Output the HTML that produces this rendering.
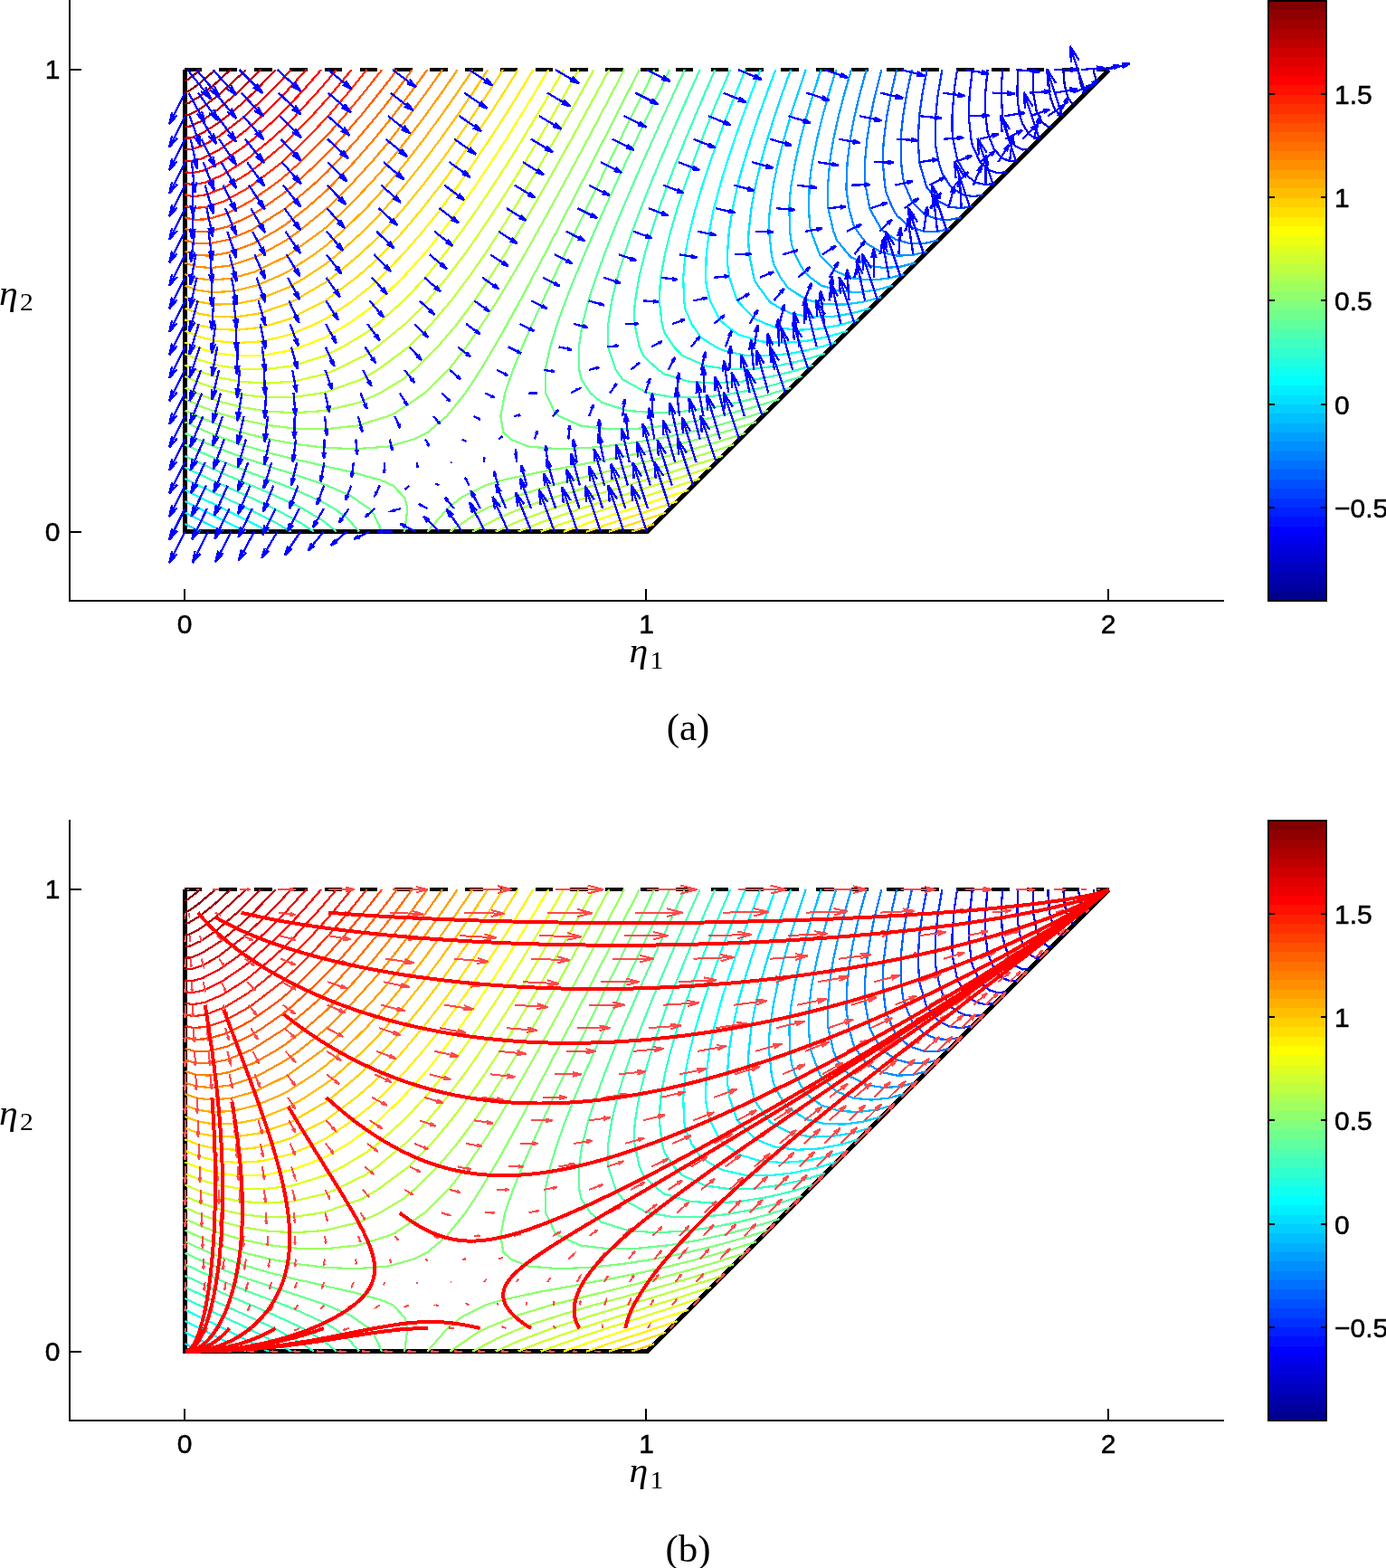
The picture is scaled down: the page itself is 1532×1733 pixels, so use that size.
<!DOCTYPE html>
<html><head><meta charset="utf-8"><title>Figure</title>
<style>html,body{margin:0;padding:0;background:#fff;overflow:hidden}svg{display:block}</style></head>
<body><svg width="1532" height="1733" viewBox="0 0 1532 1733">
<rect width="1532" height="1733" fill="#fff"/>
<g shape-rendering="crispEdges">
<!-- panel a -->
<g fill="none" stroke="#000" stroke-width="5" stroke-linecap="butt" stroke-linejoin="miter"><path d="M204.5,77.1L204.5,587.6L715,587.6L1225.5,77.1"/><path d="M203.5,77.1L1225.5,77.1" stroke-dasharray="19.6,19.2" stroke-width="3.8"/></g>
<g fill="none" stroke-width="2.25" stroke-linejoin="round"><path d="M1212.9,89.7L1211.5,87.9L1209.3,80.6L1208.8,77.1" stroke="#00008f"/><path d="M1200.4,102.2L1197.9,100.8L1194.8,94L1192.2,79.4L1192,77.1" stroke="#00009f"/><path d="M1187.8,114.8L1184.4,113.7L1180.4,107.5L1178.8,102.6L1176.7,93.6L1175.3,77.1" stroke="#0000af"/><path d="M1175.3,127.3L1170.9,126.6L1165.9,121L1161.1,107.9L1160.2,102.6L1158.5,83.5L1158.5,77.1" stroke="#0000bf"/><path d="M1162.7,139.9L1157.4,139.6L1151.4,134.4L1148.1,128.2L1145.6,122.2L1142.1,102.6L1141.8,98.9L1141.8,77.1" stroke="#0000cf"/><path d="M1150.2,152.4L1143.9,152.5L1136.9,147.9L1130,136.4L1127.6,128.1L1125.1,114.4L1124.4,102.6L1125.1,77.1" stroke="#0000df"/><path d="M1137.6,165L1130.4,165.4L1122.4,161.4L1116.4,153.7L1114.5,150.7L1108.3,129.9L1108.1,128.2L1106.7,102.6L1107,92.7L1108.3,77.1" stroke="#0000ef"/><path d="M1125.1,177.5L1116.9,178.4L1107.9,174.9L1098.9,165L1094.2,153.7L1091.6,145.3L1089.4,128.2L1088.9,110L1089.2,102.6L1091.6,77.1" stroke="#0000ff"/><path d="M1112.5,190.1L1103.4,191.3L1093.4,188.3L1083.4,179.2L1083.3,179.2L1074.9,160.8L1073.4,153.7L1070.7,128.2L1070.7,127.3L1071.8,102.6L1074.9,77.1" stroke="#0010ff"/><path d="M1100,202.6L1089.9,204.2L1078.9,201.8L1067.8,193.5L1059.5,179.2L1058.1,176.3L1053.4,153.7L1052.5,144.6L1052.5,128.2L1054.4,102.6L1056.3,88L1058.1,77.1" stroke="#0020ff"/><path d="M1087.4,215.2L1076.4,217.2L1064.4,215.3L1052.3,207.8L1049.9,204.7L1041.4,191.7L1037.6,179.2L1034.3,161.9L1033.9,153.7L1034.3,128.2L1036.2,108.3L1037,102.6L1041.4,77.1" stroke="#0030ff"/><path d="M1074.9,227.7L1062.9,230.1L1049.9,228.8L1036.7,222.1L1024.6,207.2L1023.6,204.7L1016.1,179.3L1016.1,179.2L1014.8,153.7L1016.1,128.6L1016.1,128.2L1019.7,102.6L1024.6,77.1" stroke="#0040ff"/><path d="M1062.3,240.3L1049.4,243L1035.4,242.2L1021.2,236.3L1014.8,230.2L1007.9,222.6L1000.3,204.7L998,196.6L996,179.2L995.7,153.7L995.9,149L998.2,128.1L1002.4,102.6L1007.9,77.1" stroke="#0060ff"/><path d="M1049.8,252.8L1036.6,255.8L1035.9,255.9L1025.2,255.8L1020.9,255.7L1005.6,250.6L991.2,238.1L986.7,230.2L979.8,213.9L978.1,204.7L975.8,179.2L975.8,169.3L977,153.7L980.3,128.2L985.2,102.6L989.3,84.5L991.2,77.1" stroke="#0070ff"/><path d="M1037.2,265.4L1022.4,268.9L1006.4,269.2L990.1,264.9L977.2,255.8L974.4,253.6L961.6,231.2L961.3,230.2L956.6,204.7L955.7,189.7L956,179.2L958.4,153.7L962.5,128.2L966.1,110.3L967.9,102.6L974.4,77.1" stroke="#0080ff"/><path d="M1024.6,278L1010.9,281.3L1008.9,281.8L992,282.7L985,281.3L974.5,279.1L957.7,269L947.7,255.8L943.4,248.5L938.4,230.2L935.5,210L935.5,204.7L936.6,179.2L939.8,153.7L943,136L944.6,128.1L950.7,102.6L957.7,77.1" stroke="#008fff"/><path d="M1012.1,290.5L995.4,294.7L977.5,296.1L959,293.4L941,284.5L937.8,281.3L925.2,265.8L921.3,255.8L915.4,230.3L915.4,230.2L915.1,204.7L917.2,179.2L919.8,161.7L921.3,153.7L926.9,128.2L933.6,102.6L941,77.1" stroke="#009fff"/><path d="M999.5,303.1L985.1,306.8L981.9,307.7L963,309.6L943.4,307.7L941.1,306.8L924.2,300L907.1,283.1L906.1,281.3L896.5,255.8L895.3,250.7L893.9,230.2L894.7,204.7L896.6,187.5L898,179.2L903.1,153.7L909.3,128.2L916.4,102.6L924.2,77.1" stroke="#00afff"/><path d="M987,315.6L968.4,320.6L948.5,323.1L927.9,321.9L907.5,315.4L896,306.8L888.9,300.5L878.8,281.3L875.2,271L873.1,255.8L872.4,230.2L873.5,213.2L874.6,204.7L879,179.2L884.8,153.7L891.6,128.2L899.2,102.6L904.6,85.7L907.5,77.1" stroke="#00bfff"/><path d="M974.4,328.2L959.1,332.4L954.9,333.5L934,336.5L912.3,336.2L896.2,332.4L890.7,330.9L870.7,317.8L862.9,306.8L855,291.3L852.8,281.3L850.1,255.8L850.3,238.9L851.1,230.2L854.8,204.7L860.1,179.2L866.5,153.7L873.9,128.2L875.5,122.7L882,102.6L890.7,77.1" stroke="#00cfff"/><path d="M204.5,579.2L221.2,587.6M961.9,340.7L941.3,346.5L919.5,350L896.8,350.5L874,346.4L852.5,335.1L849.9,332.4L834.9,311.7L833.3,306.8L828.1,281.3L827.1,264.7L827.6,255.8L830.4,230.3L835.1,204.7L841.1,179.2L846.4,159.8L848.3,153.7L856.3,128.1L864.9,102.6L874,77.1" stroke="#00dfff"/><path d="M204.5,566.7L229.7,579.2L246.3,587.6M949.3,353.3L933.1,357.9L927.8,359.4L905,363.5L881.2,364.8L857.3,361.8L846.8,357.9L834.3,352.4L815,332.4L814.8,332L806.4,306.8L803.9,290.4L803.9,281.3L805.8,255.8L809.8,230.2L815.4,204.7L817.3,196.9L822.3,179.2L830.2,153.7L838.7,128.1L847.8,102.6L857.3,77.1" stroke="#00efff"/><path d="M204.5,554.1L220.6,562.1L229.1,566.3L254.9,579.1L271.5,587.6M936.8,365.8L914.3,372.3L890.5,377L865.7,379L840.5,377.3L816.1,369.7L800.4,357.9L794.7,352.4L785,332.4L780.8,316.1L780.1,306.8L780.7,281.3L784,255.8L788.2,234L789.1,230.2L795.9,204.7L803.6,179.2L812.1,153.7L821.1,128.2L830.6,102.6L840.5,77.1" stroke="#00ffff"/><path d="M204.5,541.6L228.5,553.3L246.7,562.1L253.9,565.6L280.3,578.8L296.6,587.6M924.2,378.4L907.1,383.4L900.8,385.2L876,390.4L850.1,393.3L823.8,392.8L798,387L791,383.4L774.5,372.7L764.4,357.9L757.6,341.9L756.1,332.4L755.2,306.8L757.5,281.3L759.1,271.1L762.4,255.8L768.9,230.2L776.5,204.7L784.9,179.2L794,153.7L803.5,128.2L813.5,102.6L823.8,77.1" stroke="#10ffef"/><path d="M204.5,529L220,536.6L227.9,540.4L252.9,552.1L274,562.1L279,564.5L305.8,578.3L321.7,587.6M911.7,390.9L887.3,398.2L861.5,403.9L834.6,407.6L807.1,408.2L779.8,404.4L754.4,393L744.9,383.4L734.4,367.6L731.7,357.9L728.8,332.4L730,308.2L730.2,306.8L734.9,281.3L741.2,255.8L748.7,230.2L757.1,204.7L766.2,179.2L775.9,153.7L785.9,128.2L790.8,116.1L796.4,102.6L807.1,77.1" stroke="#30ffcf"/><path d="M204.5,516.5L227.4,527.5L247.3,536.6L251.8,538.6L277.7,550.3L303,562.1L304.6,562.9L331.6,577.5L346.8,587.6M899.1,403.5L881,408.9L873.8,411.1L847,417.4L819,421.8L790.3,423.7L761.6,421.7L734.3,413.4L727.7,408.9L711.3,393.3L706.8,383.4L701.4,357.9L700.9,345.3L702.1,332.4L706.3,306.8L712.5,281.3L720,255.8L728.5,230.2L737.7,204.7L743.9,188.5L747.5,179.2L757.8,153.7L768.4,128.2L779.2,102.6L790.3,77.1" stroke="#40ffbf"/><path d="M204.5,503.9L219.4,511L226.8,514.5L250.8,525.2L276.5,536L277.9,536.6L303.3,547.4L330.8,560.2L334.6,562.1L357.8,576.1L371.9,587.6M886.6,416L860.3,424L832.5,430.9L812.4,434.4L803.5,436.1L773.6,439.1L743.4,439L717.7,434.4L714.1,433.7L688.1,419.1L680.8,408.9L672,383.4L671.8,382.4L672.3,357.9L676.2,332.4L682.4,306.8L690.1,281.3L697,260.8L698.8,255.8L708.4,230.3L718.5,204.7L729,179.2L739.8,153.7L750.8,128.2L762.1,102.6L773.6,77.1" stroke="#50ffaf"/><path d="M204.5,491.4L226.2,501.6L248.3,511L249.8,511.7L275.2,521.7L302,531.9L314.6,536.6L329.9,542.9L358,555.7L369.4,562.1L384.6,573.4L397,587.6M874,428.6L854.9,434.4L846.8,437L818,444.3L788,450.4L756.8,454.6L725.2,456.3L694,454L664.9,444.8L652.7,434.4L642.7,419.5L640.3,408.9L639.9,383.4L643.8,357.9L650.1,333.2L650.4,332.4L658.7,306.8L668,281.3L677.9,255.8L688.4,230.2L699.3,204.7L710.4,179.2L721.8,153.7L733.3,128.2L745,102.6L756.8,77.1" stroke="#60ff9f"/><path d="M204.5,478.8L218.9,485.5L225.6,488.7L248.8,498.2L273.9,507.5L285.1,511L300.7,516.5L329,525.6L358.2,535.4L361.6,536.6L387.1,547.7L408,562.1L413,567.8L422.1,587.6M861.5,441.1L833.3,449.9L803.6,457.8L793.4,460L772.4,464.6L740.1,470.1L707.1,473.6L673.9,474.4L641.8,470.5L618.3,460L613.6,456.6L603.2,434.4L602.8,408.9L603.3,405.5L608.2,383.4L616,357.9L625.2,332.4L635.3,306.8L645.9,281.3L657,255.8L668.4,230.2L680,204.7L691.8,179.2L703.7,153.7L715.8,128.1L727.9,102.6L740.1,77.1" stroke="#70ff8f"/><path d="M204.5,466.3L225.1,475.8L247.8,484.8L250.1,485.5L272.6,493.2L299.5,501L328.2,508.2L341.8,511L358.4,515.1L389.7,522L420.9,530.7L434.4,536.6L447.4,550.2L450.4,562.1L447.2,587.6M848.9,453.7L828.8,460L819.8,462.8L789.1,471.3L756.9,478.9L723.5,485.5L723.4,485.5L688.9,490.9L653.8,494.7L618.6,496.3L584.5,493.6L564.2,485.5L556.4,477.9L553.3,460L558.2,434.4L567,408.9L577.3,383.4L588.4,357.9L600,332.4L611.8,306.8L623.9,281.3L636.1,255.8L648.4,230.2L660.8,204.7L673.2,179.2L685.7,153.7L698.2,128.2L710.8,102.6L723.4,77.1" stroke="#80ff80"/><path d="M836.3,466.3L806.3,475.8L774.6,484.8L771.5,485.5L741.3,493.2L706.6,501L670.7,508.2L654.3,511L633.6,515.1L595.4,522L555.4,530.7L536.1,536.6L509.5,550.2L494.6,562.1L472.3,587.6M204.5,453.7L218.3,460L224.5,462.8L246.8,471.3L271.3,478.9L298.1,485.5L298.2,485.5L327.3,490.9L358.6,494.7L392.3,496.3L428.9,493.6L457.4,485.5L472.8,477.9L493.8,460L514.4,434.4L531.2,408.9L546.4,383.4L560.8,357.9L574.8,332.4L588.4,306.8L601.9,281.3L615.2,255.8L628.4,230.2L641.6,204.7L654.7,179.2L667.7,153.7L680.7,128.1L693.7,102.6L706.6,77.1" stroke="#8fff70"/><path d="M823.8,478.8L802.7,485.5L792.8,488.7L760.1,498.2L725.8,507.5L711,511L689.9,516.5L652.5,525.6L613.5,535.4L608.9,536.6L572.2,547.7L537,562.1L526.3,567.8L497.4,587.6M204.5,441.1L223.9,449.9L245.7,457.8L253.7,460L270.1,464.6L296.9,470.1L326.4,473.6L358.8,474.4L394.8,470.5L428.8,460L436.9,456.6L469.5,434.4L495.4,408.9L498.3,405.5L515.5,383.4L533.2,357.9L549.6,332.4L565,306.8L579.9,281.3L594.3,255.8L608.4,230.2L622.3,204.7L636.1,179.2L649.7,153.7L663.2,128.2L676.6,102.6L689.9,77.1" stroke="#9fff60"/><path d="M811.2,491.4L779.3,501.6L747.8,511L745.6,511.7L710.2,521.7L673.2,531.9L655.9,536.6L634.3,542.9L593.4,555.7L575.6,562.1L549.1,573.4L522.5,587.6M204.5,428.6L217.7,434.4L223.3,437L244.7,444.3L268.8,450.4L295.6,454.6L325.6,456.3L359,454L397.4,444.8L420,434.4L444.9,419.5L457.8,408.9L483.8,383.4L505.4,357.9L523.8,333.2L524.4,332.4L541.6,306.8L557.8,281.3L573.4,255.8L588.4,230.2L603.1,204.7L617.5,179.2L631.7,153.7L645.6,128.2L659.5,102.6L673.2,77.1" stroke="#afff50"/><path d="M798.7,503.9L776.6,511L765.8,514.5L731.1,525.2L694.7,536L692.7,536.6L656.4,547.4L616.2,560.2L610.5,562.1L573.3,576.1L547.6,587.6M204.5,416L222.8,424L243.7,430.9L260.3,434.4L267.5,436.1L294.4,439.1L324.7,439L355,434.4L359.2,433.7L400,419.1L417.4,408.9L451.7,383.4L452.9,382.4L477,357.9L498.5,332.4L517.9,306.8L535.7,281.3L549.2,260.8L552.5,255.8L568.5,230.2L583.9,204.7L598.9,179.2L613.6,153.7L628.1,128.2L642.3,102.6L656.4,77.1" stroke="#bfff40"/><path d="M786.1,516.5L752.3,527.5L723.2,536.6L716.6,538.6L679.1,550.3L642,562.1L639.7,562.9L598,577.5L572.7,587.6M204.5,403.5L217.2,408.9L222.2,411.1L242.7,417.4L266.2,421.8L293.1,423.7L323.8,421.7L359.5,413.4L370.5,408.9L402.5,393.3L416.9,383.4L447.9,357.9L460.9,345.3L472.7,332.4L494,306.8L513.3,281.3L531.3,255.8L548.3,230.2L564.6,204.7L574.7,188.5L580.4,179.2L595.6,153.7L610.6,128.2L625.2,102.6L639.7,77.1" stroke="#cfff30"/><path d="M773.6,529L750.5,536.6L738.8,540.4L702.1,552.1L671,562.1L663.6,564.5L622.9,578.3L597.8,587.6M204.5,390.9L221.6,398.2L241.7,403.9L264.9,407.6L291.8,408.2L323,404.4L359.7,393L378.8,383.4L405.1,367.6L417.5,357.9L445.9,332.4L468.9,308.2L470.1,306.8L490.9,281.3L510.1,255.8L528.1,230.3L545.3,204.7L561.7,179.2L577.6,153.7L593,128.2L600.2,116.1L608.1,102.6L622.9,77.1" stroke="#dfff20"/><path d="M761,541.6L725.3,553.3L698.3,562.1L687.6,565.6L648,578.8L622.9,587.6M204.5,378.4L216.6,383.4L221,385.2L240.6,390.4L263.7,393.3L290.6,392.8L322.1,387L332.7,383.4L359.9,372.7L384.8,357.9L407.6,341.9L418.7,332.4L445.1,306.8L468.3,281.3L476.9,271.1L488.9,255.8L507.9,230.2L525.9,204.7L543,179.2L559.5,153.7L575.4,128.2L591,102.6L606.2,77.1" stroke="#ffff00"/><path d="M748.5,554.1L724.4,562.1L711.8,566.3L673.1,579.1L648,587.6M204.5,365.8L220.5,372.3L239.6,377L262.4,379L289.3,377.3L321.2,369.7L348.8,357.9L360.1,352.4L389.7,332.4L410.2,316.1L420.2,306.8L445.1,281.3L467.4,255.8L484.9,234L487.7,230.2L506.5,204.7L524.3,179.2L541.4,153.7L557.9,128.2L573.9,102.6L589.5,77.1" stroke="#ffef00"/><path d="M735.9,566.7L698.3,579.2L673.2,587.6M204.5,353.3L216.1,357.9L219.9,359.4L238.6,363.5L261.1,364.8L288,361.8L302.4,357.9L320.4,352.4L359.7,332.4L360.3,332L393.9,306.8L412.8,290.4L421.9,281.3L445.6,255.8L467.1,230.2L487,204.7L492.8,196.9L505.6,179.2L523.3,153.7L540.3,128.2L556.7,102.6L572.7,77.1" stroke="#ffdf00"/><path d="M723.4,579.2L698.3,587.6M204.5,340.7L219.3,346.5L237.6,350L259.8,350.5L286.7,346.4L319.5,335.1L324.9,332.4L360.5,311.7L367,306.8L397.7,281.3L415.3,264.7L423.7,255.8L446.4,230.2L467.3,204.7L486.8,179.2L500.8,159.8L505.2,153.7L522.7,128.2L539.6,102.6L556,77.1" stroke="#ffcf00"/><path d="M204.5,328.2L215.6,332.4L218.7,333.5L236.6,336.5L258.6,336.2L278.5,332.4L285.5,330.9L318.6,317.8L337.4,306.8L360.7,291.3L373,281.3L401.2,255.8L417.9,238.9L425.7,230.2L447.5,204.7L467.8,179.2L486.9,153.7L505.1,128.2L508.8,122.7L522.5,102.6L539.3,77.1" stroke="#ffbf00"/><path d="M204.5,315.6L218.1,320.6L235.5,323.1L257.3,321.9L284.2,315.4L304.3,306.8L317.8,300.5L347,281.3L360.9,271L378.3,255.8L404.5,230.3L420.4,213.2L427.8,204.7L448.9,179.2L468.6,153.7L487.4,128.1L505.3,102.6L516.8,85.7L522.5,77.1" stroke="#ffaf00"/><path d="M204.5,303.1L215.2,306.8L217.6,307.7L234.5,309.6L256,307.7L259.2,306.8L282.9,300L316.9,283.1L319.7,281.3L354.8,255.8L361.1,250.7L383,230.2L407.6,204.7L423,187.5L429.9,179.2L450.4,153.7L469.7,128.2L488.1,102.6L505.8,77.1" stroke="#ff9f00"/><path d="M204.5,290.5L217,294.7L233.5,296.1L254.7,293.4L281.6,284.5L288,281.3L316,265.8L330,255.8L361.3,230.3L361.4,230.2L387.3,204.7L410.7,179.2L425.6,161.7L432.1,153.7L452,128.2L470.9,102.6L489,77.1" stroke="#ff8f00"/><path d="M204.5,278L214.9,281.3L216.4,281.8L232.5,282.7L240.8,281.3L253.4,279.1L280.4,269L303.6,255.8L315.2,248.5L338.5,230.2L361.6,210L366.9,204.7L391.3,179.2L413.6,153.7L428.1,136L434.3,128.2L453.7,102.6L472.3,77.1" stroke="#ff8000"/><path d="M204.5,265.4L215.8,268.9L231.5,269.2L252.2,264.9L274.2,255.8L279.1,253.6L314.3,231.2L315.5,230.2L345.7,204.7L361.8,189.7L371.9,179.2L395,153.7L416.5,128.2L430.7,110.3L436.6,102.6L455.6,77.1" stroke="#ff7000"/><path d="M204.5,252.8L214.7,255.8L215.3,255.9L226.1,255.8L230.5,255.7L250.9,250.6L277.8,238.1L290.1,230.2L313.4,213.9L324.3,204.7L352.1,179.2L362,169.3L376.4,153.7L398.6,128.2L419.3,102.6L433.3,84.5L438.8,77.1" stroke="#ff6000"/><path d="M204.5,240.3L214.7,243L229.4,242.2L249.6,236.3L262.1,230.2L276.5,222.6L302,204.7L312.6,196.6L331.9,179.2L357.7,153.7L362.2,149L380.7,128.2L402,102.6L422.1,77.1" stroke="#ff5000"/><path d="M204.5,227.7L214.1,230.1L228.4,228.8L248.3,222.1L275.3,207.2L278.8,204.7L311.7,179.3L311.8,179.2L338.6,153.7L362.4,128.6L362.8,128.2L384.8,102.6L405.4,77.1" stroke="#ff3000"/><path d="M204.5,215.2L213.5,217.2L227.4,215.3L247,207.8L252.5,204.7L274,191.7L290.3,179.2L310.8,161.9L319.5,153.7L344.7,128.2L362.6,108.3L367.5,102.6L388.6,77.1" stroke="#ff2000"/><path d="M204.5,202.6L213,204.2L226.4,201.8L245.8,193.5L268.4,179.2L272.7,176.3L300,153.7L310,144.6L326.5,128.1L350.1,102.6L362.8,88L371.9,77.1" stroke="#ff1000"/><path d="M204.5,190.1L212.4,191.3L225.4,188.3L244.5,179.2L244.6,179.2L271.5,160.8L280,153.7L308.2,128.2L309.1,127.3L332.7,102.6L355.1,77.1" stroke="#ff0000"/><path d="M204.5,177.5L211.8,178.4L224.3,174.9L243.2,165L259.2,153.7L270.2,145.3L289.5,128.2L308.2,110L315.3,102.6L338.4,77.1" stroke="#ef0000"/><path d="M204.5,165L211.2,165.4L223.3,161.4L237,153.7L241.9,150.7L268.9,129.9L270.8,128.2L297.7,102.6L307.4,92.7L321.7,77.1" stroke="#df0000"/><path d="M204.5,152.4L210.7,152.5L222.3,147.9L240.7,136.4L251.3,128.2L267.6,114.4L280.1,102.6L304.9,77.1" stroke="#cf0000"/><path d="M204.5,139.9L210.1,139.6L221.3,134.4L230.9,128.2L239.4,122.2L262.3,102.6L266.4,98.9L288.2,77.1" stroke="#bf0000"/><path d="M204.5,127.3L209.5,126.6L220.3,121L238.1,107.9L244.3,102.6L265.1,83.5L271.5,77.1" stroke="#af0000"/><path d="M204.5,114.8L208.9,113.7L219.2,107.5L225.7,102.6L236.8,93.6L254.7,77.1" stroke="#9f0000"/><path d="M204.5,102.2L208.4,100.8L218.2,94L235.5,79.4L238,77.1" stroke="#8f0000"/><path d="M204.5,89.7L207.8,87.9L217.2,80.6L221.2,77.1" stroke="#800000"/></g>
<path d="M204.5,587.6L187.2,622.1M195.8,612.1L187.2,622.1L190.1,609.3M230,587.6L212.8,621.9M221.3,612L212.8,621.9L215.6,609.1M255.6,587.6L238.3,621.1M246.7,611.4L238.3,621.1L241.2,608.6M281.1,587.6L263.8,619.5M272.1,610.4L263.8,619.5L266.9,607.6M306.6,587.6L289.3,617M297.5,608.7L289.3,617L292.6,605.9M332.1,587.6L314.9,613.5M322.7,606.4L314.9,613.5L318.4,603.5M357.7,587.6L340.4,608.7M347.8,603.2L340.4,608.7L344.3,600.3M383.2,587.6L365.9,602.7M372.9,599.2L365.9,602.7L370.4,596.3M408.7,587.6L391.4,595.6M397.8,594.4L391.4,595.6L396.5,591.5M434.2,587.6L417,587.5M422.7,589L417,587.5L422.7,586.1M459.8,587.6L442.5,579M447.5,583.2L442.5,579L448.9,580.4M485.3,587.6L468,570.4M472.3,577.5L468,570.4L475.1,574.7M510.8,587.6L493.5,562.4M497.2,572.1L493.5,562.4L501.3,569.3M536.3,587.6L519.1,555.2M522.1,567.3L519.1,555.2L527.4,564.5M561.9,587.6L544.6,549.2M547.1,563.3L544.6,549.2L553.5,560.5M587.4,587.6L570.1,544.5M572.3,560.1L570.1,544.5L579.4,557.3M612.9,587.6L595.6,540.9M597.5,557.7L595.6,540.9L605.2,554.9M638.4,587.6L621.2,538.4M622.8,556.1L621.2,538.4L630.9,553.2M664,587.6L646.7,536.9M648.2,555L646.7,536.9L656.6,552.2M689.5,587.6L672.2,536.1M673.7,554.5L672.2,536.1L682.2,551.7M715,587.6L697.7,535.8M699.2,554.3L697.7,535.8L707.7,551.5M204.5,562.1L187.2,596.6M195.8,586.6L187.2,596.6L190.1,583.8M228.9,562.1L212.2,596.3M220.5,586.4L212.2,596.3L214.9,583.6M253.6,562.1L237.5,595.4M245.6,585.8L237.5,595.4L240.1,583.1M278.8,562.1L263.5,593.8M271.2,584.6L263.5,593.8L265.9,582.1M304.5,562.1L290.2,591.3M297.3,582.8L290.2,591.3L292.5,580.5M330.8,562.1L317.6,587.8M324.1,580.4L317.6,587.8L319.8,578.2M357.9,562.1L345.7,583.2M351.5,577.3L345.7,583.2L348,575.3M385.7,562.1L374.5,577.8M379.5,573.5L374.5,577.8L376.9,571.7M414.2,562.1L403.7,571.5M408,569.3L403.7,571.5L406.4,567.5M443.2,562.1L433.3,564.6M436.8,564.6L433.3,564.6L436.3,562.9M472.5,562.1L462.8,557.2M465.6,559.6L462.8,557.2L466.4,558M501.8,562.1L491.9,549.6M494.1,554.6L491.9,549.6L496.2,552.9M530.8,562.1L520.4,542.2M522.2,549.6L520.4,542.2L525.5,547.9M559.3,562.1L548,535.1M549.5,544.9L548,535.1L554,543.1M587.1,562.1L574.9,528.7M576.2,540.7L574.9,528.7L581.7,538.7M614.2,562.1L600.9,523.1M602.1,537.1L600.9,523.1L608.5,534.9M640.5,562.1L626.2,518.6M627.3,534.1L626.2,518.6L634.5,531.7M666.2,562.1L651,515.1M652.1,531.9L651,515.1L659.9,529.3M691.4,562.1L675.3,512.6M676.6,530.3L675.3,512.6L684.7,527.6M716.1,562.1L699.4,511.1M700.7,529.3L699.4,511.1L709.1,526.5M740.5,562.1L723.3,510.3M724.7,528.8L723.3,510.3L733.2,526M204.5,536.6L187.2,571.1M195.8,561.1L187.2,571.1L190.1,558.2M227.8,536.6L211.6,570.8M219.7,560.8L211.6,570.8L214.1,558.1M251.7,536.6L236.9,569.8M244.5,560.1L236.9,569.8L239,557.6M276.5,536.6L263.2,568.1M270.2,558.8L263.2,568.1L265,556.6M302.4,536.6L290.9,565.5M297.1,556.9L290.9,565.5L292.3,555M329.6,536.6L319.9,562.1M325.2,554.4L319.9,562.1L321,552.8M358.2,536.6L350.3,557.8M354.6,551.4L350.3,557.8L351.1,550.1M388.3,536.6L382,552.8M385.4,547.9L382,552.8L382.7,546.9M419.7,536.6L414.6,547.1M417.2,544.1L414.6,547.1L415.4,543.2M452.2,536.6L447.9,541M449.7,539.9L447.9,541L449,539.2M485.3,536.6L481.3,534.6M482.4,535.5L481.3,534.6L482.8,534.9M518.4,536.6L514.1,527.8M514.8,531L514.1,527.8L516.2,530.3M550.9,536.6L545.8,520.9M546.2,526.5L545.8,520.9L548.8,525.7M582.3,536.6L576,514M576.2,522L576,514L579.9,520.9M612.4,536.6L604.5,507.4M604.7,517.7L604.5,507.4L609.5,516.4M641,536.6L631.3,501.4M631.6,513.8L631.3,501.4L637.4,512.2M668.2,536.6L656.6,496.1M657.1,510.4L656.6,496.1L663.8,508.5M694,536.6L680.8,491.7M681.5,507.6L680.8,491.7L688.9,505.4M718.9,536.6L704,488.4M705,505.5L704,488.4L712.9,503.1M742.8,536.6L726.6,486.2M727.8,504.1L726.6,486.2L736.1,501.5M766.1,536.6L748.8,484.8M750.2,503.3L748.8,484.8L758.8,500.4M204.5,511L187.2,545.5M195.8,535.6L187.2,545.5L190.1,532.7M226.6,511L211.1,545.2M219,535.2L211.1,545.2L213.4,532.7M249.8,511L236.2,544.2M243.4,534.4L236.2,544.2L238,532.1M274.2,511L263,542.4M269.3,533L263,542.4L264.1,531.1M300.3,511L291.5,539.8M296.8,531L291.5,539.8L292,529.6M328.3,511L322,536.4M326.1,528.5L322,536.4L322,527.5M358.4,511L354.4,532.3M357.5,525.6L354.4,532.3L354,524.9M390.8,511L388.7,527.6M390.8,522.3L388.7,527.6L388,522M425.2,511L424.6,522.6M425.7,518.8L424.6,522.6L423.8,518.7M461.2,511L461.5,517.1M461.9,515.1L461.5,517.1L460.9,515.1M498,511L498.6,511.3M498.5,511.2L498.6,511.3L498.4,511.3M534.9,511L535.2,505.2M534.6,507.1L535.2,505.2L535.6,507.2M570.9,511L570.2,498.8M569.4,502.9L570.2,498.8L571.5,502.8M605.3,511L603.2,492.3M602.3,498.6L603.2,492.3L605.4,498.3M637.6,511L633.6,485.7M632.8,494.4L633.6,485.7L637,493.7M667.8,511L661.4,479.4M660.9,490.3L661.4,479.4L666.1,489.3M695.8,511L687,473.5M686.8,486.6L687,473.5L693,485.2M721.9,511L710.6,468.4M710.8,483.4L710.6,468.4L717.8,481.6M746.3,511L732.8,464.3M733.4,480.8L732.8,464.3L741.1,478.6M769.5,511L753.9,461.3M754.9,479L753.9,461.3L763.1,476.4M791.6,511L774.3,459.3M775.7,477.8L774.3,459.3L784.3,474.9M204.5,485.5L187.2,520M195.8,510L187.2,520L190.1,507.2M225.5,485.5L210.6,519.7M218.3,509.6L210.6,519.7L212.7,507.2M247.8,485.5L235.7,518.6M242.4,508.7L235.7,518.6L237,506.7M271.9,485.5L262.7,516.7M268.3,507.2L262.7,516.7L263.2,505.6M298.2,485.5L292,514M296.4,505.1L292,514L291.7,504.1M327,485.5L323.8,510.7M326.9,502.6L323.8,510.7L322.8,502.1M358.7,485.5L358,506.8M360,499.8L358,506.8L356.5,499.7M393.3,485.5L394.8,502.5M395.7,496.8L394.8,502.5L392.9,497M430.7,485.5L433.7,497.8M433.7,493.5L433.7,497.8L431.7,494M470.2,485.5L474.2,492.9M473.4,490.1L474.2,492.9L472.2,490.8M510.8,485.5L515.1,487.7M513.9,486.6L515.1,487.7L513.5,487.3M551.4,485.5L555.4,482.1M553.8,482.9L555.4,482.1L554.4,483.5M590.9,485.5L593.9,476.2M592.2,479L593.9,476.2L593.7,479.5M628.3,485.5L629.7,470M628,475L629.7,470L630.5,475.2M662.9,485.5L662.2,463.5M660.6,470.8L662.2,463.5L664.3,470.7M694.6,485.5L691.3,457.1M690,466.7L691.3,457.1L694.7,466.2M723.4,485.5L717.2,450.8M716.4,462.8L717.2,450.8L722.1,461.8M749.7,485.5L740.5,445.1M740.2,459.2L740.5,445.1L746.8,457.7M773.8,485.5L761.6,440.3M761.9,456.2L761.6,440.3L769.4,454.2M796.1,485.5L781.2,436.4M782.1,453.9L781.2,436.4L790.2,451.4M817.1,485.5L799.8,433.7M801.3,452.2L799.8,433.7L809.8,449.4M204.5,460L187.2,494.5M195.8,484.5L187.2,494.5L190.1,481.7M224.3,460L210.2,494.1M217.7,484L210.2,494.1L212,481.7M245.9,460L235.2,492.9M241.4,482.9L235.2,492.9L236,481.2M269.6,460L262.5,491M267.4,481.3L262.5,491L262.3,480.2M296.1,460L292.5,488.3M296,479.2L292.5,488.3L291.3,478.6M325.7,460L325.3,485M327.5,476.8L325.3,485L323.4,476.7M359,460L361.3,481.3M362.3,474.1L361.3,481.3L358.8,474.5M395.9,460L400.4,477.3M400.3,471.2L400.4,477.3L397.5,471.9M436.2,460L442.3,473M441.4,468.2L442.3,473L439.2,469.2M479.1,460L486.2,468.5M484.6,465.1L486.2,468.5L483.2,466.2M523.6,460L531,463.7M528.8,461.8L531,463.7L528.2,463.1M568,460L575.1,458.6M572.6,458.5L575.1,458.6L572.8,459.6M610.9,460L617.1,453.1M614.5,454.9L617.1,453.1L615.6,455.9M651.2,460L655.8,447.2M653.2,451.1L655.8,447.2L655.3,451.8M688.2,460L690.5,441M688.2,447.1L690.5,441L691.3,447.4M721.4,460L721,434.5M719,443L721,434.5L723.2,442.9M751,460L747.4,428M746,438.9L747.4,428L751.2,438.3M777.5,460L770.3,421.8M769.6,435L770.3,421.8L775.8,433.8M801.2,460L790.5,416.3M790.4,431.6L790.5,416.3L797.6,429.8M822.8,460L808.6,411.7M809.3,428.8L808.6,411.7L817.3,426.5M842.6,460L825.4,408.2M826.8,426.7L825.4,408.2L835.3,423.9M204.5,434.4L187.2,469M195.8,459L187.2,469L190.1,456.1M223.2,434.4L209.9,468.5M217.1,458.4L209.9,468.5L211.5,456.2M244,434.4L234.8,467.3M240.5,457.2L234.8,467.3L235.1,455.7M267.4,434.4L262.3,465.3M266.5,455.5L262.3,465.3L261.4,454.7M294,434.4L292.8,462.6M295.5,453.4L292.8,462.6L290.9,453.2M324.5,434.4L326.7,459.4M328,451L326.7,459.4L323.9,451.3M359.2,434.4L364.3,455.8M364.4,448.3L364.3,455.8L360.9,449.2M398.4,434.4L405.7,452M404.7,445.6L405.7,452L401.8,446.8M441.7,434.4L450.5,448M448.7,442.8L450.5,448L446.4,444.3M488.1,434.4L497.8,443.8M495.4,439.9L497.8,443.8L493.8,441.5M536.3,434.4L546.3,439.4M543.4,437L546.3,439.4L542.6,438.6M584.5,434.4L594.2,434.7M591,433.8L594.2,434.7L591,435.4M631,434.4L639.7,429.7M636.4,430.5L639.7,429.7L637.2,432M674.2,434.4L681.5,424.1M678.2,426.9L681.5,424.1L679.9,428.1M713.4,434.4L718.5,418.1M715.5,423.1L718.5,418.1L718.1,423.9M748.2,434.4L750.4,411.8M747.8,419.1L750.4,411.8L751.5,419.4M778.7,434.4L777.5,405.1M775.4,414.9L777.5,405.1L780.3,414.7M805.3,434.4L800.2,398.6M798.9,410.8L800.2,398.6L804.9,410M828.7,434.4L819.5,392.4M819,407L819.5,392.4L826,405.5M849.4,434.4L836.1,387M836.6,403.8L836.1,387L844.4,401.6M868.1,434.4L850.9,382.7M852.3,401.2L850.9,382.7L860.9,398.3M204.5,408.9L187.2,443.4M195.8,433.5L187.2,443.4L190.1,430.6M222.1,408.9L209.6,443M216.5,432.8L209.6,443L210.9,430.7M242,408.9L234.4,441.7M239.6,431.5L234.4,441.7L234.2,430.2M265.1,408.9L262.1,439.5M265.6,429.7L262.1,439.5L260.5,429.2M291.9,408.9L293.1,436.8M295,427.5L293.1,436.8L290.4,427.7M323.2,408.9L327.9,433.7M328.4,425.1L327.9,433.7L324.3,425.9M359.5,408.9L367,430.3M366.3,422.6L367,430.3L362.7,423.9M401,408.9L410.6,426.7M408.9,420.1L410.6,426.7L405.9,421.6M447.2,408.9L458.3,423M455.8,417.4L458.3,423L453.4,419.3M497.1,408.9L509,419.1M505.9,414.8L509,419.1L504.3,416.7M549.1,408.9L561.3,415M557.8,412L561.3,415L556.8,414M601.1,408.9L613,410.7M609.2,409.1L613,410.7L608.9,411.1M651,408.9L662.1,405.9M658.2,406L662.1,405.9L658.7,407.8M697.2,408.9L706.8,400.7M703,402.6L706.8,400.7L704.3,404.2M738.7,408.9L746.2,395M742.5,399L746.2,395L744.8,400.2M775,408.9L779.7,388.8M776.5,395.1L779.7,388.8L779.8,395.8M806.3,408.9L807.5,382.2M804.9,390.9L807.5,382.2L809.3,391.1M833.1,408.9L830.1,375.3M828.3,386.7L830.1,375.3L833.9,386.2M856.1,408.9L848.5,368.6M847.7,382.5L848.5,368.6L854.4,381.3M876.1,408.9L863.6,362.4M863.9,378.8L863.6,362.4L871.6,376.7M893.7,408.9L876.4,357.2M877.8,375.7L876.4,357.2L886.4,372.8M204.5,383.4L187.2,417.9M195.8,407.9L187.2,417.9L190.1,405.1M220.9,383.4L209.5,417.4M216.1,407.1L209.5,417.4L210.4,405.2M240.1,383.4L234.2,416M238.8,405.7L234.2,416L233.5,404.8M262.8,383.4L261.9,413.8M264.7,403.9L261.9,413.8L259.7,403.7M289.8,383.4L293.2,411.1M294.4,401.7L293.2,411.1L289.8,402.3M321.9,383.4L328.9,408.1M328.6,399.4L328.9,408.1L324.5,400.5M359.8,383.4L369.5,404.8M368,396.9L369.5,404.8L364.5,398.5M403.5,383.4L415.2,401.4M412.8,394.5L415.2,401.4L409.9,396.4M452.7,383.4L465.8,397.9M462.6,392L465.8,397.9L460.2,394.2M506.1,383.4L520,394.3M516.3,389.5L520,394.3L514.5,391.8M561.8,383.4L576,390.5M571.9,387L576,390.5L570.7,389.3M617.6,383.4L631.5,386.4M627.1,384.3L631.5,386.4L626.6,386.5M671,383.4L684.1,382M679.7,381.4L684.1,382L679.9,383.5M720.2,383.4L731.9,377.1M727.5,378.2L731.9,377.1L728.6,380.1M763.9,383.4L773.6,371.7M769.5,374.8L773.6,371.7L771.4,376.4M801.8,383.4L808.7,365.7M805,371L808.7,365.7L807.9,372.1M833.9,383.4L837.4,359.1M834.2,366.8L837.4,359.1L838.2,367.4M860.9,383.4L860.1,352.1M857.8,362.5L860.1,352.1L862.9,362.4M883.6,383.4L877.7,344.9M876.5,358.1L877.7,344.9L882.8,357.1M902.8,383.4L891.3,337.9M891.3,353.9L891.3,337.9L898.8,352M919.2,383.4L901.9,331.6M903.4,350.1L901.9,331.6L911.9,347.3M204.5,357.9L187.2,392.4M195.8,382.4L187.2,392.4L190.1,379.6M219.8,357.9L209.4,391.8M215.7,381.5L209.4,391.8L210.1,379.8M238.2,357.9L234.1,390.3M238.1,380L234.1,390.3L232.7,379.3M260.5,357.9L261.8,388.1M263.8,378L261.8,388.1L258.8,378.2M287.7,357.9L293.3,385.4M293.7,375.9L293.3,385.4L289.2,376.8M320.6,357.9L329.7,382.4M328.8,373.6L329.7,382.4L324.7,375.1M360,357.9L371.7,379.3M369.6,371.3L371.7,379.3L366.1,373.2M406,357.9L419.6,376.1M416.6,368.9L419.6,376.1L413.6,371.2M458.2,357.9L473,372.8M469.3,366.6L473,372.8L466.9,369.1M515.1,357.9L530.6,369.3M526.4,364.3L530.6,369.3L524.6,366.8M574.6,357.9L590.4,365.8M585.8,361.9L590.4,365.8L584.5,364.5M634.1,357.9L649.7,362M644.9,359.3L649.7,362L644.2,361.9M691,357.9L705.9,357.8M701,356.6L705.9,357.8L701,359.1M743.2,357.9L756.8,353.3M751.9,353.7L756.8,353.3L752.7,355.9M789.2,357.9L800.9,348.2M796.2,350.4L800.9,348.2L797.8,352.3M828.6,357.9L837.7,342.4M833.4,346.8L837.7,342.4L836,348.3M861.5,357.9L867.2,336M863.5,342.7L867.2,336L867.1,343.7M888.7,357.9L890,328.9M887.2,338.3L890,328.9L892,338.6M911,357.9L906.9,321.3M905.3,333.7L906.9,321.3L911.3,333M929.4,357.9L919,313.5M918.8,329L919,313.5L926.1,327.3M944.7,357.9L927.5,306.1M928.9,324.6L927.5,306.1L937.4,321.8M204.5,332.4L187.2,366.9M195.8,356.9L187.2,366.9L190.1,354M218.7,332.4L209.5,366.3M215.4,355.8L209.5,366.3L209.8,354.3M236.3,332.4L234,364.7M237.4,354.2L234,364.7L232.1,353.8M258.2,332.4L261.6,362.4M263,352.2L261.6,362.4L258,352.8M285.6,332.4L293.4,359.7M293.1,350L293.4,359.7L288.5,351.3M319.4,332.4L330.5,356.8M328.8,347.8L330.5,356.8L324.8,349.7M360.3,332.4L373.8,353.8M371.1,345.6L373.8,353.8L367.6,347.8M408.6,332.4L423.9,350.7M420.3,343.4L423.9,350.7L417.3,345.9M463.7,332.4L480.1,347.6M475.9,341.2L480.1,347.6L473.4,343.9M524.1,332.4L541.1,344.3M536.5,339L541.1,344.3L534.5,341.8M587.4,332.4L604.6,341M599.6,336.7L604.6,341L598.2,339.6M650.7,332.4L667.7,337.4M662.5,334.3L667.7,337.4L661.7,337.1M711.1,332.4L727.5,333.5M722.2,331.8L727.5,333.5L722,334.5M766.2,332.4L781.4,329.3M776.1,329L781.4,329.3L776.7,331.5M814.5,332.4L828,324.5M822.9,325.9L828,324.5L824.2,328.2M855.4,332.4L866.5,319M861.7,322.5L866.5,319L863.9,324.3M889.2,332.4L897,312.8M892.8,318.6L897,312.8L896,319.9M916.5,332.4L919.9,305.7M916.6,314.2L919.9,305.7L921,314.8M938.5,332.4L936.3,297.8M934.2,309.4L936.3,297.8L939.9,309M956.1,332.4L946.9,289.3M946.4,304.3L946.9,289.3L953.5,302.8M970.2,332.4L953,280.6M954.4,299.1L953,280.6L963,296.2M204.5,306.8L187.2,341.3M195.8,331.4L187.2,341.3L190.1,328.5M217.5,306.8L209.8,340.7M215.2,330.1L209.8,340.7L209.6,328.9M234.3,306.8L234.1,339M236.8,328.4L234.1,339L231.5,328.4M255.9,306.8L261.5,336.7M262.1,326.4L261.5,336.7L257.2,327.3M283.5,306.8L293.3,334M292.3,324.2L293.3,334L287.8,325.9M318.1,306.8L331.1,331.2M328.8,322.1L331.1,331.2L324.8,324.2M360.6,306.8L375.8,328.3M372.5,319.9L375.8,328.3L369,322.5M411.1,306.8L427.9,325.3M423.9,317.8L427.9,325.3L420.8,320.6M469.2,306.8L487,322.3M482.4,315.8L487,322.3L479.8,318.7M533.1,306.8L551.4,319.3M546.4,313.7L551.4,319.3L544.3,316.7M600.1,306.8L618.7,316.1M613.3,311.5L618.7,316.1L611.8,314.6M667.2,306.8L685.6,312.7M680,309.3L685.6,312.7L679,312.3M731.1,306.8L748.9,309.1M743.2,306.9L748.9,309.1L742.8,309.8M789.2,306.8L805.9,305.1M800.3,304.3L805.9,305.1L800.5,307.1M839.7,306.8L855,300.6M849.4,301.4L855,300.6L850.4,303.9M882.2,306.8L895.2,295.4M890,298.1L895.2,295.4L891.8,300.3M916.8,306.8L926.7,289.5M922,294.4L926.7,289.5L924.8,296M944.4,306.8L949.9,282.5M946.1,290.1L949.9,282.5L950.1,291M966,306.8L965.8,274.5M963.2,285.2L965.8,274.5L968.5,285.1M982.7,306.8L975,265.3M974.1,279.6L975,265.3L981,278.3M995.8,306.8L978.5,255.1M979.9,273.6L978.5,255.1L988.5,270.7M204.5,281.3L187.2,315.8M195.8,305.8L187.2,315.8L190.1,303M216.4,281.3L210.3,315.1M215.1,304.4L210.3,315.1L209.5,303.4M232.4,281.3L234.3,313.3M236.3,302.6L234.3,313.3L231.1,302.9M253.6,281.3L261.4,311M261.3,300.5L261.4,311L256.4,301.8M281.4,281.3L293.2,308.3M291.6,298.4L293.2,308.3L287.1,300.4M316.8,281.3L331.6,305.6M328.7,296.4L331.6,305.6L324.7,298.8M360.8,281.3L377.6,302.8M373.8,294.3L377.6,302.8L370.3,297.1M413.7,281.3L431.8,299.9M427.4,292.3L431.8,299.9L424.3,295.3M474.7,281.3L493.7,297.1M488.7,290.3L493.7,297.1L486.1,293.4M542,281.3L561.6,294.2M556.2,288.3L561.6,294.2L554.1,291.5M612.9,281.3L632.6,291.2M626.9,286.3L632.6,291.2L625.3,289.5M683.8,281.3L703.3,288M697.4,284.2L703.3,288L696.3,287.4M751.1,281.3L770.2,284.6M764.2,281.9L770.2,284.6L763.6,285.1M812.1,281.3L830.3,280.8M824.3,279.5L830.3,280.8L824.4,282.5M865,281.3L881.8,276.6M875.8,276.8L881.8,276.6L876.6,279.5M909,281.3L923.8,271.8M918.1,273.7L923.8,271.8L919.7,276.1M944.4,281.3L956.3,266.1M951.1,270.2L956.3,266.1L953.6,272.1M972.2,281.3L979.9,259.4M975.5,266L979.9,259.4L979.2,267.3M993.4,281.3L995.4,251.3M992.2,261L995.4,251.3L997.2,261.3M1009.4,281.3L1003.3,241.4M1002,255.1L1003.3,241.4L1008.6,254.1M1021.3,281.3L1004,229.5M1005.5,248L1004,229.5L1014,245.2M204.5,255.8L187.2,290.3M195.8,280.3L187.2,290.3L190.1,277.5M215.3,255.8L211,289.5M215.2,278.7L211,289.5L209.6,278M230.5,255.8L234.7,287.6M235.9,276.8L234.7,287.6L230.7,277.5M251.3,255.8L261.3,285.2M260.4,274.7L261.3,285.2L255.6,276.3M279.3,255.8L293.1,282.7M290.7,272.6L293.1,282.7L286.3,274.9M315.5,255.8L332,280M328.5,270.6L332,280L324.5,273.3M361.1,255.8L379.3,277.3M375.1,268.7L379.3,277.3L371.5,271.7M416.2,255.8L435.6,274.5M430.8,266.7L435.6,274.5L427.7,270M480.2,255.8L500.4,271.8M495,264.8L500.4,271.8L492.4,268.2M551,255.8L571.6,269M565.9,262.9L571.6,269L563.7,266.4M625.7,255.8L646.4,266.2M640.4,261L646.4,266.2L638.7,264.4M700.3,255.8L720.9,263.2M714.7,259L720.9,263.2L713.5,262.4M771.2,255.8L791.4,259.9M785,256.9L791.4,259.9L784.3,260.2M835.1,255.8L854.6,256.4M848.2,254.6L854.6,256.4L848.1,257.8M890.2,255.8L908.5,252.5M902.2,252.1L908.5,252.5L902.7,255.1M935.8,255.8L952.2,248M946.2,249.2L952.2,248L947.4,251.9M972.1,255.8L985.9,242.7M980.2,245.9L985.9,242.7L982.4,248.2M1000,255.8L1009.9,236.3M1005,241.9L1009.9,236.3L1008.3,243.5M1020.9,255.8L1025.1,228.2M1021.4,236.9L1025.1,228.2L1026,237.6M1036.1,255.8L1031.8,217.8M1030.1,230.7L1031.8,217.8L1036.3,230M1046.8,255.8L1029.6,204M1031,222.5L1029.6,204L1039.5,219.7M204.5,230.2L187.2,264.8M195.8,254.8L187.2,264.8L190.1,251.9M214.1,230.2L212,263.8M215.5,252.9L212,263.8L209.9,252.6M228.5,230.2L235.2,261.9M235.6,250.9L235.2,261.9L230.4,252M249.1,230.2L261.2,259.5M259.6,248.9L261.2,259.5L254.8,250.9M277.2,230.2L292.9,257M289.9,246.9L292.9,257L285.5,249.4M314.3,230.2L332.3,254.4M328.3,244.9L332.3,254.4L324.3,247.9M361.3,230.2L380.9,251.8M376.2,243L380.9,251.8L372.7,246.3M418.7,230.2L439.3,249.1M434.1,241.2L439.3,249.1L431,244.6M485.7,230.2L506.9,246.5M501.2,239.4L506.9,246.5L498.6,242.9M560,230.2L581.6,243.8M575.6,237.6L581.6,243.8L573.4,241.1M638.4,230.2L660.1,241.1M653.9,235.7L660.1,241.1L652.1,239.3M716.8,230.2L738.4,238.3M732,233.8L738.4,238.3L730.7,237.4M791.2,230.2L812.4,235.2M805.8,231.8L812.4,235.2L805,235.3M858.1,230.2L878.7,232M872,229.7L878.7,232L871.8,233.1M915.5,230.2L935.1,228.3M928.5,227.3L935.1,228.3L928.8,230.6M962.6,230.2L980.6,224.1M974.2,224.7L980.6,224.1L975.2,227.6M999.7,230.2L1015.4,219.2M1009.3,221.6L1015.4,219.2L1011.1,224.1M1027.8,230.2L1040,213.1M1034.5,217.8L1040,213.1L1037.4,219.8M1048.3,230.2L1055,205.3M1050.8,213L1055,205.3L1054.9,214.1M1062.7,230.2L1060.6,194.5M1058.4,206.5L1060.6,194.5L1064.3,206.2M1072.4,230.2L1055.1,178.5M1056.5,197L1055.1,178.5L1065.1,194.1M204.5,204.7L187.2,239.2M195.8,229.3L187.2,239.2L190.1,226.4M213,204.7L213.4,238.2M216.1,227.1L213.4,238.2L210.5,227.2M226.6,204.7L235.9,236.2M235.4,225L235.9,236.2L230.3,226.6M246.8,204.7L261.2,233.8M258.8,223L261.2,233.8L254,225.4M275.1,204.7L292.6,231.3M289,221.1L292.6,231.3L284.6,224M313,204.7L332.5,228.8M328,219.2L332.5,228.8L324.1,222.4M361.6,204.7L382.4,226.2M377.3,217.4L382.4,226.2L373.8,220.9M421.3,204.7L442.9,223.7M437.4,215.7L442.9,223.7L434.2,219.2M491.2,204.7L513.3,221.2M507.4,213.9L513.3,221.2L504.7,217.6M569,204.7L591.5,218.6M585.2,212.2L591.5,218.6L582.9,215.9M651.2,204.7L673.8,216M667.2,210.4L673.8,216L665.4,214.1M733.4,204.7L755.9,213.3M749.1,208.6L755.9,213.3L747.7,212.3M811.2,204.7L833.4,210.4M826.5,206.7L833.4,210.4L825.6,210.4M881.1,204.7L902.7,207.4M895.8,204.7L902.7,207.4L895.4,208.3M940.8,204.7L961.6,204M954.6,202.5L961.6,204L954.8,206M989.4,204.7L1008.9,200.2M1002.1,200.1L1008.9,200.2L1002.8,203.3M1027.3,204.7L1044.8,195.7M1038.3,197.2L1044.8,195.7L1039.8,200.1M1055.6,204.7L1070,190.1M1064,193.7L1070,190.1L1066.5,196.1M1075.8,204.7L1085.1,182.6M1080.2,189.1L1085.1,182.6L1083.9,190.7M1089.4,204.7L1089.8,171.7M1087,182.6L1089.8,171.7L1092.4,182.6M1097.9,204.7L1080.6,153M1082,171.5L1080.6,153L1090.6,168.6M204.5,179.2L187.2,213.7M195.8,203.7L187.2,213.7L190.1,200.9M211.9,179.2L215.4,212.5M217,201.3L215.4,212.5L211.5,201.8M224.7,179.2L236.8,210.4M235.4,199.1L236.8,210.4L230.2,201.1M244.5,179.2L261.1,208.1M258,197.2L261.1,208.1L253.3,199.9M273,179.2L292.2,205.6M288.1,195.3L292.2,205.6L283.7,198.5M311.7,179.2L332.6,203.2M327.7,193.5L332.6,203.2L323.7,197M361.9,179.2L383.8,200.7M378.4,191.8L383.8,200.7L374.8,195.4M423.8,179.2L446.5,198.3M440.6,190.1L446.5,198.3L437.4,193.9M496.7,179.2L519.7,195.8M513.5,188.5L519.7,195.8L510.7,192.3M578,179.2L601.2,193.4M594.7,186.8L601.2,193.4L592.4,190.6M664,179.2L687.3,190.9M680.6,185.1L687.3,190.9L678.6,188.9M749.9,179.2L773.2,188.3M766.3,183.4L773.2,188.3L764.8,187.2M831.2,179.2L854.3,185.6M847.2,181.6L854.3,185.6L846.1,185.4M904.1,179.2L926.7,182.7M919.5,179.7L926.7,182.7L918.9,183.4M966,179.2L988,179.6M980.8,177.7L988,179.6L980.7,181.3M1016.2,179.2L1037.1,176.1M1030,175.4L1037.1,176.1L1030.5,178.9M1054.9,179.2L1074.2,172.1M1067.3,172.8L1074.2,172.1L1068.4,176M1083.4,179.2L1100.1,167M1093.6,169.6L1100.1,167L1095.6,172.4M1103.2,179.2L1115.4,160.1M1109.8,165.4L1115.4,160.1L1112.9,167.4M1116,179.2L1119.5,149.4M1115.9,158.9L1119.5,149.4L1120.9,159.5M1123.4,179.2L1106.1,127.4M1107.6,145.9L1106.1,127.4L1116.1,143.1M204.5,153.7L187.2,188.2M195.8,178.2L187.2,188.2L190.1,175.4M210.7,153.7L218,186.9M218.3,175.3L218,186.9L212.8,176.5M222.7,153.7L237.9,184.7M235.5,173.2L237.9,184.7L230.4,175.7M242.2,153.7L261.1,182.3M257.2,171.3L261.1,182.3L252.5,174.4M270.9,153.7L291.9,180M287.1,169.6L291.9,180L282.8,173M310.4,153.7L332.7,177.6M327.3,167.9L332.7,177.6L323.4,171.5M362.1,153.7L385.2,175.2M379.3,166.2L385.2,175.2L375.8,170M426.4,153.7L449.9,172.9M443.7,164.6L449.9,172.9L440.6,168.5M502.2,153.7L526,170.5M519.5,163L526,170.5L516.7,166.9M587,153.7L611,168.1M604.2,161.4L611,168.1L601.9,165.3M676.7,153.7L700.8,165.7M693.8,159.8L700.8,165.7L691.8,163.7M766.5,153.7L790.5,163.2M783.3,158.1L790.5,163.2L781.8,162.1M851.3,153.7L875.1,160.7M867.8,156.4L875.1,160.7L866.7,160.3M927.1,153.7L950.6,158M943.2,154.7L950.6,158L942.5,158.5M991.3,153.7L1014.3,155.2M1006.8,152.8L1014.3,155.2L1006.6,156.6M1043,153.7L1065.2,152M1057.8,150.7L1065.2,152L1058,154.4M1082.6,153.7L1103.6,148.4M1096.2,148.4L1103.6,148.4L1097.1,151.9M1111.2,153.7L1130.2,143.9M1123.1,145.6L1130.2,143.9L1124.7,148.7M1130.7,153.7L1145.9,137.9M1139.6,141.8L1145.9,137.9L1142.2,144.3M1142.7,153.7L1149.9,127.7M1145.4,135.7L1149.9,127.7L1149.7,136.9M1148.9,153.7L1131.7,101.9M1133.1,120.4L1131.7,101.9L1141.6,117.6M204.5,128.2L187.2,162.7M195.8,152.7L187.2,162.7L190.1,149.8M209.6,128.2L221.5,161.1M220.3,149.3L221.5,161.1L214.9,151.2M220.8,128.2L239.3,158.9M235.7,147.2L239.3,158.9L230.6,150.3M239.9,128.2L261.1,156.6M256.5,145.5L261.1,156.6L251.8,149M268.8,128.2L291.4,154.3M286.1,143.8L291.4,154.3L281.8,147.5M309.2,128.2L332.7,152M326.9,142.2L332.7,152L322.9,146.1M362.4,128.2L386.4,149.7M380.3,140.6L386.4,149.7L376.7,144.6M428.9,128.2L453.3,147.4M446.8,139L453.3,147.4L443.6,143.1M507.7,128.2L532.2,145.1M525.5,137.5L532.2,145.1L522.7,141.5M595.9,128.2L620.6,142.8M613.7,135.9L620.6,142.8L611.3,140M689.5,128.2L714.2,140.5M707.1,134.4L714.2,140.5L705,138.5M783,128.2L807.7,138.2M800.4,132.8L807.7,138.2L798.7,136.9M871.3,128.2L895.9,135.8M888.4,131.2L895.9,135.8L887.1,135.3M950,128.2L974.4,133.3M966.8,129.6L974.4,133.3L965.9,133.6M1016.5,128.2L1040.6,130.6M1032.9,127.8L1040.6,130.6L1032.5,131.8M1069.8,128.2L1093.3,127.8M1085.5,126L1093.3,127.8L1085.6,129.9M1110.2,128.2L1132.9,124.7M1125.1,124L1132.9,124.7L1125.7,127.7M1139,128.2L1160.3,120.9M1152.7,121.6L1160.3,120.9L1153.9,125.1M1158.1,128.2L1176.6,115.9M1169.5,118.4L1176.6,115.9L1171.5,121.4M1169.4,128.2L1181.3,107.1M1175.6,113.1L1181.3,107.1L1179.1,115M1174.4,128.2L1157.2,76.4M1158.6,94.9L1157.2,76.4L1167.2,92M204.5,102.6L187.2,137.1M195.8,127.2L187.2,137.1L190.1,124.3M208.5,102.6L226.4,135.3M223.2,123.1L226.4,135.3L217.8,126M218.9,102.6L240.9,133.1M236.2,121.2L240.9,133.1L231.1,124.9M237.6,102.6L261.2,130.9M255.7,119.6L261.2,130.9L251.1,123.5M266.7,102.6L291,128.6M285.1,118L291,128.6L280.8,122.1M307.9,102.6L332.6,126.4M326.4,116.5L332.6,126.4L322.5,120.6M362.7,102.6L387.7,124.2M381.2,115L387.7,124.2L377.6,119.1M431.5,102.6L456.6,122M449.9,113.5L456.6,122L446.7,117.7M513.2,102.6L538.4,119.7M531.5,112L538.4,119.7L528.7,116.2M604.9,102.6L630.2,117.5M623.1,110.5L630.2,117.5L620.7,114.7M702.2,102.6L727.6,115.3M720.2,109L727.6,115.3L718.2,113.2M799.5,102.6L824.9,113M817.4,107.5L824.9,113L815.6,111.7M891.3,102.6L916.6,110.8M908.9,106L916.6,110.8L907.6,110.2M973,102.6L998.2,108.4M990.4,104.4L998.2,108.4L989.4,108.6M1041.8,102.6L1066.8,106.1M1058.8,102.9L1066.8,106.1L1058.3,107M1096.6,102.6L1121.3,103.6M1113.2,101.2L1121.3,103.6L1113.1,105.3M1137.8,102.6L1162.1,100.9M1154,99.5L1162.1,100.9L1154.2,103.5M1166.9,102.6L1190.4,97.9M1182.2,97.5L1190.4,97.9L1183,101.4M1185.6,102.6L1207.6,94.2M1199.6,95.1L1207.6,94.2L1201,98.8M1196,102.6L1213.9,87.8M1206.8,91.2L1213.9,87.8L1209.2,94.2M1200,102.6L1182.7,50.9M1184.1,69.4L1182.7,50.9L1192.7,66.5M207.3,77.1L233.2,109.5M227.3,96.6L233.2,109.5L222,100.9M217,77.1L242.8,107.3M236.8,95.2L242.8,107.3L231.8,99.5M235.3,77.1L261.2,105.1M255,93.8L261.2,105.1L250.4,98M264.6,77.1L290.4,103M284,92.3L290.4,103L279.8,96.6M306.6,77.1L332.5,100.8M325.9,90.9L332.5,100.8L322,95.1M362.9,77.1L388.8,98.7M382.1,89.4L388.8,98.7L378.5,93.7M434,77.1L459.9,96.5M452.9,88L459.9,96.5L449.7,92.2M518.7,77.1L544.5,94.4M537.4,86.5L544.5,94.4L534.6,90.8M613.9,77.1L639.8,92.2M632.5,85.1L639.8,92.2L630,89.4M715,77.1L740.9,90M733.4,83.6L740.9,90L731.3,87.9M816.1,77.1L842,87.9M834.3,82.2L842,87.9L832.5,86.5M911.3,77.1L937.2,85.7M929.4,80.7L937.2,85.7L928,85M996,77.1L1021.9,83.6M1013.9,79.3L1021.9,83.6L1012.8,83.6M1067.1,77.1L1093,81.4M1084.8,77.9L1093,81.4L1084.1,82.1M1123.4,77.1L1149.3,79.3M1140.9,76.4L1149.3,79.3L1140.6,80.7M1165.4,77.1L1191.3,77.1M1182.8,75L1191.3,77.1L1182.8,79.2M1194.7,77.1L1220.5,74.9M1211.8,73.5L1220.5,74.9L1212.2,77.8M1213,77.1L1238.9,72.8M1230,72.1L1238.9,72.8L1230.7,76.3M1222.7,77.1L1248.6,70.6M1239.5,70.6L1248.6,70.6L1240.6,74.9" fill="none" stroke="#0000ff" stroke-width="2.3" stroke-linejoin="miter"/>
<g stroke="#000" stroke-width="2" fill="none"><path d="M77,-0.5L77,664L1353,664"/><path d="M204,664L204,651"/><path d="M714,664L714,651"/><path d="M1225,664L1225,651"/><path d="M77,588L90,588"/><path d="M77,77L90,77"/></g>
<rect x="1402" y="653.63" width="64" height="10.97" fill="#00008f"/><rect x="1402" y="643.27" width="64" height="10.97" fill="#00009f"/><rect x="1402" y="632.90" width="64" height="10.97" fill="#0000af"/><rect x="1402" y="622.53" width="64" height="10.97" fill="#0000bf"/><rect x="1402" y="612.16" width="64" height="10.97" fill="#0000cf"/><rect x="1402" y="601.80" width="64" height="10.97" fill="#0000df"/><rect x="1402" y="591.43" width="64" height="10.97" fill="#0000ef"/><rect x="1402" y="581.06" width="64" height="10.97" fill="#0000ff"/><rect x="1402" y="570.70" width="64" height="10.97" fill="#0010ff"/><rect x="1402" y="560.33" width="64" height="10.97" fill="#0020ff"/><rect x="1402" y="549.96" width="64" height="10.97" fill="#0030ff"/><rect x="1402" y="539.59" width="64" height="10.97" fill="#0040ff"/><rect x="1402" y="529.23" width="64" height="10.97" fill="#0050ff"/><rect x="1402" y="518.86" width="64" height="10.97" fill="#0060ff"/><rect x="1402" y="508.49" width="64" height="10.97" fill="#0070ff"/><rect x="1402" y="498.12" width="64" height="10.97" fill="#0080ff"/><rect x="1402" y="487.76" width="64" height="10.97" fill="#008fff"/><rect x="1402" y="477.39" width="64" height="10.97" fill="#009fff"/><rect x="1402" y="467.02" width="64" height="10.97" fill="#00afff"/><rect x="1402" y="456.66" width="64" height="10.97" fill="#00bfff"/><rect x="1402" y="446.29" width="64" height="10.97" fill="#00cfff"/><rect x="1402" y="435.92" width="64" height="10.97" fill="#00dfff"/><rect x="1402" y="425.55" width="64" height="10.97" fill="#00efff"/><rect x="1402" y="415.19" width="64" height="10.97" fill="#00ffff"/><rect x="1402" y="404.82" width="64" height="10.97" fill="#10ffef"/><rect x="1402" y="394.45" width="64" height="10.97" fill="#20ffdf"/><rect x="1402" y="384.09" width="64" height="10.97" fill="#30ffcf"/><rect x="1402" y="373.72" width="64" height="10.97" fill="#40ffbf"/><rect x="1402" y="363.35" width="64" height="10.97" fill="#50ffaf"/><rect x="1402" y="352.98" width="64" height="10.97" fill="#60ff9f"/><rect x="1402" y="342.62" width="64" height="10.97" fill="#70ff8f"/><rect x="1402" y="332.25" width="64" height="10.97" fill="#80ff80"/><rect x="1402" y="321.88" width="64" height="10.97" fill="#8fff70"/><rect x="1402" y="311.52" width="64" height="10.97" fill="#9fff60"/><rect x="1402" y="301.15" width="64" height="10.97" fill="#afff50"/><rect x="1402" y="290.78" width="64" height="10.97" fill="#bfff40"/><rect x="1402" y="280.41" width="64" height="10.97" fill="#cfff30"/><rect x="1402" y="270.05" width="64" height="10.97" fill="#dfff20"/><rect x="1402" y="259.68" width="64" height="10.97" fill="#efff10"/><rect x="1402" y="249.31" width="64" height="10.97" fill="#ffff00"/><rect x="1402" y="238.95" width="64" height="10.97" fill="#ffef00"/><rect x="1402" y="228.58" width="64" height="10.97" fill="#ffdf00"/><rect x="1402" y="218.21" width="64" height="10.97" fill="#ffcf00"/><rect x="1402" y="207.84" width="64" height="10.97" fill="#ffbf00"/><rect x="1402" y="197.48" width="64" height="10.97" fill="#ffaf00"/><rect x="1402" y="187.11" width="64" height="10.97" fill="#ff9f00"/><rect x="1402" y="176.74" width="64" height="10.97" fill="#ff8f00"/><rect x="1402" y="166.38" width="64" height="10.97" fill="#ff8000"/><rect x="1402" y="156.01" width="64" height="10.97" fill="#ff7000"/><rect x="1402" y="145.64" width="64" height="10.97" fill="#ff6000"/><rect x="1402" y="135.27" width="64" height="10.97" fill="#ff5000"/><rect x="1402" y="124.91" width="64" height="10.97" fill="#ff4000"/><rect x="1402" y="114.54" width="64" height="10.97" fill="#ff3000"/><rect x="1402" y="104.17" width="64" height="10.97" fill="#ff2000"/><rect x="1402" y="93.80" width="64" height="10.97" fill="#ff1000"/><rect x="1402" y="83.44" width="64" height="10.97" fill="#ff0000"/><rect x="1402" y="73.07" width="64" height="10.97" fill="#ef0000"/><rect x="1402" y="62.70" width="64" height="10.97" fill="#df0000"/><rect x="1402" y="52.34" width="64" height="10.97" fill="#cf0000"/><rect x="1402" y="41.97" width="64" height="10.97" fill="#bf0000"/><rect x="1402" y="31.60" width="64" height="10.97" fill="#af0000"/><rect x="1402" y="21.23" width="64" height="10.97" fill="#9f0000"/><rect x="1402" y="10.87" width="64" height="10.97" fill="#8f0000"/><rect x="1402" y="0.50" width="64" height="10.97" fill="#800000"/><rect x="1402" y="0.5" width="64" height="663.5" fill="none" stroke="#000" stroke-width="2"/><g stroke="#000" stroke-width="2"><path d="M1402,560.9L1408.5,560.9M1466,560.9L1459.5,560.9"/><path d="M1402,446.6L1408.5,446.6M1466,446.6L1459.5,446.6"/><path d="M1402,332.3L1408.5,332.3M1466,332.3L1459.5,332.3"/><path d="M1402,217.9L1408.5,217.9M1466,217.9L1459.5,217.9"/><path d="M1402,103.6L1408.5,103.6M1466,103.6L1459.5,103.6"/></g>
<!-- panel b -->
<g fill="none" stroke="#000" stroke-width="5" stroke-linecap="butt" stroke-linejoin="miter"><path d="M204.5,983.1L204.5,1493.6L715,1493.6L1225.5,983.1"/><path d="M203.5,983.1L1225.5,983.1" stroke-dasharray="19.6,19.2" stroke-width="3.8"/></g>
<g fill="none" stroke-width="2.25" stroke-linejoin="round"><path d="M1212.9,995.7L1211.5,993.9L1209.3,986.6L1208.8,983.1" stroke="#00008f"/><path d="M1200.4,1008.2L1197.9,1006.8L1194.8,1000L1192.2,985.4L1192,983.1" stroke="#00009f"/><path d="M1187.8,1020.8L1184.4,1019.7L1180.4,1013.5L1178.8,1008.6L1176.7,999.6L1175.3,983.1" stroke="#0000af"/><path d="M1175.3,1033.3L1170.9,1032.6L1165.9,1027L1161.1,1013.9L1160.2,1008.6L1158.5,989.5L1158.5,983.1" stroke="#0000bf"/><path d="M1162.7,1045.9L1157.4,1045.6L1151.4,1040.4L1148.1,1034.1L1145.6,1028.2L1142.1,1008.6L1141.8,1004.9L1141.8,983.1" stroke="#0000cf"/><path d="M1150.2,1058.4L1143.9,1058.5L1136.9,1053.9L1130,1042.4L1127.6,1034.1L1125.1,1020.4L1124.4,1008.6L1125.1,983.1" stroke="#0000df"/><path d="M1137.6,1071L1130.4,1071.4L1122.4,1067.4L1116.4,1059.7L1114.5,1056.7L1108.3,1035.9L1108.1,1034.1L1106.7,1008.6L1107,998.7L1108.3,983.1" stroke="#0000ef"/><path d="M1125.1,1083.5L1116.9,1084.4L1107.9,1080.9L1098.9,1071L1094.2,1059.7L1091.6,1051.3L1089.4,1034.1L1088.9,1016L1089.2,1008.6L1091.6,983.1" stroke="#0000ff"/><path d="M1112.5,1096.1L1103.4,1097.3L1093.4,1094.3L1083.4,1085.2L1083.3,1085.2L1074.9,1066.8L1073.4,1059.7L1070.7,1034.1L1070.7,1033.3L1071.8,1008.6L1074.9,983.1" stroke="#0010ff"/><path d="M1100,1108.6L1089.9,1110.2L1078.9,1107.8L1067.8,1099.5L1059.5,1085.2L1058.1,1082.3L1053.4,1059.7L1052.5,1050.6L1052.5,1034.1L1054.4,1008.6L1056.3,994L1058.1,983.1" stroke="#0020ff"/><path d="M1087.4,1121.2L1076.4,1123.2L1064.4,1121.3L1052.3,1113.8L1049.9,1110.7L1041.4,1097.7L1037.6,1085.2L1034.3,1067.9L1033.9,1059.7L1034.3,1034.1L1036.2,1014.3L1037,1008.6L1041.4,983.1" stroke="#0030ff"/><path d="M1074.9,1133.7L1062.9,1136.1L1049.9,1134.8L1036.7,1128.1L1024.6,1113.2L1023.6,1110.7L1016.1,1085.3L1016.1,1085.2L1014.8,1059.7L1016.1,1034.6L1016.1,1034.1L1019.7,1008.6L1024.6,983.1" stroke="#0040ff"/><path d="M1062.3,1146.3L1049.4,1149L1035.4,1148.2L1021.2,1142.3L1014.8,1136.2L1007.9,1128.6L1000.3,1110.7L998,1102.6L996,1085.2L995.7,1059.7L995.9,1055L998.2,1034.1L1002.4,1008.6L1007.9,983.1" stroke="#0060ff"/><path d="M1049.8,1158.8L1036.6,1161.8L1035.9,1161.9L1025.2,1161.8L1020.9,1161.7L1005.6,1156.6L991.2,1144.1L986.7,1136.2L979.8,1119.9L978.1,1110.7L975.8,1085.2L975.8,1075.3L977,1059.7L980.3,1034.1L985.2,1008.6L989.3,990.5L991.2,983.1" stroke="#0070ff"/><path d="M1037.2,1171.4L1022.4,1174.9L1006.4,1175.2L990.1,1170.9L977.2,1161.8L974.4,1159.6L961.6,1137.2L961.3,1136.2L956.6,1110.7L955.7,1095.7L956,1085.2L958.4,1059.7L962.5,1034.1L966.1,1016.3L967.9,1008.6L974.4,983.1" stroke="#0080ff"/><path d="M1024.6,1184L1010.9,1187.3L1008.9,1187.8L992,1188.7L985,1187.3L974.5,1185.1L957.7,1175L947.7,1161.8L943.4,1154.5L938.4,1136.2L935.5,1116L935.5,1110.7L936.6,1085.2L939.8,1059.7L943,1042L944.6,1034.1L950.7,1008.6L957.7,983.1" stroke="#008fff"/><path d="M1012.1,1196.5L995.4,1200.7L977.5,1202.1L959,1199.4L941,1190.5L937.8,1187.3L925.2,1171.8L921.3,1161.8L915.4,1136.3L915.4,1136.2L915.1,1110.7L917.2,1085.2L919.8,1067.7L921.3,1059.7L926.9,1034.2L933.6,1008.6L941,983.1" stroke="#009fff"/><path d="M999.5,1209.1L985.1,1212.8L981.9,1213.7L963,1215.6L943.4,1213.7L941.1,1212.8L924.2,1206L907.1,1189.1L906.1,1187.3L896.5,1161.8L895.3,1156.7L893.9,1136.2L894.7,1110.7L896.6,1093.5L898,1085.2L903.1,1059.7L909.3,1034.1L916.4,1008.6L924.2,983.1" stroke="#00afff"/><path d="M987,1221.6L968.4,1226.6L948.5,1229.1L927.9,1227.9L907.5,1221.4L896,1212.8L888.9,1206.5L878.8,1187.3L875.2,1177L873.1,1161.8L872.4,1136.2L873.5,1119.2L874.6,1110.7L879,1085.2L884.8,1059.7L891.6,1034.2L899.2,1008.6L904.6,991.7L907.5,983.1" stroke="#00bfff"/><path d="M974.4,1234.2L959.1,1238.3L954.9,1239.5L934,1242.5L912.3,1242.2L896.2,1238.3L890.7,1236.9L870.7,1223.8L862.9,1212.8L855,1197.3L852.8,1187.3L850.1,1161.8L850.3,1144.9L851.1,1136.2L854.8,1110.7L860.1,1085.2L866.5,1059.7L873.9,1034.1L875.5,1028.7L882,1008.6L890.7,983.1" stroke="#00cfff"/><path d="M204.5,1485.2L221.2,1493.6M961.9,1246.7L941.3,1252.5L919.5,1256L896.8,1256.5L874,1252.4L852.5,1241.1L849.9,1238.3L834.9,1217.7L833.3,1212.8L828.1,1187.3L827.1,1170.7L827.6,1161.8L830.4,1136.2L835.1,1110.7L841.1,1085.2L846.4,1065.8L848.3,1059.7L856.3,1034.1L864.9,1008.6L874,983.1" stroke="#00dfff"/><path d="M204.5,1472.7L229.7,1485.2L246.3,1493.6M949.3,1259.3L933.1,1263.9L927.8,1265.4L905,1269.5L881.2,1270.8L857.3,1267.8L846.8,1263.9L834.3,1258.4L815,1238.3L814.8,1238L806.4,1212.8L803.9,1196.4L803.9,1187.3L805.8,1161.8L809.8,1136.2L815.4,1110.7L817.3,1102.9L822.3,1085.2L830.2,1059.7L838.7,1034.1L847.8,1008.6L857.3,983.1" stroke="#00efff"/><path d="M204.5,1460.1L220.6,1468.1L229.1,1472.3L254.9,1485.1L271.5,1493.6M936.8,1271.8L914.3,1278.3L890.5,1283L865.7,1285L840.5,1283.3L816.1,1275.7L800.4,1263.9L794.7,1258.4L785,1238.3L780.8,1222.1L780.1,1212.8L780.7,1187.3L784,1161.8L788.2,1140L789.1,1136.2L795.9,1110.7L803.6,1085.2L812.1,1059.7L821.1,1034.1L830.6,1008.6L840.5,983.1" stroke="#00ffff"/><path d="M204.5,1447.6L228.5,1459.3L246.7,1468.1L253.9,1471.6L280.3,1484.8L296.6,1493.6M924.2,1284.4L907.1,1289.4L900.8,1291.2L876,1296.4L850.1,1299.3L823.8,1298.8L798,1293L791,1289.4L774.5,1278.7L764.4,1263.9L757.6,1247.9L756.1,1238.3L755.2,1212.8L757.5,1187.3L759.1,1177.1L762.4,1161.8L768.9,1136.2L776.5,1110.7L784.9,1085.2L794,1059.7L803.5,1034.1L813.5,1008.6L823.8,983.1" stroke="#10ffef"/><path d="M204.5,1435L220,1442.5L227.9,1446.4L252.9,1458.1L274,1468.1L279,1470.5L305.8,1484.3L321.7,1493.6M911.7,1296.9L887.3,1304.2L861.5,1309.9L834.6,1313.6L807.1,1314.2L779.8,1310.4L754.4,1299L744.9,1289.4L734.4,1273.6L731.7,1263.9L728.8,1238.3L730,1214.2L730.2,1212.8L734.9,1187.3L741.2,1161.8L748.7,1136.2L757.1,1110.7L766.2,1085.2L775.9,1059.7L785.9,1034.1L790.8,1022.1L796.4,1008.6L807.1,983.1" stroke="#30ffcf"/><path d="M204.5,1422.5L227.4,1433.5L247.3,1442.5L251.8,1444.6L277.7,1456.3L303,1468.1L304.6,1468.9L331.6,1483.5L346.8,1493.6M899.1,1309.5L881,1314.9L873.8,1317.1L847,1323.4L819,1327.8L790.3,1329.7L761.6,1327.7L734.3,1319.4L727.7,1314.9L711.3,1299.3L706.8,1289.4L701.4,1263.9L700.9,1251.3L702.1,1238.3L706.3,1212.8L712.5,1187.3L720,1161.8L728.5,1136.2L737.7,1110.7L743.9,1094.5L747.5,1085.2L757.8,1059.7L768.4,1034.2L779.2,1008.6L790.3,983.1" stroke="#40ffbf"/><path d="M204.5,1409.9L219.4,1417L226.8,1420.5L250.8,1431.2L276.5,1442L277.9,1442.5L303.3,1453.4L330.8,1466.2L334.6,1468.1L357.8,1482.1L371.9,1493.6M886.6,1322L860.3,1330L832.5,1336.9L812.4,1340.4L803.5,1342.1L773.6,1345.1L743.4,1345L717.7,1340.4L714.1,1339.7L688.1,1325.1L680.8,1314.9L672,1289.4L671.8,1288.4L672.3,1263.9L676.2,1238.3L682.4,1212.8L690.1,1187.3L697,1166.8L698.8,1161.8L708.4,1136.2L718.5,1110.7L729,1085.2L739.8,1059.7L750.8,1034.1L762.1,1008.6L773.6,983.1" stroke="#50ffaf"/><path d="M204.5,1397.4L226.2,1407.6L248.3,1417L249.8,1417.7L275.2,1427.7L302,1437.9L314.6,1442.5L329.9,1448.9L358,1461.7L369.4,1468.1L384.6,1479.4L397,1493.6M874,1334.6L854.9,1340.4L846.8,1343L818,1350.3L788,1356.4L756.8,1360.6L725.2,1362.3L694,1360L664.9,1350.8L652.7,1340.4L642.7,1325.5L640.3,1314.9L639.9,1289.4L643.8,1263.9L650.1,1239.2L650.4,1238.3L658.7,1212.8L668,1187.3L677.9,1161.8L688.4,1136.2L699.3,1110.7L710.4,1085.2L721.8,1059.7L733.3,1034.1L745,1008.6L756.8,983.1" stroke="#60ff9f"/><path d="M204.5,1384.8L218.9,1391.5L225.6,1394.7L248.8,1404.2L273.9,1413.5L285.1,1417L300.7,1422.5L329,1431.6L358.2,1441.4L361.6,1442.5L387.1,1453.7L408,1468.1L413,1473.8L422.1,1493.6M861.5,1347.1L833.3,1355.9L803.6,1363.8L793.4,1366L772.4,1370.6L740.1,1376.1L707.1,1379.6L673.9,1380.4L641.8,1376.5L618.3,1366L613.6,1362.6L603.2,1340.4L602.8,1314.9L603.3,1311.5L608.2,1289.4L616,1263.9L625.2,1238.3L635.3,1212.8L645.9,1187.3L657,1161.8L668.4,1136.2L680,1110.7L691.8,1085.2L703.7,1059.7L715.8,1034.1L727.9,1008.6L740.1,983.1" stroke="#70ff8f"/><path d="M204.5,1372.3L225.1,1381.8L247.8,1390.8L250.1,1391.5L272.6,1399.2L299.5,1407L328.2,1414.2L341.8,1417L358.4,1421.1L389.7,1428L420.9,1436.7L434.4,1442.5L447.4,1456.2L450.4,1468.1L447.2,1493.6M848.9,1359.7L828.8,1366L819.8,1368.8L789.1,1377.3L756.9,1384.9L723.5,1391.5L723.4,1391.5L688.9,1396.9L653.8,1400.7L618.6,1402.3L584.5,1399.6L564.2,1391.5L556.4,1383.9L553.3,1366L558.2,1340.4L567,1314.9L577.3,1289.4L588.4,1263.9L600,1238.3L611.8,1212.8L623.9,1187.3L636.1,1161.8L648.4,1136.2L660.8,1110.7L673.2,1085.2L685.7,1059.7L698.2,1034.1L710.8,1008.6L723.4,983.1" stroke="#80ff80"/><path d="M836.3,1372.3L806.3,1381.8L774.6,1390.8L771.5,1391.5L741.3,1399.2L706.6,1407L670.7,1414.2L654.3,1417L633.6,1421.1L595.4,1428L555.4,1436.7L536.1,1442.5L509.5,1456.2L494.6,1468.1L472.3,1493.6M204.5,1359.7L218.3,1366L224.5,1368.8L246.8,1377.3L271.3,1384.9L298.1,1391.5L298.2,1391.5L327.3,1396.9L358.6,1400.7L392.3,1402.3L428.9,1399.6L457.4,1391.5L472.8,1383.9L493.8,1366L514.4,1340.4L531.2,1314.9L546.4,1289.4L560.8,1263.9L574.8,1238.3L588.4,1212.8L601.9,1187.3L615.2,1161.8L628.4,1136.2L641.6,1110.7L654.7,1085.2L667.7,1059.7L680.7,1034.1L693.7,1008.6L706.6,983.1" stroke="#8fff70"/><path d="M823.8,1384.8L802.7,1391.5L792.8,1394.7L760.1,1404.2L725.8,1413.5L711,1417L689.9,1422.5L652.5,1431.6L613.5,1441.4L608.9,1442.5L572.2,1453.7L537,1468.1L526.3,1473.8L497.4,1493.6M204.5,1347.1L223.9,1355.9L245.7,1363.8L253.7,1366L270.1,1370.6L296.9,1376.1L326.4,1379.6L358.8,1380.4L394.8,1376.5L428.8,1366L436.9,1362.6L469.5,1340.4L495.4,1314.9L498.3,1311.5L515.5,1289.4L533.2,1263.9L549.6,1238.3L565,1212.8L579.9,1187.3L594.3,1161.8L608.4,1136.2L622.3,1110.7L636.1,1085.2L649.7,1059.7L663.2,1034.1L676.6,1008.6L689.9,983.1" stroke="#9fff60"/><path d="M811.2,1397.4L779.3,1407.6L747.8,1417L745.6,1417.7L710.2,1427.7L673.2,1437.9L655.9,1442.5L634.3,1448.9L593.4,1461.7L575.6,1468.1L549.1,1479.4L522.5,1493.6M204.5,1334.6L217.7,1340.4L223.3,1343L244.7,1350.3L268.8,1356.4L295.6,1360.6L325.6,1362.3L359,1360L397.4,1350.8L420,1340.4L444.9,1325.5L457.8,1314.9L483.8,1289.4L505.4,1263.9L523.8,1239.2L524.4,1238.3L541.6,1212.8L557.8,1187.3L573.4,1161.8L588.4,1136.2L603.1,1110.7L617.5,1085.2L631.7,1059.7L645.6,1034.1L659.5,1008.6L673.2,983.1" stroke="#afff50"/><path d="M798.7,1409.9L776.6,1417L765.8,1420.5L731.1,1431.2L694.7,1442L692.7,1442.5L656.4,1453.4L616.2,1466.2L610.5,1468.1L573.3,1482.1L547.6,1493.6M204.5,1322L222.8,1330L243.7,1336.9L260.3,1340.4L267.5,1342.1L294.4,1345.1L324.7,1345L355,1340.4L359.2,1339.7L400,1325.1L417.4,1314.9L451.7,1289.4L452.9,1288.4L477,1263.9L498.5,1238.3L517.9,1212.8L535.7,1187.3L549.2,1166.8L552.5,1161.8L568.5,1136.2L583.9,1110.7L598.9,1085.2L613.6,1059.7L628.1,1034.2L642.3,1008.6L656.4,983.1" stroke="#bfff40"/><path d="M786.1,1422.5L752.3,1433.5L723.2,1442.5L716.6,1444.6L679.1,1456.3L642,1468.1L639.7,1468.9L598,1483.5L572.7,1493.6M204.5,1309.5L217.2,1314.9L222.2,1317.1L242.7,1323.4L266.2,1327.8L293.1,1329.7L323.8,1327.7L359.5,1319.4L370.5,1314.9L402.5,1299.3L416.9,1289.4L447.9,1263.9L460.9,1251.3L472.7,1238.3L494,1212.8L513.3,1187.3L531.3,1161.8L548.3,1136.2L564.6,1110.7L574.7,1094.5L580.4,1085.2L595.6,1059.7L610.6,1034.2L625.2,1008.6L639.7,983.1" stroke="#cfff30"/><path d="M773.6,1435L750.5,1442.5L738.8,1446.4L702.1,1458.1L671,1468.1L663.6,1470.5L622.9,1484.3L597.8,1493.6M204.5,1296.9L221.6,1304.2L241.7,1309.9L264.9,1313.6L291.8,1314.2L323,1310.4L359.7,1299L378.8,1289.4L405.1,1273.6L417.5,1263.9L445.9,1238.3L468.9,1214.2L470.1,1212.8L490.9,1187.3L510.1,1161.8L528.1,1136.2L545.3,1110.7L561.7,1085.2L577.6,1059.7L593,1034.1L600.2,1022.1L608.1,1008.6L622.9,983.1" stroke="#dfff20"/><path d="M761,1447.6L725.3,1459.3L698.3,1468.1L687.6,1471.6L648,1484.8L622.9,1493.6M204.5,1284.4L216.6,1289.4L221,1291.2L240.6,1296.4L263.7,1299.3L290.6,1298.8L322.1,1293L332.7,1289.4L359.9,1278.7L384.8,1263.9L407.6,1247.9L418.7,1238.3L445.1,1212.8L468.3,1187.3L476.9,1177.1L488.9,1161.8L507.9,1136.2L525.9,1110.7L543,1085.2L559.5,1059.7L575.4,1034.1L591,1008.6L606.2,983.1" stroke="#ffff00"/><path d="M748.5,1460.1L724.4,1468.1L711.8,1472.3L673.1,1485.1L648,1493.6M204.5,1271.8L220.5,1278.3L239.6,1283L262.4,1285L289.3,1283.3L321.2,1275.7L348.8,1263.9L360.1,1258.4L389.7,1238.3L410.2,1222.1L420.2,1212.8L445.1,1187.3L467.4,1161.8L484.9,1140L487.7,1136.2L506.5,1110.7L524.3,1085.2L541.4,1059.7L557.9,1034.2L573.9,1008.6L589.5,983.1" stroke="#ffef00"/><path d="M735.9,1472.7L698.3,1485.2L673.2,1493.6M204.5,1259.3L216.1,1263.9L219.9,1265.4L238.6,1269.5L261.1,1270.8L288,1267.8L302.4,1263.9L320.4,1258.4L359.7,1238.3L360.3,1238L393.9,1212.8L412.8,1196.4L421.9,1187.3L445.6,1161.8L467.1,1136.2L487,1110.7L492.8,1102.9L505.6,1085.2L523.3,1059.7L540.3,1034.1L556.7,1008.6L572.7,983.1" stroke="#ffdf00"/><path d="M723.4,1485.2L698.3,1493.6M204.5,1246.7L219.3,1252.5L237.6,1256L259.8,1256.5L286.7,1252.4L319.5,1241.1L324.9,1238.3L360.5,1217.7L367,1212.8L397.7,1187.3L415.3,1170.7L423.7,1161.8L446.4,1136.2L467.3,1110.7L486.8,1085.2L500.8,1065.8L505.2,1059.7L522.7,1034.1L539.6,1008.6L556,983.1" stroke="#ffcf00"/><path d="M204.5,1234.2L215.6,1238.3L218.7,1239.5L236.6,1242.5L258.6,1242.2L278.5,1238.3L285.5,1236.9L318.6,1223.8L337.4,1212.8L360.7,1197.3L373,1187.3L401.2,1161.8L417.9,1144.9L425.7,1136.2L447.5,1110.7L467.8,1085.2L486.9,1059.7L505.1,1034.1L508.8,1028.7L522.5,1008.6L539.3,983.1" stroke="#ffbf00"/><path d="M204.5,1221.6L218.1,1226.6L235.5,1229.1L257.3,1227.9L284.2,1221.4L304.3,1212.8L317.8,1206.5L347,1187.3L360.9,1177L378.3,1161.8L404.5,1136.2L420.4,1119.2L427.8,1110.7L448.9,1085.2L468.6,1059.7L487.4,1034.1L505.3,1008.6L516.8,991.7L522.5,983.1" stroke="#ffaf00"/><path d="M204.5,1209.1L215.2,1212.8L217.6,1213.7L234.5,1215.6L256,1213.7L259.2,1212.8L282.9,1206L316.9,1189.1L319.7,1187.3L354.8,1161.8L361.1,1156.7L383,1136.2L407.6,1110.7L423,1093.5L429.9,1085.2L450.4,1059.7L469.7,1034.1L488.1,1008.6L505.8,983.1" stroke="#ff9f00"/><path d="M204.5,1196.5L217,1200.7L233.5,1202.1L254.7,1199.4L281.6,1190.5L288,1187.3L316,1171.8L330,1161.8L361.3,1136.3L361.4,1136.2L387.3,1110.7L410.7,1085.2L425.6,1067.7L432.1,1059.7L452,1034.1L470.9,1008.6L489,983.1" stroke="#ff8f00"/><path d="M204.5,1184L214.9,1187.3L216.4,1187.8L232.5,1188.7L240.8,1187.3L253.4,1185.1L280.4,1175L303.6,1161.8L315.2,1154.5L338.5,1136.2L361.6,1116L366.9,1110.7L391.3,1085.2L413.6,1059.7L428.1,1042L434.3,1034.1L453.7,1008.6L472.3,983.1" stroke="#ff8000"/><path d="M204.5,1171.4L215.8,1174.9L231.5,1175.2L252.2,1170.9L274.2,1161.8L279.1,1159.6L314.3,1137.2L315.5,1136.2L345.7,1110.7L361.8,1095.7L371.9,1085.2L395,1059.7L416.5,1034.1L430.7,1016.3L436.6,1008.6L455.6,983.1" stroke="#ff7000"/><path d="M204.5,1158.8L214.7,1161.8L215.3,1161.9L226.1,1161.8L230.5,1161.7L250.9,1156.6L277.8,1144.1L290.1,1136.2L313.4,1119.9L324.3,1110.7L352.1,1085.2L362,1075.3L376.4,1059.7L398.6,1034.2L419.3,1008.6L433.3,990.5L438.8,983.1" stroke="#ff6000"/><path d="M204.5,1146.3L214.7,1149L229.4,1148.2L249.6,1142.3L262.1,1136.2L276.5,1128.6L302,1110.7L312.6,1102.6L331.9,1085.2L357.7,1059.7L362.2,1055L380.7,1034.1L402,1008.6L422.1,983.1" stroke="#ff5000"/><path d="M204.5,1133.7L214.1,1136.1L228.4,1134.8L248.3,1128.1L275.3,1113.2L278.8,1110.7L311.7,1085.3L311.8,1085.2L338.6,1059.7L362.4,1034.6L362.8,1034.1L384.8,1008.6L405.4,983.1" stroke="#ff3000"/><path d="M204.5,1121.2L213.5,1123.2L227.4,1121.3L247,1113.8L252.5,1110.7L274,1097.7L290.3,1085.2L310.8,1067.9L319.5,1059.7L344.7,1034.1L362.6,1014.3L367.5,1008.6L388.6,983.1" stroke="#ff2000"/><path d="M204.5,1108.6L213,1110.2L226.4,1107.8L245.8,1099.5L268.4,1085.2L272.7,1082.3L300,1059.7L310,1050.6L326.5,1034.1L350.1,1008.6L362.8,994L371.9,983.1" stroke="#ff1000"/><path d="M204.5,1096.1L212.4,1097.3L225.4,1094.3L244.5,1085.2L244.6,1085.2L271.5,1066.8L280,1059.7L308.2,1034.1L309.1,1033.3L332.7,1008.6L355.1,983.1" stroke="#ff0000"/><path d="M204.5,1083.5L211.8,1084.4L224.3,1080.9L243.2,1071L259.2,1059.7L270.2,1051.3L289.5,1034.1L308.2,1016L315.3,1008.6L338.4,983.1" stroke="#ef0000"/><path d="M204.5,1071L211.2,1071.4L223.3,1067.4L237,1059.7L241.9,1056.7L268.9,1035.9L270.8,1034.1L297.7,1008.6L307.4,998.7L321.7,983.1" stroke="#df0000"/><path d="M204.5,1058.4L210.7,1058.5L222.3,1053.9L240.7,1042.4L251.3,1034.1L267.6,1020.4L280.1,1008.6L304.9,983.1" stroke="#cf0000"/><path d="M204.5,1045.9L210.1,1045.6L221.3,1040.4L230.9,1034.1L239.4,1028.2L262.3,1008.6L266.4,1004.9L288.2,983.1" stroke="#bf0000"/><path d="M204.5,1033.3L209.5,1032.6L220.3,1027L238.1,1013.9L244.3,1008.6L265.1,989.5L271.5,983.1" stroke="#af0000"/><path d="M204.5,1020.8L208.9,1019.7L219.2,1013.5L225.7,1008.6L236.8,999.6L254.7,983.1" stroke="#9f0000"/><path d="M204.5,1008.2L208.4,1006.8L218.2,1000L235.5,985.4L238,983.1" stroke="#8f0000"/><path d="M204.5,995.7L207.8,993.9L217.2,986.6L221.2,983.1" stroke="#800000"/></g>
<path d="M204.5,1493.6L204.5,1493.6M204.5,1493.6L204.5,1493.6L204.5,1493.6M230,1493.6L228.3,1493.6M228.9,1493.7L228.3,1493.6L228.9,1493.5M255.6,1493.6L252.2,1493.6M253.3,1493.9L252.2,1493.6L253.3,1493.3M281.1,1493.6L276.4,1493.6M277.9,1494L276.4,1493.6L277.9,1493.2M306.6,1493.6L300.7,1493.6M302.6,1494.1L300.7,1493.6L302.6,1493.1M332.1,1493.6L325.2,1493.6M327.5,1494.2L325.2,1493.6L327.5,1493M357.7,1493.6L349.9,1493.6M352.5,1494.2L349.9,1493.6L352.5,1493M383.2,1493.6L374.8,1493.6M377.5,1494.3L374.8,1493.6L377.5,1492.9M408.7,1493.6L399.8,1493.6M402.8,1494.3L399.8,1493.6L402.8,1492.9M434.2,1493.6L425.1,1493.6M428.1,1494.4L425.1,1493.6L428.1,1492.8M459.8,1493.6L450.5,1493.6M453.6,1494.4L450.5,1493.6L453.6,1492.8M485.3,1493.6L476.1,1493.6M479.2,1494.4L476.1,1493.6L479.2,1492.8M510.8,1493.6L501.9,1493.6M504.9,1494.3L501.9,1493.6L504.9,1492.9M536.3,1493.6L527.9,1493.6M530.7,1494.3L527.9,1493.6L530.7,1492.9M561.9,1493.6L554.1,1493.6M556.7,1494.2L554.1,1493.6L556.7,1493M587.4,1493.6L580.5,1493.6M582.7,1494.2L580.5,1493.6L582.7,1493M612.9,1493.6L607,1493.6M608.9,1494.1L607,1493.6L608.9,1493.1M638.4,1493.6L633.7,1493.6M635.3,1494L633.7,1493.6L635.3,1493.2M664,1493.6L660.6,1493.6M661.7,1493.9L660.6,1493.6L661.7,1493.3M689.5,1493.6L687.7,1493.6M688.3,1493.7L687.7,1493.6L688.3,1493.5M715,1493.6L715,1493.6M715,1493.6L715,1493.6L715,1493.6M204.5,1468.1L204.5,1471.6M204.8,1470.4L204.5,1471.6L204.2,1470.4M228.9,1468.1L227.4,1471.5M228.2,1470.5L227.4,1471.5L227.6,1470.2M253.6,1468.1L250.8,1471.3M252,1470.5L250.8,1471.3L251.5,1470M278.8,1468.1L274.9,1471.2M276.4,1470.5L274.9,1471.2L275.9,1469.8M304.5,1468.1L299.7,1470.9M301.5,1470.4L299.7,1470.9L301.1,1469.6M330.8,1468.1L325.4,1470.6M327.4,1470.2L325.4,1470.6L327,1469.3M357.9,1468.1L352,1470.2M354.1,1470L352,1470.2L353.8,1469M385.7,1468.1L379.5,1469.8M381.7,1469.7L379.5,1469.8L381.4,1468.7M414.2,1468.1L407.9,1469.3M410.1,1469.4L407.9,1469.3L409.9,1468.3M443.2,1468.1L437,1468.7M439.1,1469L437,1468.7L439,1468M472.5,1468.1L466.5,1468.1M468.5,1468.6L466.5,1468.1L468.5,1467.6M501.8,1468.1L496.2,1467.5M498,1468.1L496.2,1467.5L498.1,1467.2M530.8,1468.1L525.7,1466.9M527.3,1467.7L525.7,1466.9L527.5,1466.9M559.3,1468.1L554.8,1466.4M556.1,1467.3L554.8,1466.4L556.4,1466.6M587.1,1468.1L583.3,1465.9M584.4,1466.9L583.3,1465.9L584.8,1466.3M614.2,1468.1L611.3,1465.5M612,1466.6L611.3,1465.5L612.4,1466.1M640.5,1468.1L638.6,1465.2M639,1466.3L638.6,1465.2L639.5,1466M666.2,1468.1L665.5,1465M665.5,1466.1L665.5,1465L666,1465.9M691.4,1468.1L691.9,1464.8M691.5,1465.8L691.9,1464.8L692,1465.9M716.1,1468.1L718.1,1464.7M717.1,1465.6L718.1,1464.7L717.7,1466M740.5,1468.1L744,1464.6M742.6,1465.4L744,1464.6L743.2,1466M204.5,1442.5L204.5,1449.2M205,1447L204.5,1449.2L204,1447M227.8,1442.5L226.5,1449M227.5,1447L226.5,1449L226.4,1446.8M251.7,1442.5L249.4,1448.7M250.7,1446.9L249.4,1448.7L249.7,1446.5M276.5,1442.5L273.4,1448.4M274.9,1446.7L273.4,1448.4L274,1446.2M302.4,1442.5L298.8,1447.9M300.4,1446.5L298.8,1447.9L299.5,1445.9M329.6,1442.5L325.6,1447.4M327.3,1446.1L325.6,1447.4L326.5,1445.4M358.2,1442.5L354.1,1446.7M355.8,1445.6L354.1,1446.7L355.1,1445M388.3,1442.5L384.2,1445.8M385.8,1445.1L384.2,1445.8L385.3,1444.4M419.7,1442.5L416,1444.8M417.4,1444.4L416,1444.8L417,1443.7M452.2,1442.5L448.9,1443.7M450.1,1443.6L448.9,1443.7L449.9,1443M485.3,1442.5L482.5,1442.5M483.4,1442.8L482.5,1442.5L483.4,1442.3M518.4,1442.5L516.2,1441.4M516.8,1442L516.2,1441.4L517,1441.6M550.9,1442.5L549.4,1440.3M549.7,1441.2L549.4,1440.3L550,1440.9M582.3,1442.5L581.5,1439.3M581.5,1440.4L581.5,1439.3L582,1440.3M612.4,1442.5L612.4,1438.4M612,1439.8L612.4,1438.4L612.7,1439.8M641,1442.5L641.8,1437.7M641.1,1439.3L641.8,1437.7L641.9,1439.4M668.2,1442.5L669.9,1437.2M668.9,1438.8L669.9,1437.2L669.8,1439.1M694,1442.5L696.8,1436.7M695.4,1438.4L696.8,1436.7L696.4,1438.9M718.9,1442.5L722.8,1436.4M721,1438.1L722.8,1436.4L722,1438.7M742.8,1442.5L748,1436.1M745.8,1437.8L748,1436.1L746.8,1438.7M766.1,1442.5L772.7,1435.9M770,1437.6L772.7,1435.9L771,1438.6M204.5,1417L204.5,1426.4M205.3,1423.3L204.5,1426.4L203.7,1423.3M226.6,1417L225.6,1426.2M226.7,1423.2L225.6,1426.2L225.2,1423.1M249.8,1417L248,1425.8M249.3,1423L248,1425.8L247.9,1422.8M274.2,1417L271.9,1425.3M273.4,1422.8L271.9,1425.3L272,1422.4M300.3,1417L297.7,1424.7M299.2,1422.4L297.7,1424.7L298,1421.9M328.3,1417L325.7,1423.8M327.1,1421.8L325.7,1423.8L326,1421.4M358.4,1417L356.1,1422.8M357.4,1421.1L356.1,1422.8L356.4,1420.7M390.8,1417L389,1421.6M390,1420.3L389,1421.6L389.2,1420M425.2,1417L424.1,1420.2M424.7,1419.3L424.1,1420.2L424.2,1419.1M461.2,1417L460.8,1418.7M461.1,1418.1L460.8,1418.7L460.8,1418.1M498,1417L498.5,1417M498.3,1417L498.5,1417L498.3,1417.1M534.9,1417L536.2,1415.4M535.6,1415.8L536.2,1415.4L535.9,1416M570.9,1417L572.9,1413.8M572,1414.7L572.9,1413.8L572.5,1415.1M605.3,1417L608.1,1412.4M606.8,1413.7L608.1,1412.4L607.5,1414.2M637.6,1417L641.1,1411.2M639.5,1412.8L641.1,1411.2L640.5,1413.4M667.8,1417L672.1,1410.2M670.1,1412.1L672.1,1410.2L671.2,1412.8M695.8,1417L700.9,1409.4M698.6,1411.5L700.9,1409.4L699.8,1412.3M721.9,1417L727.9,1408.7M725.2,1411L727.9,1408.7L726.6,1412M746.3,1417L753.3,1408.3M750.3,1410.6L753.3,1408.3L751.7,1411.7M769.5,1417L777.6,1407.9M774.2,1410.2L777.6,1407.9L775.7,1411.6M791.6,1417L801,1407.6M797.1,1409.9L801,1407.6L798.7,1411.5M204.5,1391.5L204.5,1403.3M205.5,1399.4L204.5,1403.3L203.5,1399.4M225.5,1391.5L224.7,1403M225.9,1399.2L224.7,1403L224,1399.1M247.8,1391.5L246.5,1402.5M247.9,1399L246.5,1402.5L246.1,1398.8M271.9,1391.5L270.4,1401.9M271.8,1398.6L270.4,1401.9L270,1398.3M298.2,1391.5L296.7,1401.1M298,1398L296.7,1401.1L296.4,1397.8M327,1391.5L325.9,1400.1M327,1397.3L325.9,1400.1L325.6,1397.1M358.7,1391.5L358.2,1398.8M359,1396.4L358.2,1398.8L357.8,1396.3M393.3,1391.5L393.8,1397.3M394.1,1395.3L393.8,1397.3L393.1,1395.4M430.7,1391.5L432.2,1395.5M432,1394.1L432.2,1395.5L431.4,1394.3M470.2,1391.5L472.8,1393.5M472.1,1392.7L472.8,1393.5L471.7,1393.1M510.8,1391.5L514.5,1391.5M513.3,1391.2L514.5,1391.5L513.3,1391.8M551.4,1391.5L556.1,1389.5M554.4,1389.7L556.1,1389.5L554.7,1390.5M590.9,1391.5L596.4,1387.5M594.3,1388.4L596.4,1387.5L594.9,1389.3M628.3,1391.5L634.5,1385.7M631.9,1387.1L634.5,1385.7L632.9,1388.2M662.9,1391.5L669.7,1384.2M666.9,1386.1L669.7,1384.2L668.1,1387.2M694.6,1391.5L702,1382.9M698.9,1385.1L702,1382.9L700.3,1386.4M723.4,1391.5L731.5,1381.9M728,1384.4L731.5,1381.9L729.6,1385.7M749.7,1391.5L758.5,1381.1M754.7,1383.8L758.5,1381.1L756.5,1385.3M773.8,1391.5L783.5,1380.5M779.4,1383.3L783.5,1380.5L781.2,1384.9M796.1,1391.5L806.8,1380M802.3,1382.9L806.8,1380L804.2,1384.7M817.1,1391.5L828.9,1379.7M824,1382.6L828.9,1379.7L826,1384.6M204.5,1366L204.5,1379.8M205.6,1375.2L204.5,1379.8L203.4,1375.2M224.3,1366L223.8,1379.4M225.1,1375L223.8,1379.4L222.9,1374.9M245.9,1366L245.1,1378.9M246.4,1374.7L245.1,1378.9L244.3,1374.5M269.6,1366L268.8,1378.2M270.1,1374.2L268.8,1378.2L268.1,1374.1M296.1,1366L295.7,1377.2M296.7,1373.5L295.7,1377.2L294.9,1373.5M325.7,1366L326,1376M326.8,1372.7L326,1376L325.1,1372.7M359,1366L360.3,1374.5M360.6,1371.6L360.3,1374.5L359.2,1371.8M395.9,1366L398.6,1372.7M398.2,1370.3L398.6,1372.7L397.1,1370.7M436.2,1366L440.3,1370.7M439.3,1368.8L440.3,1370.7L438.6,1369.5M479.1,1366L484.7,1368.4M483.1,1367.1L484.7,1368.4L482.7,1368M523.6,1366L530.5,1366M528.2,1365.4L530.5,1366L528.2,1366.5M568,1366L576,1363.6M573.1,1363.7L576,1363.6L573.5,1365M610.9,1366L619.8,1361.3M616.5,1362.1L619.8,1361.3L617.2,1363.6M651.2,1366L660.7,1359.2M657,1360.7L660.7,1359.2L658.1,1362.2M688.2,1366L698.1,1357.4M694.1,1359.4L698.1,1357.4L695.5,1361.1M721.4,1366L731.7,1355.9M727.5,1358.4L731.7,1355.9L729.1,1360.1M751,1366L761.8,1354.7M757.3,1357.6L761.8,1354.7L759.2,1359.3M777.5,1366L788.8,1353.8M784.1,1356.9L788.8,1353.8L786.1,1358.8M801.2,1366L813.3,1353.1M808.2,1356.3L813.3,1353.1L810.4,1358.3M822.8,1366L835.6,1352.5M830.3,1355.9L835.6,1352.5L832.5,1358M842.6,1366L856.5,1352.1M850.8,1355.6L856.5,1352.1L853,1357.8M204.5,1340.4L204.5,1356M205.8,1350.8L204.5,1356L203.2,1350.8M223.2,1340.4L222.8,1355.5M224.2,1350.6L222.8,1355.5L221.7,1350.5M244,1340.4L243.5,1354.9M244.9,1350.2L243.5,1354.9L242.5,1350.1M267.4,1340.4L267.2,1354.1M268.4,1349.6L267.2,1354.1L266.1,1349.6M294,1340.4L294.6,1353M295.4,1348.8L294.6,1353L293.3,1348.9M324.5,1340.4L326.2,1351.7M326.5,1347.8L326.2,1351.7L324.7,1348.1M359.2,1340.4L362.4,1350M362.2,1346.6L362.4,1350L360.6,1347.1M398.4,1340.4L403.4,1348M402.4,1345.1L403.4,1348L401.1,1345.9M441.7,1340.4L448.5,1345.7M446.7,1343.4L448.5,1345.7L445.8,1344.5M488.1,1340.4L496.7,1343.1M494.1,1341.5L496.7,1343.1L493.7,1343M536.3,1340.4L546.5,1340.4M543.1,1339.6L546.5,1340.4L543.1,1341.3M584.5,1340.4L595.8,1337.8M591.9,1337.7L595.8,1337.8L592.3,1339.6M631,1340.4L643,1335.2M638.6,1335.9L643,1335.2L639.5,1337.9M674.2,1340.4L686.7,1332.9M682,1334.4L686.7,1332.9L683.2,1336.4M713.4,1340.4L726.2,1330.9M721.2,1333L726.2,1330.9L722.7,1335.1M748.2,1340.4L761.1,1329.2M755.9,1331.9L761.1,1329.2L757.8,1334M778.7,1340.4L791.8,1327.9M786.4,1330.9L791.8,1327.9L788.5,1333.1M805.3,1340.4L818.8,1326.8M813.2,1330.2L818.8,1326.8L815.5,1332.4M828.7,1340.4L842.7,1326M836.9,1329.6L842.7,1326L839.3,1331.9M849.4,1340.4L864.1,1325.4M858,1329.2L864.1,1325.4L860.5,1331.6M868.1,1340.4L883.7,1324.9M877.3,1328.8L883.7,1324.9L879.8,1331.3M204.5,1314.9L204.5,1331.7M205.9,1326.2L204.5,1331.7L203.1,1326.2M222.1,1314.9L221.9,1331.2M223.3,1325.9L221.9,1331.2L220.6,1325.8M242,1314.9L242,1330.6M243.3,1325.4L242,1330.6L240.7,1325.4M265.1,1314.9L265.6,1329.7M266.6,1324.8L265.6,1329.7L264.2,1324.9M291.9,1314.9L293.5,1328.6M294.1,1323.9L293.5,1328.6L291.8,1324.2M323.2,1314.9L326.3,1327.1M326.3,1322.8L326.3,1327.1L324.3,1323.3M359.5,1314.9L364.5,1325.3M363.7,1321.5L364.5,1325.3L362,1322.3M401,1314.9L408.2,1323.1M406.5,1319.8L408.2,1323.1L405.1,1321M447.2,1314.9L456.7,1320.6M454,1317.9L456.7,1320.6L453.1,1319.5M497.1,1314.9L508.8,1317.8M505.2,1315.9L508.8,1317.8L504.7,1317.8M549.1,1314.9L562.5,1314.9M558.1,1313.8L562.5,1314.9L558.1,1316M601.1,1314.9L615.6,1312M610.6,1311.8L615.6,1312L611.1,1314.2M651,1314.9L666.2,1309.2M660.7,1309.9L666.2,1309.2L661.7,1312.4M697.2,1314.9L712.6,1306.7M706.9,1308.2L712.6,1306.7L708.2,1310.7M738.7,1314.9L754.1,1304.6M748.1,1306.7L754.1,1304.6L749.8,1309.2M775,1314.9L790.2,1302.7M784.2,1305.5L790.2,1302.7L786.2,1308M806.3,1314.9L821.5,1301.3M815.4,1304.5L821.5,1301.3L817.6,1307M833.1,1314.9L848.4,1300.2M842.1,1303.8L848.4,1300.2L844.6,1306.3M856.1,1314.9L871.7,1299.3M865.3,1303.2L871.7,1299.3L867.9,1305.7M876.1,1314.9L892.2,1298.6M885.5,1302.7L892.2,1298.6L888.2,1305.3M893.7,1314.9L910.5,1298.1M903.5,1302.3L910.5,1298.1L906.3,1305.1M204.5,1289.4L204.5,1307.1M206,1301.3L204.5,1307.1L203,1301.3M220.9,1289.4L220.9,1306.6M222.3,1300.9L220.9,1306.6L219.5,1300.9M240.1,1289.4L240.4,1305.9M241.7,1300.4L240.4,1305.9L239,1300.5M262.8,1289.4L263.9,1305M264.8,1299.7L263.9,1305L262.3,1299.9M289.8,1289.4L292.3,1303.8M292.7,1298.8L292.3,1303.8L290.3,1299.2M321.9,1289.4L326.4,1302.2M326,1297.6L326.4,1302.2L323.8,1298.4M359.8,1289.4L366.6,1300.3M365.3,1296.2L366.6,1300.3L363.4,1297.3M403.5,1289.4L413,1298M410.6,1294.4L413,1298L409.2,1296M452.7,1289.4L464.9,1295.4M461.4,1292.4L464.9,1295.4L460.4,1294.4M506.1,1289.4L520.8,1292.5M516.2,1290.2L520.8,1292.5L515.7,1292.7M561.8,1289.4L578.5,1289.4M573,1288L578.5,1289.4L573,1290.8M617.6,1289.4L635.4,1286.3M629.3,1285.9L635.4,1286.3L629.8,1288.8M671,1289.4L689.3,1283.4M682.8,1283.9L689.3,1283.4L683.7,1286.9M720.2,1289.4L738.4,1280.8M731.7,1282.1L738.4,1280.8L733.1,1285.1M763.9,1289.4L781.7,1278.5M775,1280.6L781.7,1278.5L776.8,1283.5M801.8,1289.4L819.1,1276.6M812.3,1279.4L819.1,1276.6L814.4,1282.2M833.9,1289.4L850.8,1275M844.1,1278.4L850.8,1275L846.4,1281.2M860.9,1289.4L877.7,1273.8M870.9,1277.6L877.7,1273.8L873.4,1280.3M883.6,1289.4L900.4,1272.9M893.5,1277L900.4,1272.9L896.2,1279.7M902.8,1289.4L919.9,1272.2M912.8,1276.5L919.9,1272.2L915.7,1279.3M919.2,1289.4L936.9,1271.7M929.6,1276.1L936.9,1271.7L932.5,1279M204.5,1263.9L204.5,1282.1M206,1276.1L204.5,1282.1L203,1276.1M219.8,1263.9L219.9,1281.6M221.3,1275.8L219.9,1281.6L218.4,1275.8M238.2,1263.9L238.8,1280.9M240,1275.2L238.8,1280.9L237.2,1275.3M260.5,1263.9L262.3,1279.9M263,1274.5L262.3,1279.9L260.4,1274.8M287.7,1263.9L291.2,1278.7M291.2,1273.5L291.2,1278.7L288.8,1274.1M320.6,1263.9L326.5,1277.1M325.6,1272.3L326.5,1277.1L323.4,1273.2M360,1263.9L368.7,1275.2M366.8,1270.7L368.7,1275.2L364.9,1272.1M406,1263.9L417.9,1272.8M414.7,1268.9L417.9,1272.8L413.3,1270.8M458.2,1263.9L473.2,1270.1M468.8,1266.8L473.2,1270.1L467.7,1269.3M515.1,1263.9L532.9,1267M527.3,1264.5L532.9,1267L526.7,1267.5M574.6,1263.9L594.5,1263.9M587.9,1262.2L594.5,1263.9L587.9,1265.5M634.1,1263.9L655.1,1260.7M647.9,1260L655.1,1260.7L648.5,1263.5M691,1263.9L712.3,1257.7M704.7,1258L712.3,1257.7L705.8,1261.5M743.2,1263.9L764,1255M756.4,1256.2L764,1255L757.8,1259.6M789.2,1263.9L809.2,1252.6M801.6,1254.7L809.2,1252.6L803.5,1258M828.6,1263.9L847.7,1250.6M840.3,1253.4L847.7,1250.6L842.5,1256.6M861.5,1263.9L879.9,1249M872.6,1252.4L879.9,1249L875,1255.4M888.7,1263.9L906.6,1247.8M899.4,1251.6L906.6,1247.8L902,1254.6M911,1263.9L928.7,1246.9M921.5,1251L928.7,1246.9L924.3,1253.9M929.4,1263.9L947.3,1246.1M939.9,1250.5L947.3,1246.1L942.8,1253.5M944.7,1263.9L963,1245.6M955.5,1250.1L963,1245.6L958.5,1253.1M204.5,1238.3L204.5,1256.8M206,1250.7L204.5,1256.8L203,1250.7M218.7,1238.3L218.9,1256.3M220.3,1250.3L218.9,1256.3L217.3,1250.4M236.3,1238.3L237.2,1255.5M238.3,1249.8L237.2,1255.5L235.5,1250M258.2,1238.3L260.6,1254.6M261.1,1249L260.6,1254.6L258.4,1249.4M285.6,1238.3L290,1253.3M289.8,1248L290,1253.3L287.3,1248.8M319.4,1238.3L326.5,1251.7M325.3,1246.7L326.5,1251.7L323.1,1247.9M360.3,1238.3L370.8,1249.7M368.3,1245.1L370.8,1249.7L366.4,1246.9M408.6,1238.3L422.8,1247.4M418.8,1243.2L422.8,1247.4L417.4,1245.6M463.7,1238.3L481.5,1244.6M476.1,1241.1L481.5,1244.6L475.1,1244M524.1,1238.3L545,1241.6M538.3,1238.8L545,1241.6L537.8,1242.2M587.4,1238.3L610.4,1238.3M602.8,1236.4L610.4,1238.3L602.8,1240.3M650.7,1238.3L674.8,1235.1M666.6,1234.2L674.8,1235.1L667.1,1238.2M711.1,1238.3L735.1,1232.1M726.7,1232.2L735.1,1232.1L727.7,1236.1M766.2,1238.3L789.4,1229.3M781,1230.4L789.4,1229.3L782.5,1234.2M814.5,1238.3L836.4,1227M828.2,1228.9L836.4,1227L830.1,1232.5M855.4,1238.3L875.9,1225M868.1,1227.7L875.9,1225L870.3,1231.1M889.2,1238.3L908.6,1223.4M900.9,1226.7L908.6,1223.4L903.4,1229.9M916.5,1238.3L935.1,1222.1M927.7,1225.9L935.1,1222.1L930.3,1229M938.5,1238.3L956.7,1221.2M949.3,1225.3L956.7,1221.2L952.1,1228.3M956.1,1238.3L974.2,1220.4M966.8,1224.8L974.2,1220.4L969.7,1227.8M970.2,1238.3L988.7,1219.9M981.1,1224.5L988.7,1219.9L984.1,1227.5M204.5,1212.8L204.5,1231.1M206,1225.1L204.5,1231.1L203,1225.1M217.5,1212.8L217.9,1230.6M219.2,1224.7L217.9,1230.6L216.3,1224.7M234.3,1212.8L235.6,1229.8M236.6,1224.1L235.6,1229.8L233.8,1224.3M255.9,1212.8L258.8,1228.9M259.2,1223.4L258.8,1228.9L256.5,1223.8M283.5,1212.8L288.8,1227.7M288.3,1222.3L288.8,1227.7L285.8,1223.2M318.1,1212.8L326.6,1226.1M324.9,1221L326.6,1226.1L322.7,1222.4M360.6,1212.8L372.9,1224.1M369.8,1219.4L372.9,1224.1L367.9,1221.4M411.1,1212.8L427.7,1221.7M423,1217.4L427.7,1221.7L421.5,1220.2M469.2,1212.8L489.8,1219M483.5,1215.3L489.8,1219L482.5,1218.7M533.1,1212.8L557.1,1216M549.4,1213L557.1,1216L548.9,1216.9M600.1,1212.8L626.4,1212.8M617.8,1210.7L626.4,1212.8L617.8,1215M667.2,1212.8L694.4,1209.7M685.2,1208.5L694.4,1209.7L685.7,1212.9M731.1,1212.8L757.9,1206.6M748.6,1206.5L757.9,1206.6L749.6,1210.9M789.2,1212.8L814.6,1203.9M805.5,1204.8L814.6,1203.9L807,1209M839.7,1212.8L863.4,1201.5M854.6,1203.3L863.4,1201.5L856.5,1207.2M882.2,1212.8L903.9,1199.6M895.7,1202.2L903.9,1199.6L897.9,1205.7M916.8,1212.8L936.9,1198M929.1,1201.2L936.9,1198L931.5,1204.5M944.4,1212.8L963.3,1196.8M955.7,1200.5L963.3,1196.8L958.4,1203.6M966,1212.8L984.2,1195.8M976.8,1199.9L984.2,1195.8L979.6,1202.9M982.7,1212.8L1000.8,1195.1M993.4,1199.4L1000.8,1195.1L996.3,1202.4M995.8,1212.8L1014,1194.6M1006.5,1199.1L1014,1194.6L1009.5,1202.1M204.5,1187.3L204.5,1205M206,1199.2L204.5,1205L203,1199.2M216.4,1187.3L216.8,1204.5M218.1,1198.8L216.8,1204.5L215.3,1198.9M232.4,1187.3L233.9,1203.8M234.8,1198.2L233.9,1203.8L232,1198.5M253.6,1187.3L257,1202.9M257.2,1197.5L257,1202.9L254.6,1198M281.4,1187.3L287.6,1201.7M286.7,1196.4L287.6,1201.7L284.3,1197.4M316.8,1187.3L326.6,1200.1M324.5,1195.1L326.6,1200.1L322.3,1196.7M360.8,1187.3L375,1198.2M371.2,1193.5L375,1198.2L369.4,1195.8M413.7,1187.3L432.6,1195.9M427.1,1191.5L432.6,1195.9L425.6,1194.7M474.7,1187.3L498.1,1193.3M490.9,1189.4L498.1,1193.3L489.9,1193.3M542,1187.3L569.2,1190.4M560.5,1187.1L569.2,1190.4L560,1191.6M612.9,1187.3L642.4,1187.3M632.7,1184.9L642.4,1187.3L632.7,1189.7M683.8,1187.3L714,1184.2M703.8,1182.7L714,1184.2L704.3,1187.7M751.1,1187.3L780.6,1181.3M770.4,1180.9L780.6,1181.3L771.4,1185.7M812.1,1187.3L839.7,1178.7M829.9,1179.2L839.7,1178.7L831.3,1183.8M865,1187.3L890.1,1176.4M880.9,1177.9L890.1,1176.4L882.7,1182M909,1187.3L931.7,1174.5M923.1,1176.8L931.7,1174.5L925.2,1180.6M944.4,1187.3L965,1172.9M957,1176L965,1172.9L959.4,1179.4M972.2,1187.3L991.2,1171.7M983.6,1175.3L991.2,1171.7L986.2,1178.4M993.4,1187.3L1011.4,1170.8M1004.1,1174.8L1011.4,1170.8L1006.8,1177.7M1009.4,1187.3L1027,1170.1M1019.8,1174.3L1027,1170.1L1022.6,1177.2M1021.3,1187.3L1039,1169.6M1031.7,1174L1039,1169.6L1034.6,1176.9M204.5,1161.8L204.5,1178.6M205.9,1173L204.5,1178.6L203.1,1173M215.3,1161.8L215.8,1178.1M217,1172.7L215.8,1178.1L214.3,1172.7M230.5,1161.8L232.2,1177.4M232.9,1172.1L232.2,1177.4L230.3,1172.4M251.3,1161.8L255.2,1176.5M255.2,1171.4L255.2,1176.5L252.7,1172M279.3,1161.8L286.3,1175.4M285.1,1170.3L286.3,1175.4L282.9,1171.5M315.5,1161.8L326.7,1174M324,1169L326.7,1174L322,1170.9M361.1,1161.8L377.1,1172.1M372.7,1167.4L377.1,1172.1L371,1170M416.2,1161.8L437.5,1170M431.2,1165.5L437.5,1170L429.8,1169M480.2,1161.8L506.5,1167.5M498.3,1163.4L506.5,1167.5L497.3,1167.8M551,1161.8L581.4,1164.7M571.6,1161.2L581.4,1164.7L571.1,1166.2M625.7,1161.8L658.4,1161.8M647.6,1159.1L658.4,1161.8L647.6,1164.5M700.3,1161.8L733.6,1158.9M722.4,1157.1L733.6,1158.9L722.8,1162.6M771.2,1161.8L803.2,1156.1M792.1,1155.3L803.2,1156.1L793.1,1160.6M835.1,1161.8L864.6,1153.6M854.2,1153.9L864.6,1153.6L855.6,1158.7M890.2,1161.8L916.7,1151.4M907.1,1152.7L916.7,1151.4L908.8,1157M935.8,1161.8L959.1,1149.6M950.4,1151.7L959.1,1149.6L952.4,1155.5M972.1,1161.8L992.7,1148.1M984.8,1150.9L992.7,1148.1L987,1154.3M1000,1161.8L1018.6,1147M1011.3,1150.3L1018.6,1147L1013.7,1153.4M1020.9,1161.8L1038.3,1146.1M1031.2,1149.9L1038.3,1146.1L1033.8,1152.7M1036.1,1161.8L1052.9,1145.5M1046,1149.5L1052.9,1145.5L1048.7,1152.2M1046.8,1161.8L1063.6,1145M1056.7,1149.1L1063.6,1145L1059.5,1151.9M204.5,1136.2L204.5,1151.8M205.8,1146.6L204.5,1151.8L203.2,1146.6M214.1,1136.2L214.7,1151.3M215.8,1146.3L214.7,1151.3L213.3,1146.4M228.5,1136.2L230.5,1150.7M231,1145.8L230.5,1150.7L228.7,1146.1M249.1,1136.2L253.4,1149.9M253.1,1145L253.4,1149.9L250.8,1145.7M277.2,1136.2L285,1148.8M283.5,1144L285,1148.8L281.4,1145.3M314.3,1136.2L326.7,1147.5M323.5,1142.8L326.7,1147.5L321.7,1144.8M361.3,1136.2L379.2,1145.8M374.1,1141.2L379.2,1145.8L372.5,1144.1M418.7,1136.2L442.5,1143.8M435.3,1139.4L442.5,1143.8L434,1143.3M485.7,1136.2L514.9,1141.5M505.7,1137.4L514.9,1141.5L504.8,1142.2M560,1136.2L593.6,1138.9M582.7,1135.3L593.6,1138.9L582.3,1140.8M638.4,1136.2L674.4,1136.2M662.5,1133.3L674.4,1136.2L662.5,1139.2M716.8,1136.2L753.1,1133.6M740.9,1131.5L753.1,1133.6L741.3,1137.4M791.2,1136.2L825.7,1131M813.9,1129.9L825.7,1131L814.7,1135.6M858.1,1136.2L889.4,1128.7M878.5,1128.6L889.4,1128.7L879.7,1133.8M915.5,1136.2L943,1126.7M933.1,1127.6L943,1126.7L934.7,1132.1M962.6,1136.2L986.3,1125M977.5,1126.8L986.3,1125L979.4,1130.7M999.7,1136.2L1020.1,1123.7M1012.3,1126.1L1020.1,1123.7L1014.4,1129.5M1027.8,1136.2L1045.8,1122.6M1038.7,1125.6L1045.8,1122.6L1041,1128.6M1048.3,1136.2L1064.7,1121.8M1058.1,1125.2L1064.7,1121.8L1060.5,1127.9M1062.7,1136.2L1078.3,1121.2M1071.9,1124.9L1078.3,1121.2L1074.4,1127.5M1072.4,1136.2L1087.9,1120.7M1081.5,1124.6L1087.9,1120.7L1084,1127.1M204.5,1110.7L204.5,1124.6M205.6,1120L204.5,1124.6L203.4,1120M213,1110.7L213.6,1124.2M214.5,1119.7L213.6,1124.2L212.3,1119.8M226.6,1110.7L228.7,1123.6M229.1,1119.2L228.7,1123.6L227,1119.5M246.8,1110.7L251.5,1122.9M251,1118.5L251.5,1122.9L249,1119.3M275.1,1110.7L283.7,1122M281.8,1117.5L283.7,1122L279.9,1119M313,1110.7L326.7,1120.8M323,1116.3L326.7,1120.8L321.3,1118.6M361.6,1110.7L381.4,1119.3M375.5,1114.8L381.4,1119.3L374.1,1118.1M421.3,1110.7L447.5,1117.5M439.4,1113.1L447.5,1117.5L438.3,1117.4M491.2,1110.7L523.3,1115.4M513.1,1111.2L523.3,1115.4L512.3,1116.5M569,1110.7L605.8,1113.1M593.8,1109.3L605.8,1113.1L593.4,1115.4M651.2,1110.7L690.4,1110.7M677.5,1107.5L690.4,1110.7L677.5,1114M733.4,1110.7L772.6,1108.3M759.4,1105.9L772.6,1108.3L759.8,1112.3M811.2,1110.7L848.1,1106M835.5,1104.5L848.1,1106L836.3,1110.6M881.1,1110.7L914,1104M902.6,1103.5L914,1104L903.7,1108.9M940.8,1110.7L969.1,1102.2M959,1102.7L969.1,1102.2L960.4,1107.3M989.4,1110.7L1013.1,1100.7M1004.5,1102L1013.1,1100.7L1006.1,1106M1027.3,1110.7L1047.2,1099.5M1039.7,1101.6L1047.2,1099.5L1041.6,1104.8M1055.6,1110.7L1072.6,1098.5M1066,1101.2L1072.6,1098.5L1068,1104M1075.8,1110.7L1090.8,1097.8M1084.8,1100.8L1090.8,1097.8L1086.9,1103.3M1089.4,1110.7L1103.4,1097.3M1097.7,1100.6L1103.4,1097.3L1099.9,1102.9M1097.9,1110.7L1111.7,1096.9M1106,1100.3L1111.7,1096.9L1108.3,1102.6M204.5,1085.2L204.5,1097M205.5,1093.1L204.5,1097L203.5,1093.1M211.9,1085.2L212.5,1096.7M213.2,1092.8L212.5,1096.7L211.3,1092.9M224.7,1085.2L227,1096.2M227.1,1092.4L227,1096.2L225.3,1092.8M244.5,1085.2L249.7,1095.6M248.8,1091.7L249.7,1095.6L247.1,1092.6M273,1085.2L282.4,1094.8M280.1,1090.8L282.4,1094.8L278.5,1092.4M311.7,1085.2L326.7,1093.8M322.5,1089.7L326.7,1093.8L321,1092.2M361.9,1085.2L383.5,1092.5M376.9,1088.3L383.5,1092.5L375.7,1091.9M423.8,1085.2L452.4,1091M443.5,1086.7L452.4,1091L442.5,1091.4M496.7,1085.2L531.8,1089.2M520.5,1085L531.8,1089.2L519.9,1090.8M578,1085.2L618,1087.2M604.9,1083.3L618,1087.2L604.6,1089.9M664,1085.2L706.4,1085.2M692.4,1081.7L706.4,1085.2L692.4,1088.7M749.9,1085.2L792,1083.2M777.9,1080.4L792,1083.2L778.3,1087.3M831.2,1085.2L870.3,1081.2M857.1,1079.3L870.3,1081.2L857.8,1085.7M904.1,1085.2L938.5,1079.4M926.6,1078.5L938.5,1079.4L927.6,1084.2M966,1085.2L994.9,1077.9M984.8,1077.9L994.9,1077.9L986,1082.7M1016.2,1085.2L1039.7,1076.6M1031.3,1077.5L1039.7,1076.6L1032.7,1081.4M1054.9,1085.2L1073.9,1075.6M1066.9,1077.2L1073.9,1075.6L1068.5,1080.3M1083.4,1085.2L1099,1074.8M1093,1077L1099,1074.8L1094.7,1079.5M1103.2,1085.2L1116.5,1074.2M1111.2,1076.7L1116.5,1074.2L1113.1,1078.9M1116,1085.2L1128.2,1073.7M1123.2,1076.5L1128.2,1073.7L1125.1,1078.5M1123.4,1085.2L1135.2,1073.4M1130.3,1076.3L1135.2,1073.4L1132.3,1078.3M204.5,1059.7L204.5,1069.1M205.3,1066L204.5,1069.1L203.7,1066M210.7,1059.7L211.4,1068.8M211.9,1065.7L211.4,1068.8L210.4,1065.9M222.7,1059.7L225.2,1068.4M225.1,1065.3L225.2,1068.4L223.6,1065.8M242.2,1059.7L247.7,1068M246.6,1064.8L247.7,1068L245.2,1065.7M270.9,1059.7L281,1067.3M278.3,1064L281,1067.3L277,1065.6M310.4,1059.7L326.7,1066.5M321.9,1062.9L326.7,1066.5L320.7,1065.6M362.1,1059.7L385.6,1065.5M378.3,1061.6L385.6,1065.5L377.4,1065.5M426.4,1059.7L457.5,1064.3M447.6,1060.2L457.5,1064.3L446.8,1065.3M502.2,1059.7L540.2,1062.9M527.9,1058.7L540.2,1062.9L527.4,1065M587,1059.7L630.2,1061.3M616.1,1057.2L630.2,1061.3L615.8,1064.3M676.7,1059.7L722.4,1059.7M707.3,1055.9L722.4,1059.7L707.3,1063.4M766.5,1059.7L811.4,1058M796.4,1054.9L811.4,1058L796.7,1062.3M851.3,1059.7L892.5,1056.5M878.7,1054.1L892.5,1056.5L879.2,1060.9M927.1,1059.7L962.7,1055.1M950.6,1053.7L962.7,1055.1L951.3,1059.5M991.3,1059.7L1020.5,1053.9M1010.4,1053.4L1020.5,1053.9L1011.4,1058.2M1043,1059.7L1066.1,1052.9M1057.9,1053.2L1066.1,1052.9L1059,1057M1082.6,1059.7L1100.4,1052M1093.9,1053.1L1100.4,1052L1095.1,1056M1111.2,1059.7L1125.1,1051.4M1119.8,1053L1125.1,1051.4L1121.2,1055.3M1130.7,1059.7L1141.9,1050.9M1137.5,1052.9L1141.9,1050.9L1138.9,1054.7M1142.7,1059.7L1152.5,1050.5M1148.5,1052.7L1152.5,1050.5L1150,1054.4M1148.9,1059.7L1158.3,1050.3M1154.5,1052.6L1158.3,1050.3L1156,1054.1M204.5,1034.1L204.5,1040.8M205,1038.6L204.5,1040.8L204,1038.6M209.6,1034.1L210.3,1040.6M210.6,1038.4L210.3,1040.6L209.5,1038.5M220.8,1034.1L223.3,1040.3M223,1038.1L223.3,1040.3L222,1038.5M239.9,1034.1L245.8,1040M244.3,1037.6L245.8,1040L243.4,1038.6M268.8,1034.1L279.7,1039.5M276.5,1036.9L279.7,1039.5L275.6,1038.7M309.2,1034.1L326.6,1039M321.3,1035.9L326.6,1039L320.5,1038.8M362.4,1034.1L387.7,1038.3M379.7,1034.8L387.7,1038.3L379,1039M428.9,1034.1L462.5,1037.4M451.7,1033.6L462.5,1037.4L451.1,1039.1M507.7,1034.1L548.7,1036.4M535.4,1032.3L548.7,1036.4L535,1039M595.9,1034.1L642.5,1035.3M627.2,1031.1L642.5,1035.3L627,1038.8M689.5,1034.1L738.4,1034.1M722.2,1030.1L738.4,1034.1L722.2,1038.2M783,1034.1L830.7,1033M814.9,1029.4L830.7,1033L815.1,1037.3M871.3,1034.1L914.6,1031.9M900.1,1029.1L914.6,1031.9L900.5,1036.2M950,1034.1L986.8,1030.9M974.4,1028.9L986.8,1030.9L975,1035M1016.5,1034.1L1046,1030M1035.9,1029L1046,1030L1036.6,1033.8M1069.8,1034.1L1092.1,1029.3M1084.3,1029.1L1092.1,1029.3L1085.1,1032.8M1110.2,1034.1L1126.5,1028.8M1120.7,1029.2L1126.5,1028.8L1121.5,1031.9M1139,1034.1L1150.8,1028.3M1146.4,1029.3L1150.8,1028.3L1147.4,1031.2M1158.1,1034.1L1166.9,1028M1163.5,1029.3L1166.9,1028L1164.5,1030.7M1169.4,1034.1L1176.5,1027.7M1173.6,1029.2L1176.5,1027.7L1174.7,1030.4M1174.4,1034.1L1181.1,1027.5M1178.4,1029.2L1181.1,1027.5L1179.4,1030.2M204.5,1008.6L204.5,1012.1M204.8,1011L204.5,1012.1L204.2,1011M208.5,1008.6L209.1,1012M209.2,1010.9L209.1,1012L208.6,1011M218.9,1008.6L221.5,1011.9M220.9,1010.6L221.5,1011.9L220.4,1011M237.6,1008.6L243.8,1011.7M242,1010.2L243.8,1011.7L241.5,1011.2M266.7,1008.6L278.2,1011.5M274.7,1009.6L278.2,1011.5L274.2,1011.5M307.9,1008.6L326.6,1011.2M320.6,1008.8L326.6,1011.2L320.2,1011.9M362.7,1008.6L389.8,1010.8M381,1007.8L389.8,1010.8L380.7,1012.3M431.5,1008.6L467.5,1010.3M455.8,1006.8L467.5,1010.3L455.5,1012.7M513.2,1008.6L557.3,1009.8M542.8,1005.8L557.3,1009.8L542.6,1013.1M604.9,1008.6L654.8,1009.2M638.4,1004.9L654.8,1009.2L638.3,1013.1M702.2,1008.6L754.4,1008.6M737.2,1004.3L754.4,1008.6L737.2,1012.9M799.5,1008.6L850,1008M833.3,1004.1L850,1008L833.4,1012.4M891.3,1008.6L936.6,1007.4M921.6,1004.1L936.6,1007.4L921.8,1011.6M973,1008.6L1010.8,1006.9M998.2,1004.4L1010.8,1006.9L998.5,1010.6M1041.8,1008.6L1071.1,1006.5M1061.3,1004.8L1071.1,1006.5L1061.6,1009.6M1096.6,1008.6L1117.9,1006.1M1110.6,1005.2L1117.9,1006.1L1111.1,1008.7M1137.8,1008.6L1152.2,1005.8M1147.2,1005.5L1152.2,1005.8L1147.7,1007.9M1166.9,1008.6L1176.1,1005.5M1172.8,1005.8L1176.1,1005.5L1173.3,1007.3M1185.6,1008.6L1191.5,1005.4M1189.3,1006L1191.5,1005.4L1189.8,1006.9M1196,1008.6L1200.1,1005.2M1198.5,1006L1200.1,1005.2L1199,1006.7M1200,1008.6L1203.5,1005.1M1202,1006L1203.5,1005.1L1202.6,1006.6M204.5,983.1L204.5,983.1M204.5,983.1L204.5,983.1L204.5,983.1M207.3,983.1L207.9,983.1M207.7,983L207.9,983.1L207.7,983.2M217,983.1L219.6,983.1M218.7,982.9L219.6,983.1L218.7,983.3M235.3,983.1L241.8,983.1M239.7,982.6L241.8,983.1L239.7,983.6M264.6,983.1L276.8,983.1M272.8,982.1L276.8,983.1L272.8,984.1M306.6,983.1L326.5,983.1M320,981.5L326.5,983.1L320,984.7M362.9,983.1L392,983.1M382.4,980.7L392,983.1L382.4,985.5M434,983.1L472.6,983.1M459.8,979.9L472.6,983.1L459.8,986.3M518.7,983.1L565.8,983.1M550.3,979.2L565.8,983.1L550.3,987M613.9,983.1L667.1,983.1M649.6,978.7L667.1,983.1L649.6,987.5M715,983.1L770.4,983.1M752.1,978.5L770.4,983.1L752.1,987.7M816.1,983.1L869.3,983.1M851.7,978.7L869.3,983.1L851.7,987.5M911.3,983.1L958.5,983.1M943,979.2L958.5,983.1L943,987M996,983.1L1034.6,983.1M1021.9,979.9L1034.6,983.1L1021.9,986.3M1067.1,983.1L1096.1,983.1M1086.5,980.7L1096.1,983.1L1086.5,985.5M1123.4,983.1L1143.3,983.1M1136.8,981.5L1143.3,983.1L1136.8,984.7M1165.4,983.1L1177.7,983.1M1173.7,982.1L1177.7,983.1L1173.7,984.1M1194.7,983.1L1201.2,983.1M1199,982.6L1201.2,983.1L1199,983.6M1213,983.1L1215.7,983.1M1214.8,982.9L1215.7,983.1L1214.8,983.3M1222.7,983.1L1223.3,983.1M1223.1,983L1223.3,983.1L1223.1,983.2M1225.5,983.1L1225.5,983.1M1225.5,983.1L1225.5,983.1L1225.5,983.1" fill="none" stroke="#fb4b4b" stroke-width="2.0" stroke-linejoin="miter"/>
<path d="M218.9,1008.6L220.2,1010.2L221.4,1011.7L222.8,1013.3L224.1,1014.8L225.6,1016.5L227,1018L228.4,1019.5L229.9,1021.1L231.4,1022.6L232.8,1024L234.4,1025.6L235.8,1027L237.4,1028.5L239.2,1030.2L240.7,1031.6L242.4,1033.1L244.1,1034.6L246.1,1036.3L248.2,1038.1L249.8,1039.4L251.4,1040.8L253.1,1042.2L255,1043.7L257,1045.3L259.1,1046.9L261.4,1048.7L263.8,1050.5L266.4,1052.4L269.2,1054.4L272.1,1056.5L275.3,1058.7L277,1059.9L278.8,1061L280.6,1062.3L282.5,1063.5L284.4,1064.7L286.4,1066L288.5,1067.4L290.7,1068.7L293,1070.1L295.3,1071.5L297.7,1073L300.3,1074.4L302.9,1076L305.6,1077.5L308.4,1079.1L311.4,1080.7L314.4,1082.3L317.6,1084L320.9,1085.7L324.3,1087.5L327.8,1089.2L331.5,1091L335.3,1092.9L339.3,1094.7L343.4,1096.6L347.7,1098.6L352.2,1100.5L356.8,1102.5L361.6,1104.5L366.6,1106.5L371.8,1108.5L377.1,1110.6L382.7,1112.6L388.5,1114.7L394.6,1116.8L400.8,1118.8L407.3,1120.9L414,1123L421,1125L428.2,1127.1L435.7,1129.1L443.5,1131.1L451.5,1133L459.8,1135L468.5,1136.8L477.4,1138.6L486.6,1140.4L496.1,1142L506,1143.6L516.1,1145.1L526.6,1146.5L537.4,1147.8L548.6,1148.9L560,1150L571.8,1150.9L584,1151.6L596.4,1152.2L609.2,1152.6L622.3,1152.8L635.8,1152.8L649.5,1152.6L663.6,1152.2L678,1151.6L692.6,1150.7L707.5,1149.6L722.7,1148.3L738.1,1146.7L753.7,1144.9L769.5,1142.8L785.5,1140.5L801.7,1137.9L817.9,1135L834.2,1131.9L850.6,1128.6L867,1125.1L883.3,1121.3L899.6,1117.3L915.7,1113.1L931.7,1108.8L947.6,1104.3L963.1,1099.7L978.4,1094.9L993.4,1090.1L1008,1085.2L1022.2,1080.3L1036,1075.3L1049.3,1070.4L1062.2,1065.4L1074.5,1060.6L1086.2,1055.8L1097.4,1051.1L1108,1046.5L1118.1,1042.1L1127.5,1037.8L1136.4,1033.7L1144.7,1029.7L1152.4,1025.9L1159.6,1022.4L1166.2,1019L1172.4,1015.8L1178,1012.8L1183.1,1010L1187.8,1007.4L1192,1005L1195.9,1002.8L1199.4,1000.7L1202.5,998.8L1205.3,997.1L1207.8,995.5L1210.1,994.1L1212.1,992.8L1213.8,991.7L1216.7,989.7L1219,988.1L1220.7,986.9L1222.5,985.5L1224.2,984.2L1225.5,983.1M266.7,1008.6L268.6,1009.1L270.6,1009.6L272.6,1010L274.6,1010.5L276.5,1011L278.6,1011.4L280.6,1011.9L282.8,1012.3L284.9,1012.8L287,1013.3L289,1013.7L291.2,1014.1L293.6,1014.6L295.7,1015L298,1015.5L300.5,1016L302.6,1016.4L304.8,1016.8L307.1,1017.2L309.6,1017.7L312.3,1018.2L315.2,1018.7L317.2,1019L319.4,1019.4L321.6,1019.8L324,1020.2L326.4,1020.6L329,1021L331.8,1021.5L334.7,1021.9L337.7,1022.4L340.9,1022.9L344.2,1023.4L347.8,1023.9L351.5,1024.4L355.4,1025L357.5,1025.3L359.6,1025.6L361.8,1025.9L364,1026.2L366.3,1026.5L368.6,1026.8L371,1027.1L373.5,1027.4L376.1,1027.7L378.7,1028.1L381.4,1028.4L384.1,1028.7L387,1029.1L389.9,1029.4L392.9,1029.8L396,1030.1L399.2,1030.5L402.5,1030.9L405.9,1031.2L409.4,1031.6L412.9,1032L416.6,1032.4L420.4,1032.7L424.3,1033.1L428.3,1033.5L432.4,1033.9L436.7,1034.3L441,1034.7L445.5,1035.1L450.1,1035.5L454.9,1035.9L459.8,1036.3L464.8,1036.7L470,1037.1L475.3,1037.5L480.8,1037.9L486.5,1038.3L492.3,1038.7L498.2,1039.1L504.4,1039.4L510.7,1039.8L517.2,1040.2L523.8,1040.6L530.7,1040.9L537.7,1041.3L544.9,1041.6L552.3,1042L559.9,1042.3L567.7,1042.6L575.7,1042.9L583.9,1043.1L592.3,1043.4L600.9,1043.7L609.7,1043.9L618.7,1044.1L627.9,1044.3L637.3,1044.4L646.9,1044.5L656.7,1044.6L666.7,1044.7L676.9,1044.7L687.3,1044.7L697.8,1044.7L708.6,1044.7L719.5,1044.6L730.6,1044.4L741.8,1044.2L753.2,1044L764.7,1043.7L776.3,1043.4L788.1,1043.1L800,1042.7L811.9,1042.2L823.9,1041.7L836,1041.2L848.1,1040.6L860.2,1040L872.4,1039.3L884.5,1038.5L896.6,1037.7L908.7,1036.9L920.6,1036L932.5,1035.1L944.3,1034.1L956,1033.1L967.5,1032L978.9,1030.9L990.1,1029.8L1001.1,1028.7L1011.9,1027.5L1022.4,1026.2L1032.7,1025L1042.8,1023.7L1052.5,1022.5L1062,1021.2L1071.2,1019.9L1080.2,1018.5L1088.8,1017.2L1097,1015.9L1105,1014.6L1112.7,1013.3L1120,1012L1127,1010.7L1133.7,1009.4L1140.1,1008.2L1146.1,1006.9L1151.9,1005.7L1157.3,1004.6L1162.4,1003.4L1167.3,1002.3L1171.8,1001.2L1176.1,1000.2L1180.1,999.1L1183.9,998.2L1187.4,997.2L1190.6,996.3L1193.7,995.4L1196.5,994.6L1199.1,993.8L1201.5,993.1L1203.7,992.3L1205.8,991.7L1209.4,990.4L1212.5,989.3L1215,988.3L1217.1,987.5L1219.5,986.4L1221.8,985.3L1223.8,984.2L1225.5,983.1L1225.5,983.1M362.7,1008.6L364.7,1008.8L366.7,1008.9L368.8,1009.1L370.9,1009.3L373.1,1009.4L375.1,1009.6L377.1,1009.7L379.2,1009.9L381.3,1010L383.6,1010.2L385.9,1010.4L387.9,1010.5L390.2,1010.7L392.7,1010.8L394.8,1011L397.1,1011.1L399.6,1011.3L402.3,1011.5L404.4,1011.6L406.7,1011.8L409.1,1011.9L411.7,1012.1L414.4,1012.2L417.2,1012.4L419.2,1012.5L421.3,1012.7L423.5,1012.8L425.7,1012.9L428.1,1013.1L430.5,1013.2L433,1013.3L435.7,1013.5L438.4,1013.6L441.3,1013.8L444.3,1013.9L447.4,1014.1L450.6,1014.3L454,1014.4L457.5,1014.6L461.2,1014.8L465,1015L469,1015.1L471,1015.2L473.1,1015.3L475.3,1015.4L477.4,1015.5L479.7,1015.6L482,1015.7L484.3,1015.8L486.7,1015.9L489.1,1016L491.6,1016.1L494.1,1016.2L496.7,1016.3L499.4,1016.4L502.1,1016.5L504.9,1016.6L507.7,1016.7L510.6,1016.8L513.5,1017L516.5,1017.1L519.6,1017.2L522.8,1017.3L526,1017.4L529.3,1017.5L532.6,1017.6L536,1017.7L539.5,1017.8L543.1,1017.9L546.8,1018L550.5,1018.1L554.3,1018.2L558.2,1018.3L562.2,1018.4L566.2,1018.5L570.4,1018.6L574.6,1018.7L578.9,1018.8L583.4,1018.9L587.9,1019L592.5,1019.1L597.2,1019.2L602,1019.3L606.8,1019.3L611.8,1019.4L616.9,1019.5L622.1,1019.6L627.4,1019.6L632.8,1019.7L638.3,1019.8L643.9,1019.8L649.7,1019.9L655.5,1019.9L661.4,1019.9L667.5,1020L673.6,1020L679.9,1020L686.3,1020L692.8,1020.1L699.4,1020.1L706.1,1020.1L712.9,1020L719.9,1020L726.9,1020L734.1,1019.9L741.3,1019.9L748.7,1019.8L756.1,1019.7L763.7,1019.7L771.3,1019.6L779.1,1019.5L786.9,1019.3L794.9,1019.2L802.9,1019.1L811,1018.9L819.2,1018.7L827.4,1018.5L835.8,1018.3L844.1,1018.1L852.6,1017.9L861.1,1017.6L869.6,1017.4L878.2,1017.1L886.8,1016.8L895.4,1016.5L904.1,1016.2L912.7,1015.8L921.4,1015.5L930,1015.1L938.7,1014.7L947.3,1014.3L955.8,1013.9L964.4,1013.5L972.9,1013L981.3,1012.5L989.7,1012.1L998,1011.6L1006.2,1011.1L1014.3,1010.5L1022.3,1010L1030.2,1009.5L1038,1008.9L1045.6,1008.3L1053.1,1007.8L1060.5,1007.2L1067.7,1006.6L1074.8,1006L1081.7,1005.4L1088.5,1004.8L1095,1004.2L1101.4,1003.6L1107.7,1002.9L1113.7,1002.3L1119.5,1001.7L1125.2,1001.1L1130.7,1000.5L1136,999.9L1141,999.3L1145.9,998.7L1150.6,998.1L1155.2,997.5L1159.5,996.9L1163.6,996.3L1167.6,995.8L1171.3,995.2L1174.9,994.7L1178.3,994.1L1181.6,993.6L1184.6,993.1L1187.5,992.6L1190.3,992.1L1192.9,991.7L1195.3,991.2L1197.6,990.8L1199.7,990.4L1201.8,989.9L1205.4,989.2L1208.6,988.5L1211.4,987.8L1213.7,987.2L1215.8,986.7L1218.3,985.9L1220.2,985.3L1222.4,984.6L1224.3,983.8L1225.5,983.1M226.6,1110.7L226.9,1112.7L227.3,1114.7L227.6,1116.7L227.9,1118.8L228.3,1120.9L228.6,1122.9L228.9,1125.1L229.3,1127.2L229.6,1129.3L230,1131.6L230.3,1133.8L230.6,1135.8L231,1138.1L231.3,1140.5L231.6,1142.6L232,1144.9L232.3,1147.3L232.7,1149.9L233,1152L233.3,1154.2L233.7,1156.6L234,1159L234.4,1161.6L234.8,1164.4L235.1,1167.3L235.4,1169.3L235.7,1171.4L236,1173.6L236.3,1175.9L236.6,1178.2L236.9,1180.7L237.2,1183.2L237.5,1185.8L237.8,1188.5L238.2,1191.4L238.5,1194.3L238.9,1197.3L239.2,1200.5L239.6,1203.7L239.9,1207.1L240.3,1210.6L240.7,1214.2L241,1218L241.4,1221.9L241.6,1223.8L241.8,1225.9L242,1227.9L242.1,1230L242.3,1232.2L242.5,1234.3L242.7,1236.5L242.9,1238.8L243,1241L243.2,1243.4L243.4,1245.7L243.6,1248.1L243.7,1250.5L243.9,1253L244.1,1255.5L244.2,1258L244.4,1260.6L244.5,1263.2L244.7,1265.8L244.8,1268.5L245,1271.3L245.1,1274L245.2,1276.8L245.3,1279.6L245.4,1282.5L245.5,1285.4L245.6,1288.4L245.7,1291.3L245.8,1294.3L245.9,1297.4L245.9,1300.5L246,1303.6L246,1306.7L246.1,1309.9L246.1,1313.1L246.1,1316.3L246.1,1319.6L246.1,1322.8L246,1326.2L246,1329.5L245.9,1332.8L245.9,1336.2L245.8,1339.6L245.7,1343L245.6,1346.4L245.4,1349.8L245.3,1353.2L245.1,1356.7L244.9,1360.1L244.7,1363.5L244.5,1367L244.3,1370.4L244,1373.8L243.7,1377.3L243.4,1380.7L243.1,1384.1L242.8,1387.4L242.5,1390.8L242.1,1394.1L241.7,1397.4L241.3,1400.7L240.9,1404L240.5,1407.2L240,1410.3L239.5,1413.5L239.1,1416.6L238.6,1419.6L238.1,1422.6L237.5,1425.5L237,1428.4L236.5,1431.2L235.9,1434L235.3,1436.7L234.7,1439.3L234.1,1441.9L233.5,1444.4L232.9,1446.9L232.3,1449.2L231.7,1451.5L231,1453.8L230.4,1455.9L229.8,1458L229.1,1460L228.5,1461.9L227.2,1465.6L225.9,1468.9L224.6,1472L223.4,1474.8L222.1,1477.3L220.9,1479.6L219.8,1481.6L218.6,1483.4L217,1485.7L215.5,1487.5L214,1489L212.3,1490.5L210.5,1491.8L208.7,1492.7L206.8,1493.3L204.8,1493.6L204.5,1493.6M234.3,1212.8L234.5,1214.8L234.6,1216.9L234.8,1218.9L234.9,1220.9L235,1223L235.2,1225.2L235.3,1227.3L235.4,1229.3L235.6,1231.6L235.7,1233.9L235.8,1236.1L236,1238.4L236.1,1240.6L236.2,1242.9L236.3,1244.9L236.4,1247.1L236.5,1249.4L236.7,1251.8L236.8,1254.4L236.9,1256.5L237,1258.6L237,1260.9L237.1,1263.3L237.2,1265.8L237.3,1268.4L237.4,1271.1L237.5,1274L237.6,1277L237.6,1279L237.7,1281.2L237.7,1283.4L237.8,1285.6L237.8,1288L237.8,1290.4L237.9,1292.8L237.9,1295.4L237.9,1298L237.9,1300.7L238,1303.4L238,1306.3L238,1309.2L238,1312.2L237.9,1315.2L237.9,1318.4L237.9,1321.6L237.8,1324.9L237.8,1328.2L237.7,1331.7L237.6,1335.2L237.5,1338.8L237.4,1342.4L237.3,1346.2L237.1,1350L237,1353.8L236.8,1357.8L236.6,1361.7L236.5,1363.8L236.4,1365.8L236.2,1367.8L236.1,1369.9L236,1371.9L235.8,1374L235.7,1376.1L235.5,1378.2L235.4,1380.3L235.2,1382.4L235.1,1384.5L234.9,1386.6L234.7,1388.7L234.5,1390.8L234.3,1393L234.1,1395.1L233.9,1397.2L233.7,1399.4L233.5,1401.5L233.3,1403.6L233,1405.7L232.8,1407.8L232.6,1409.9L232.3,1412.1L232,1414.1L231.8,1416.2L231.5,1418.3L231.2,1420.4L230.9,1422.4L230.7,1424.4L230.4,1426.5L230.1,1428.5L229.7,1430.4L229.1,1434.3L228.5,1438.1L227.8,1441.9L227.1,1445.5L226.4,1449L225.6,1452.3L224.9,1455.6L224.1,1458.7L223.4,1461.6L222.6,1464.4L221.8,1467.1L221,1469.6L220.3,1472L219.5,1474.2L218.7,1476.2L218,1478.1L216.8,1480.7L215.8,1482.9L214.7,1484.9L213.4,1487.1L212.1,1488.8L210.7,1490.4L209,1491.9L207.2,1493L205.2,1493.6L204.5,1493.6M360.6,1212.8L362,1214.2L363.5,1215.5L365.1,1216.9L366.6,1218.3L368.2,1219.7L369.9,1221.1L371.5,1222.5L373,1223.8L374.8,1225.3L376.5,1226.7L378.1,1228.1L379.9,1229.6L381.6,1230.9L383.4,1232.4L385.3,1233.9L387,1235.3L388.8,1236.7L390.7,1238.2L392.8,1239.7L394.4,1241L396.1,1242.2L397.9,1243.6L399.8,1244.9L401.8,1246.4L403.9,1247.9L406.2,1249.4L408.5,1251L410.9,1252.6L412.6,1253.8L414.4,1254.9L416.2,1256.1L418.1,1257.3L420,1258.5L422,1259.8L424.1,1261L426.2,1262.3L428.5,1263.6L430.8,1264.9L433.1,1266.3L435.6,1267.6L438.1,1269L440.8,1270.4L443.5,1271.8L446.3,1273.2L449.2,1274.6L452.3,1276.1L455.4,1277.5L458.6,1278.9L462,1280.3L465.4,1281.8L469,1283.2L472.8,1284.6L474.7,1285.2L476.6,1285.9L478.6,1286.6L480.6,1287.3L482.7,1287.9L484.8,1288.6L486.9,1289.2L489.1,1289.9L491.3,1290.5L493.5,1291.1L495.8,1291.7L498.1,1292.3L500.5,1292.8L502.9,1293.4L505.4,1293.9L507.9,1294.4L510.5,1294.9L513.1,1295.4L515.8,1295.9L518.5,1296.3L521.3,1296.7L524.1,1297.1L527,1297.5L530,1297.8L533,1298.1L536.1,1298.4L539.2,1298.6L542.4,1298.8L545.7,1298.9L549.1,1299.1L552.5,1299.1L556,1299.2L559.6,1299.2L563.2,1299.1L567,1299L570.8,1298.8L574.8,1298.6L578.8,1298.3L582.9,1298L587.2,1297.6L591.5,1297.2L596,1296.6L600.5,1296L605.2,1295.3L610,1294.6L614.9,1293.7L620,1292.8L625.2,1291.8L630.5,1290.7L636,1289.4L641.7,1288.1L647.5,1286.7L653.4,1285.2L659.6,1283.5L665.9,1281.8L672.4,1279.9L679.1,1277.8L686,1275.7L693,1273.4L700.3,1270.9L707.8,1268.3L715.6,1265.6L723.5,1262.7L731.7,1259.6L740.1,1256.4L748.7,1253L757.6,1249.4L766.7,1245.6L776.1,1241.6L785.7,1237.5L795.6,1233.2L805.7,1228.6L816,1223.9L826.6,1219L837.4,1213.9L848.5,1208.6L859.7,1203.1L871.2,1197.5L882.8,1191.7L894.6,1185.7L906.5,1179.5L918.6,1173.2L930.8,1166.8L943,1160.2L955.3,1153.6L967.6,1146.8L979.9,1140L992.1,1133.2L1004.3,1126.3L1016.3,1119.4L1028.1,1112.5L1039.8,1105.7L1051.2,1099L1062.4,1092.3L1073.3,1085.7L1083.8,1079.3L1094,1073.1L1103.7,1067L1113.1,1061.1L1122.1,1055.4L1130.6,1050L1138.7,1044.7L1146.3,1039.8L1153.5,1035.1L1160.2,1030.6L1166.4,1026.4L1172.3,1022.4L1177.6,1018.8L1182.6,1015.3L1187.2,1012.1L1191.3,1009.2L1195.1,1006.5L1198.6,1004L1201.7,1001.7L1204.6,999.7L1207.1,997.8L1209.4,996.1L1211.4,994.5L1213.2,993.1L1214.8,991.9L1217.5,989.8L1219.6,988.2L1221.1,986.9L1222.8,985.5L1224.4,984.1L1225.5,983.1M441.7,1340.4L443.3,1341.7L444.9,1342.9L446.6,1344.1L448.3,1345.3L449.9,1346.5L451.6,1347.7L453.3,1348.9L455.1,1350L456.9,1351.2L458.6,1352.3L460.6,1353.5L462.4,1354.6L464.4,1355.8L466.2,1356.8L468.2,1357.8L470.3,1359L472.1,1359.9L474,1360.8L476,1361.7L478.2,1362.7L480.5,1363.6L482.9,1364.6L484.8,1365.3L486.8,1366L488.9,1366.7L491.1,1367.4L493.5,1368L495.9,1368.7L498.4,1369.2L501.1,1369.8L504,1370.3L506.9,1370.7L509,1371L511.2,1371.2L513.5,1371.3L515.8,1371.5L518.2,1371.6L520.8,1371.6L523.5,1371.5L526.2,1371.5L529.2,1371.3L532.2,1371L535.4,1370.7L538.8,1370.3L542.4,1369.8L546.2,1369.1L548.1,1368.7L550.2,1368.3L552.3,1367.9L554.4,1367.4L556.6,1366.9L558.9,1366.4L561.3,1365.8L563.7,1365.1L566.2,1364.4L568.8,1363.7L571.5,1362.9L574.3,1362.1L577.2,1361.1L580.2,1360.2L583.3,1359.2L586.5,1358.1L589.8,1356.9L593.3,1355.6L596.9,1354.3L600.6,1352.9L604.5,1351.4L608.5,1349.8L612.7,1348.1L617.1,1346.3L621.7,1344.4L626.5,1342.4L631.4,1340.2L636.6,1338L642.1,1335.5L647.7,1333L653.6,1330.3L659.8,1327.4L666.2,1324.3L673,1321.1L680,1317.7L687.4,1314.1L695.1,1310.3L703.1,1306.3L711.5,1302L720.3,1297.5L729.4,1292.8L739,1287.8L748.9,1282.5L759.3,1277L770.1,1271.2L781.3,1265.1L792.9,1258.7L804.9,1252L817.4,1245.1L830.3,1237.8L843.5,1230.3L857.2,1222.5L871.1,1214.4L885.4,1206.1L900,1197.6L914.8,1188.8L929.7,1179.9L944.8,1170.8L960,1161.6L975.2,1152.3L990.3,1143L1005.2,1133.7L1020,1124.4L1034.5,1115.3L1048.6,1106.3L1062.4,1097.5L1075.6,1088.9L1088.3,1080.6L1100.5,1072.6L1112,1064.9L1122.9,1057.6L1133.2,1050.7L1142.7,1044.2L1151.5,1038.1L1159.7,1032.4L1167.2,1027.2L1174,1022.3L1180.3,1017.9L1185.9,1013.8L1190.9,1010.1L1195.4,1006.8L1199.5,1003.8L1203,1001.2L1206.2,998.8L1208.9,996.7L1211.3,994.8L1213.4,993.1L1215.3,991.7L1216.8,990.4L1219.3,988.4L1221.2,986.9L1223,985.3L1224.6,984L1225.5,983.1M253.6,1468.1L252.3,1469.6L250.9,1471.1L249.5,1472.6L248.1,1474.1L246.6,1475.5L245.1,1476.9L243.6,1478.2L241.9,1479.5L240.3,1480.8L238.7,1482L236.9,1483.2L235,1484.5L233.2,1485.6L231.3,1486.6L229.3,1487.7L227.2,1488.7L225.1,1489.6L222.9,1490.4L220.7,1491.1L218.6,1491.7L216.5,1492.3L214.5,1492.7L212.4,1493L210.4,1493.3L208.3,1493.5L206.2,1493.6L204.5,1493.6M304.5,1468.1L302.8,1469.1L301,1470.1L299.2,1471.1L297.4,1472.1L295.5,1473.1L293.6,1474L291.8,1474.9L289.8,1475.8L287.9,1476.7L286,1477.6L283.8,1478.5L281.9,1479.3L279.7,1480.2L277.8,1480.9L275.7,1481.7L273.5,1482.4L271.2,1483.2L269.3,1483.9L267.2,1484.5L265.1,1485.2L262.9,1485.8L260.6,1486.4L258.3,1487.1L255.8,1487.7L253.3,1488.3L250.8,1488.8L248.2,1489.4L246.2,1489.8L244.2,1490.1L242.3,1490.5L240.3,1490.8L238.3,1491.1L236.3,1491.4L233.7,1491.8L231.1,1492.1L228.6,1492.4L226.1,1492.6L223.8,1492.8L221.6,1493L219.5,1493.1L217,1493.3L214.8,1493.4L212.5,1493.5L210.2,1493.5L208.2,1493.6L206.1,1493.6L204.5,1493.6M357.9,1468.1L356,1468.8L354.1,1469.4L352.2,1470.1L350.2,1470.8L348.2,1471.5L346.2,1472.2L344.1,1472.8L342.2,1473.4L340,1474.1L337.8,1474.8L335.8,1475.4L333.6,1476.1L331.5,1476.7L329.3,1477.3L327,1478L324.9,1478.5L322.8,1479.1L320.5,1479.7L318.1,1480.3L315.5,1480.9L313.5,1481.4L311.4,1481.9L309.2,1482.4L307,1482.9L304.6,1483.4L302.2,1484L299.7,1484.5L297.1,1485L294.4,1485.5L291.7,1486L288.8,1486.6L285.9,1487.1L284,1487.4L282,1487.7L279.9,1488L277.9,1488.4L275.8,1488.7L273.7,1489L271.6,1489.3L269.5,1489.5L267.3,1489.8L265.2,1490.1L263,1490.3L260.8,1490.6L258.7,1490.8L256.5,1491.1L254.3,1491.3L252.2,1491.5L250.1,1491.7L248,1491.9L245.9,1492L243.8,1492.2L241.8,1492.3L239.8,1492.5L236.8,1492.7L234,1492.8L231.3,1493L228.7,1493.1L226.2,1493.2L223.9,1493.3L221.7,1493.3L219.6,1493.4L217.1,1493.5L214.9,1493.5L212.5,1493.5L210.2,1493.6L208.2,1493.6L206.1,1493.6L204.5,1493.6M414.2,1468.1L412.2,1468.4L410.2,1468.8L408.2,1469.2L406.2,1469.6L404.2,1470L402.2,1470.4L400,1470.8L398.1,1471.2L396.1,1471.6L393.9,1472.1L391.7,1472.5L389.4,1472.9L387.3,1473.4L384.9,1473.8L382.9,1474.2L380.8,1474.7L378.5,1475.1L376.1,1475.6L373.4,1476.1L371.4,1476.5L369.2,1477L366.9,1477.4L364.5,1477.9L362,1478.3L359.4,1478.8L356.6,1479.4L353.7,1479.9L351.7,1480.2L349.7,1480.6L347.5,1481L345.4,1481.4L343.1,1481.8L340.8,1482.2L338.5,1482.6L336.1,1483L333.6,1483.4L331,1483.8L328.4,1484.2L325.8,1484.6L323,1485L320.3,1485.4L317.4,1485.8L314.6,1486.3L311.6,1486.7L308.6,1487.1L305.6,1487.4L302.5,1487.8L299.4,1488.2L296.3,1488.6L293.1,1488.9L290,1489.3L286.8,1489.6L283.6,1489.9L280.3,1490.2L277.1,1490.5L273.9,1490.8L270.7,1491.1L267.6,1491.3L264.4,1491.5L261.3,1491.8L258.3,1492L255.2,1492.1L252.3,1492.3L249.4,1492.5L246.6,1492.6L243.8,1492.7L241.2,1492.9L238.6,1493L236.1,1493.1L233.7,1493.1L231.4,1493.2L229.2,1493.3L227.1,1493.3L224.2,1493.4L221.5,1493.4L219.1,1493.5L216.9,1493.5L214.4,1493.5L212.2,1493.6L210,1493.6L207.8,1493.6L205.8,1493.6L204.5,1493.6M472.5,1468.1L470.5,1468.1L468.4,1468.1L466.4,1468.1L464.3,1468.2L462.2,1468.3L460.2,1468.3L458,1468.4L456,1468.5L454,1468.6L451.7,1468.8L449.5,1468.9L447.1,1469.1L444.9,1469.3L442.5,1469.5L440.4,1469.7L438.2,1469.9L435.8,1470.2L433.3,1470.5L431.2,1470.7L429.1,1470.9L426.8,1471.2L424.4,1471.5L421.9,1471.8L419.2,1472.2L416.4,1472.6L413.4,1473L411.3,1473.3L409.2,1473.6L407,1473.9L404.7,1474.3L402.3,1474.6L399.8,1475L397.2,1475.4L394.6,1475.8L391.8,1476.2L389,1476.7L386.1,1477.1L383,1477.6L379.9,1478.1L376.6,1478.6L373.3,1479.2L369.8,1479.7L366.3,1480.3L362.6,1480.8L358.9,1481.4L355,1482L351,1482.6L349,1482.9L347,1483.2L344.9,1483.5L342.8,1483.8L340.7,1484.1L338.6,1484.4L336.5,1484.7L334.3,1485L332.1,1485.3L329.9,1485.5L327.7,1485.8L325.4,1486.1L323.2,1486.4L320.9,1486.7L318.6,1487L316.4,1487.2L314.1,1487.5L311.8,1487.8L309.4,1488L307.1,1488.3L304.8,1488.5L302.5,1488.8L300.2,1489L297.8,1489.2L295.5,1489.5L293.2,1489.7L290.9,1489.9L288.6,1490.1L286.3,1490.3L284,1490.5L281.8,1490.7L279.5,1490.8L277.3,1491L275,1491.2L272.8,1491.3L270.7,1491.5L268.5,1491.6L266.4,1491.8L264.3,1491.9L262.2,1492L260.2,1492.1L258.2,1492.2L254.2,1492.4L250.4,1492.6L246.8,1492.8L243.3,1492.9L240,1493L236.8,1493.1L233.8,1493.2L231,1493.3L228.4,1493.3L225.9,1493.4L223.6,1493.4L221.5,1493.5L218.7,1493.5L216.2,1493.5L214,1493.6L211.6,1493.6L209.3,1493.6L207.1,1493.6L205,1493.6L204.5,1493.6M530.8,1468.1L528.9,1467.6L526.9,1467.2L524.9,1466.7L522.9,1466.3L520.9,1465.9L518.7,1465.5L516.7,1465L514.5,1464.6L512.2,1464.2L510.1,1463.9L508,1463.5L505.7,1463.2L503.6,1462.9L501.3,1462.6L498.9,1462.3L496.8,1462L494.6,1461.8L492.2,1461.6L489.6,1461.4L487.6,1461.3L485.4,1461.1L483.1,1461.1L480.8,1461L478.2,1460.9L475.6,1460.9L472.8,1461L469.8,1461L467.7,1461.1L465.6,1461.2L463.3,1461.3L461,1461.5L458.5,1461.7L456,1461.9L453.4,1462.1L450.6,1462.4L447.7,1462.7L444.7,1463.1L441.6,1463.5L438.3,1464L434.8,1464.5L431.2,1465.1L427.5,1465.7L423.5,1466.4L421.5,1466.7L419.4,1467.1L417.2,1467.5L415,1467.9L412.8,1468.3L410.5,1468.8L408.2,1469.2L405.8,1469.7L403.3,1470.2L400.8,1470.7L398.3,1471.2L395.6,1471.7L393,1472.2L390.3,1472.8L387.5,1473.3L384.6,1473.9L381.7,1474.5L378.8,1475.1L375.8,1475.7L372.7,1476.3L369.6,1476.9L366.5,1477.5L363.3,1478.1L360,1478.7L356.7,1479.3L353.4,1479.9L350,1480.6L346.6,1481.2L343.2,1481.8L339.7,1482.4L336.2,1482.9L332.7,1483.5L329.2,1484.1L325.7,1484.6L322.1,1485.2L318.6,1485.7L315,1486.2L311.5,1486.7L307.9,1487.1L304.4,1487.6L300.9,1488L297.5,1488.4L294.1,1488.8L290.7,1489.2L287.3,1489.6L284,1489.9L280.7,1490.2L277.5,1490.5L274.4,1490.8L271.3,1491L268.3,1491.3L265.3,1491.5L262.4,1491.7L259.6,1491.9L256.9,1492L254.2,1492.2L251.6,1492.4L249.1,1492.5L246.7,1492.6L244.4,1492.7L242.1,1492.8L240,1492.9L237.9,1493L235.9,1493.1L232.1,1493.2L228.6,1493.3L225.5,1493.4L222.7,1493.4L220.2,1493.5L217.9,1493.5L215,1493.5L212.6,1493.6L210.1,1493.6L207.9,1493.6L205.9,1493.6L204.5,1493.6M587.1,1468.1L585.4,1467.1L583.7,1466L581.9,1464.9L580.1,1463.7L578.5,1462.6L576.8,1461.4L575.1,1460.2L573.5,1458.9L571.9,1457.5L570.3,1456.2L568.7,1454.7L567.3,1453.3L565.7,1451.7L564.2,1449.9L562.9,1448.3L561.6,1446.6L560.4,1444.7L559.2,1442.6L558.1,1440.4L557.4,1438.5L556.8,1436.4L556.4,1434.2L556.2,1431.9L556.3,1429.3L556.6,1427.3L557.1,1425.2L557.9,1422.9L559,1420.5L560.5,1418L561.7,1416.1L563.1,1414.2L564.7,1412.2L566.7,1410L568.9,1407.8L571.4,1405.3L574.3,1402.8L575.9,1401.4L577.6,1400L579.5,1398.5L581.4,1397L583.5,1395.4L585.7,1393.7L588.1,1392L590.6,1390.2L593.3,1388.3L596.2,1386.4L599.2,1384.3L602.5,1382.2L605.9,1379.9L609.6,1377.5L613.6,1375L617.7,1372.4L622.2,1369.6L626.9,1366.7L632,1363.6L637.4,1360.3L643.1,1356.9L649.2,1353.2L655.7,1349.4L662.6,1345.3L669.9,1340.9L677.7,1336.3L686,1331.4L694.8,1326.3L704.1,1320.8L714,1315L724.5,1308.8L735.5,1302.2L747.2,1295.3L759.6,1288L772.5,1280.3L786.2,1272.2L800.4,1263.7L815.3,1254.7L830.8,1245.3L846.9,1235.6L863.6,1225.5L880.7,1215L898.2,1204.2L916,1193.1L934.1,1181.8L952.4,1170.3L970.6,1158.8L988.8,1147.2L1006.8,1135.7L1024.4,1124.3L1041.5,1113.1L1058.1,1102.2L1074,1091.7L1089.1,1081.5L1103.4,1071.9L1116.8,1062.8L1129.2,1054.3L1140.7,1046.4L1151.1,1039L1160.7,1032.3L1169.3,1026.2L1176.9,1020.6L1183.8,1015.6L1189.8,1011.2L1195.1,1007.2L1199.8,1003.8L1203.8,1000.7L1207.2,998L1210.2,995.7L1212.8,993.7L1214.9,992L1216.8,990.5L1219.6,988.2L1221.5,986.6L1223.4,985L1225,983.6L1225.5,983.1M640.5,1468.1L639.4,1466.4L638.4,1464.6L637.5,1462.7L636.8,1460.8L636.1,1458.9L635.6,1456.9L635.1,1454.9L634.8,1452.7L634.6,1450.5L634.6,1448.4L634.6,1446.3L634.8,1444.1L635,1442.1L635.4,1439.9L635.9,1437.4L636.5,1435.5L637.1,1433.4L637.9,1431.1L638.9,1428.7L640,1426L640.9,1424.2L641.9,1422.2L643,1420.2L644.3,1418L645.6,1415.7L647.2,1413.3L648.9,1410.8L650.8,1408.2L652.9,1405.3L655.3,1402.4L657.9,1399.2L659.3,1397.6L660.7,1395.9L662.3,1394.2L663.9,1392.4L665.6,1390.6L667.4,1388.7L669.3,1386.8L671.2,1384.8L673.3,1382.7L675.5,1380.6L677.8,1378.4L680.1,1376.1L682.7,1373.8L685.3,1371.4L688,1368.9L690.9,1366.4L694,1363.8L697.1,1361L700.5,1358.2L703.9,1355.3L707.6,1352.3L711.4,1349.2L715.4,1346L719.6,1342.7L724,1339.3L728.5,1335.7L733.3,1332.1L738.3,1328.3L743.5,1324.3L749,1320.3L754.6,1316.1L760.6,1311.7L766.7,1307.3L773.2,1302.6L779.9,1297.8L786.8,1292.8L794.1,1287.7L801.6,1282.4L809.4,1277L817.5,1271.3L825.8,1265.5L834.5,1259.5L843.4,1253.3L852.6,1247L862.1,1240.5L871.9,1233.8L881.9,1227L892.1,1220L902.6,1212.8L913.3,1205.5L924.2,1198.1L935.3,1190.5L946.5,1182.9L957.9,1175.1L969.3,1167.3L980.8,1159.5L992.3,1151.6L1003.8,1143.7L1015.3,1135.8L1026.7,1128L1038,1120.2L1049.1,1112.5L1059.9,1105L1070.6,1097.5L1081,1090.3L1091.1,1083.2L1100.8,1076.3L1110.2,1069.7L1119.2,1063.3L1127.8,1057.2L1136,1051.3L1143.7,1045.7L1151,1040.4L1157.9,1035.4L1164.3,1030.7L1170.2,1026.3L1175.8,1022.2L1180.9,1018.4L1185.6,1014.9L1189.9,1011.6L1193.9,1008.6L1197.5,1005.8L1200.7,1003.3L1203.7,1001L1206.3,999L1208.7,997.1L1210.8,995.4L1212.7,993.9L1214.4,992.5L1217.2,990.3L1219.3,988.5L1221,987.1L1222.7,985.6L1224.3,984.2L1225.5,983.1M691.4,1468.1L691.7,1466.1L692.2,1464.1L692.7,1462.2L693.2,1460.2L693.8,1458.3L694.5,1456.2L695.3,1454.3L696.1,1452.3L696.9,1450.3L697.7,1448.4L698.7,1446.2L699.7,1444.3L700.7,1442.3L702,1439.9L703,1438L704.2,1436L705.5,1433.8L706.9,1431.4L708,1429.7L709.1,1427.9L710.3,1426L711.6,1424L713.1,1421.9L714.6,1419.6L716.2,1417.3L718,1414.8L720,1412.1L722.1,1409.3L724.3,1406.4L726.8,1403.2L728.1,1401.6L729.4,1399.9L730.8,1398.2L732.3,1396.4L733.8,1394.5L735.4,1392.6L737,1390.7L738.8,1388.7L740.5,1386.6L742.4,1384.5L744.3,1382.3L746.3,1380.1L748.4,1377.7L750.6,1375.3L752.8,1372.9L755.2,1370.4L757.6,1367.7L760.2,1365.1L762.8,1362.3L765.6,1359.5L768.4,1356.5L771.4,1353.5L774.5,1350.4L777.7,1347.2L781,1343.9L784.5,1340.6L788.1,1337.1L791.8,1333.5L795.7,1329.8L799.7,1326L803.9,1322.2L808.3,1318.2L812.7,1314.1L817.4,1309.8L822.2,1305.5L827.2,1301.1L832.4,1296.5L837.7,1291.8L843.2,1287L848.9,1282.1L854.8,1277.1L860.8,1271.9L867.1,1266.6L873.5,1261.2L880.1,1255.7L886.9,1250.1L893.9,1244.3L901.1,1238.4L908.4,1232.5L915.9,1226.4L923.6,1220.2L931.4,1213.9L939.4,1207.5L947.5,1201.1L955.7,1194.6L964.1,1188L972.5,1181.3L981.1,1174.6L989.7,1167.9L998.4,1161.1L1007.1,1154.3L1015.8,1147.5L1024.6,1140.8L1033.3,1134L1042,1127.3L1050.6,1120.6L1059.2,1114.1L1067.6,1107.6L1075.9,1101.2L1084.1,1094.9L1092.1,1088.7L1100,1082.7L1107.6,1076.8L1115,1071.1L1122.2,1065.5L1129.2,1060.2L1135.8,1055L1142.2,1050L1148.4,1045.3L1154.2,1040.7L1159.8,1036.4L1165.1,1032.3L1170.1,1028.3L1174.8,1024.7L1179.2,1021.2L1183.3,1017.9L1187.2,1014.8L1190.8,1012L1194.1,1009.3L1197.2,1006.9L1200,1004.6L1202.6,1002.5L1205,1000.5L1207.2,998.7L1209.2,997.1L1211,995.6L1212.6,994.2L1215.5,991.9L1217.7,989.9L1219.6,988.4L1221.6,986.6L1223.3,985.1L1224.9,983.7L1225.5,983.1M238.1,1013.7L239.8,1014.7L241.6,1015.8L243.3,1016.8L245.1,1017.8L246.9,1018.8L248.9,1019.8L250.8,1020.8L252.6,1021.7L254.7,1022.8L256.8,1023.8L258.7,1024.8L260.9,1025.8L262.8,1026.7L265,1027.7L267.3,1028.8L269.2,1029.6L271.3,1030.6L273.5,1031.5L276,1032.5L278.6,1033.6L280.4,1034.4L282.4,1035.2L284.5,1036L286.7,1036.9L289,1037.8L291.5,1038.8L294.1,1039.7L296.8,1040.8L299.8,1041.8L302.9,1042.9L306.2,1044.1L309.7,1045.3L313.4,1046.5L315.3,1047.1L317.3,1047.8L319.4,1048.5L321.5,1049.1L323.8,1049.8L326,1050.5L328.4,1051.2L330.8,1052L333.3,1052.7L335.9,1053.5L338.5,1054.2L341.3,1055L344.1,1055.8L347.1,1056.6L350.1,1057.4L353.3,1058.3L356.5,1059.1L359.8,1060L363.3,1060.8L366.9,1061.7L370.6,1062.6L374.4,1063.5L378.3,1064.4L382.4,1065.4L386.6,1066.3L391,1067.2L395.5,1068.2L400.1,1069.2L404.9,1070.1L409.9,1071.1L415.1,1072.1L420.4,1073L425.9,1074L431.5,1075L437.4,1076L443.4,1077L449.7,1078L456.2,1078.9L462.8,1079.9L469.7,1080.8L476.8,1081.8L484.2,1082.7L491.7,1083.6L499.5,1084.5L507.6,1085.4L515.8,1086.2L524.4,1087L533.2,1087.8L542.2,1088.5L551.5,1089.2L561.1,1089.9L570.9,1090.5L581,1091L591.3,1091.5L601.9,1091.9L612.8,1092.3L623.9,1092.6L635.3,1092.8L646.9,1092.9L658.8,1093L671,1093L683.3,1092.8L695.9,1092.6L708.7,1092.3L721.7,1091.8L734.8,1091.3L748.2,1090.7L761.7,1089.9L775.3,1089L789.1,1088L803,1086.9L816.9,1085.7L830.9,1084.3L844.9,1082.9L859,1081.3L873,1079.6L887,1077.8L900.9,1075.8L914.7,1073.8L928.4,1071.7L941.9,1069.5L955.3,1067.2L968.5,1064.8L981.4,1062.3L994.1,1059.8L1006.5,1057.2L1018.6,1054.6L1030.4,1052L1041.8,1049.3L1052.9,1046.6L1063.7,1043.9L1074,1041.1L1084,1038.4L1093.5,1035.8L1102.7,1033.1L1111.4,1030.5L1119.7,1027.9L1127.7,1025.4L1135.1,1022.9L1142.2,1020.6L1148.9,1018.2L1155.2,1016L1161.1,1013.8L1166.6,1011.7L1171.7,1009.7L1176.5,1007.8L1181,1006L1185.1,1004.3L1189,1002.6L1192.5,1001.1L1195.7,999.6L1198.7,998.2L1201.4,996.9L1203.9,995.7L1206.2,994.6L1208.3,993.5L1210.1,992.6L1213.4,990.8L1216,989.4L1218.1,988.1L1220.5,986.7L1222.2,985.6L1223.9,984.4L1225.5,983.1L1225.5,983.1M247.2,1115.8L247.9,1117.7L248.7,1119.6L249.4,1121.5L250.1,1123.5L250.9,1125.5L251.6,1127.4L252.4,1129.5L253.1,1131.4L253.8,1133.3L254.6,1135.5L255.4,1137.6L256.1,1139.5L256.9,1141.5L257.8,1143.8L258.5,1145.7L259.3,1147.8L260.2,1150.1L261.1,1152.5L261.8,1154.4L262.5,1156.4L263.3,1158.5L264.2,1160.8L265.1,1163.1L266,1165.6L267,1168.3L268,1171L268.8,1173L269.5,1174.9L270.3,1177L271.1,1179.2L271.9,1181.4L272.8,1183.7L273.6,1186L274.5,1188.5L275.5,1191L276.5,1193.7L277.4,1196.4L278.5,1199.2L279.5,1202.1L280.6,1205.1L281.7,1208.2L282.9,1211.4L284.1,1214.7L285.3,1218.2L286.5,1221.7L287.8,1225.3L289.1,1229.1L289.8,1231L290.5,1233L291.1,1235L291.8,1237L292.5,1239L293.2,1241.1L293.9,1243.2L294.6,1245.3L295.3,1247.5L296,1249.6L296.7,1251.9L297.5,1254.1L298.2,1256.4L298.9,1258.7L299.7,1261L300.4,1263.4L301.1,1265.8L301.9,1268.2L302.6,1270.7L303.3,1273.2L304.1,1275.7L304.8,1278.2L305.5,1280.8L306.3,1283.4L307,1286L307.7,1288.6L308.4,1291.3L309.1,1294L309.8,1296.8L310.5,1299.5L311.2,1302.3L311.8,1305.1L312.5,1307.9L313.1,1310.8L313.7,1313.6L314.3,1316.5L314.9,1319.4L315.5,1322.4L316,1325.3L316.5,1328.3L317,1331.3L317.5,1334.3L317.9,1337.3L318.3,1340.3L318.7,1343.3L319,1346.4L319.3,1349.4L319.6,1352.5L319.8,1355.6L319.9,1358.7L320.1,1361.7L320.2,1364.8L320.2,1367.9L320.2,1371L320.1,1374.1L320,1377.2L319.8,1380.3L319.6,1383.4L319.3,1386.4L318.9,1389.5L318.5,1392.6L318,1395.6L317.5,1398.6L316.8,1401.6L316.1,1404.6L315.4,1407.6L314.6,1410.6L313.7,1413.5L312.7,1416.4L311.6,1419.3L310.5,1422.1L309.4,1424.9L308.1,1427.7L306.8,1430.4L305.4,1433.1L303.9,1435.8L302.4,1438.4L300.8,1441L299.2,1443.5L297.5,1445.9L295.7,1448.3L293.9,1450.7L292,1453L290.1,1455.2L288.2,1457.3L286.2,1459.4L284.2,1461.4L282.1,1463.4L280,1465.3L278,1467.1L275.8,1468.8L273.7,1470.5L271.6,1472.1L269.4,1473.6L267.3,1475L265.2,1476.4L263.1,1477.7L261,1478.9L258.9,1480.1L256.8,1481.2L254.8,1482.2L252.7,1483.1L250.8,1484L248.8,1484.9L246.9,1485.7L245,1486.4L241.4,1487.7L237.9,1488.8L234.6,1489.7L231.6,1490.5L228.7,1491.1L226,1491.7L223.6,1492.1L221.3,1492.4L219.2,1492.7L216.5,1493L214.1,1493.2L211.6,1493.4L209.2,1493.5L206.9,1493.6L204.9,1493.6L204.5,1493.6M313.5,1120.9L315.1,1122.2L316.7,1123.4L318.2,1124.7L319.9,1125.9L321.5,1127.2L323.1,1128.4L324.9,1129.8L326.5,1131L328.2,1132.2L330,1133.5L331.8,1134.8L333.7,1136.2L335.5,1137.5L337.5,1138.9L339.2,1140.1L341,1141.3L343,1142.7L345.1,1144.1L346.8,1145.3L348.6,1146.5L350.6,1147.7L352.6,1149L354.7,1150.4L357,1151.8L359.4,1153.3L361.9,1154.9L363.7,1155.9L365.5,1157L367.4,1158.2L369.4,1159.3L371.5,1160.6L373.7,1161.8L375.9,1163.1L378.2,1164.4L380.7,1165.7L383.2,1167.1L385.8,1168.5L388.6,1169.9L391.4,1171.4L394.4,1172.9L397.5,1174.4L400.7,1176L404.1,1177.6L407.6,1179.2L411.2,1180.9L413.1,1181.8L415,1182.6L417,1183.5L419,1184.3L421.1,1185.2L423.1,1186.1L425.3,1186.9L427.4,1187.8L429.7,1188.7L431.9,1189.6L434.3,1190.5L436.6,1191.4L439,1192.3L441.5,1193.2L444,1194.1L446.6,1195L449.2,1195.9L451.9,1196.8L454.7,1197.7L457.5,1198.6L460.3,1199.5L463.3,1200.4L466.3,1201.3L469.3,1202.2L472.4,1203.1L475.6,1204L478.9,1204.8L482.2,1205.7L485.6,1206.5L489.1,1207.4L492.6,1208.2L496.2,1209L499.9,1209.8L503.7,1210.6L507.6,1211.3L511.5,1212.1L515.6,1212.8L519.7,1213.5L523.9,1214.1L528.2,1214.8L532.6,1215.4L537.1,1215.9L541.7,1216.5L546.4,1217L551.2,1217.5L556.1,1217.9L561.1,1218.3L566.2,1218.6L571.4,1218.9L576.8,1219.1L582.2,1219.3L587.8,1219.4L593.5,1219.5L599.4,1219.5L605.3,1219.4L611.4,1219.3L617.6,1219.1L624,1218.8L630.5,1218.5L637.1,1218L643.9,1217.5L650.8,1216.9L657.9,1216.2L665.1,1215.4L672.5,1214.5L680.1,1213.4L687.8,1212.3L695.6,1211.1L703.6,1209.8L711.8,1208.3L720.1,1206.7L728.6,1205L737.3,1203.2L746.1,1201.2L755.1,1199.1L764.3,1196.8L773.6,1194.5L783.1,1191.9L792.7,1189.3L802.5,1186.5L812.4,1183.5L822.5,1180.4L832.7,1177.2L843,1173.8L853.5,1170.3L864.1,1166.6L874.8,1162.8L885.5,1158.9L896.4,1154.8L907.3,1150.7L918.3,1146.4L929.3,1141.9L940.3,1137.4L951.3,1132.8L962.3,1128.1L973.3,1123.3L984.2,1118.5L995,1113.6L1005.7,1108.7L1016.3,1103.7L1026.7,1098.7L1037,1093.7L1047.1,1088.8L1057,1083.8L1066.7,1078.9L1076.1,1074.1L1085.2,1069.3L1094.1,1064.6L1102.7,1060L1110.9,1055.5L1118.9,1051.1L1126.5,1046.8L1133.8,1042.7L1140.7,1038.7L1147.3,1034.9L1153.5,1031.2L1159.4,1027.7L1165,1024.3L1170.2,1021.1L1175.1,1018.1L1179.6,1015.2L1183.9,1012.6L1187.8,1010L1191.5,1007.6L1194.8,1005.4L1197.9,1003.4L1200.8,1001.5L1203.4,999.7L1205.7,998.1L1207.9,996.5L1209.8,995.2L1211.6,993.9L1214.7,991.7L1217.1,989.9L1219.1,988.4L1221.2,986.7L1223.1,985.2L1224.7,983.8L1225.5,983.1M256.4,1217.9L256.7,1219.9L257.1,1221.9L257.4,1223.9L257.7,1226L258.1,1228L258.4,1230.2L258.8,1232.3L259.1,1234.3L259.4,1236.6L259.8,1238.8L260.1,1240.9L260.4,1243.3L260.7,1245.4L261.1,1247.7L261.4,1250.2L261.7,1252.3L262,1254.6L262.3,1257.1L262.7,1259.6L262.9,1261.7L263.2,1263.8L263.4,1266.1L263.7,1268.5L264,1270.9L264.3,1273.5L264.6,1276.2L264.9,1279.1L265.1,1282L265.3,1284.1L265.5,1286.2L265.7,1288.3L265.9,1290.6L266.1,1292.9L266.3,1295.2L266.4,1297.7L266.6,1300.2L266.8,1302.7L267,1305.4L267.1,1308.1L267.2,1310.9L267.4,1313.7L267.5,1316.6L267.6,1319.7L267.7,1322.7L267.8,1325.9L267.8,1329.1L267.9,1332.4L267.9,1335.8L267.9,1339.2L267.8,1342.7L267.8,1346.3L267.7,1350L267.6,1353.7L267.4,1357.5L267.2,1361.3L267,1365.2L266.7,1369.1L266.5,1371.1L266.4,1373.1L266.2,1375.2L266,1377.2L265.8,1379.2L265.6,1381.3L265.3,1383.3L265.1,1385.4L264.8,1387.5L264.6,1389.5L264.3,1391.6L264,1393.7L263.6,1395.8L263.3,1397.9L263,1400L262.6,1402.1L262.2,1404.1L261.8,1406.2L261.4,1408.3L261,1410.4L260.6,1412.5L260.1,1414.5L259.7,1416.6L259.2,1418.7L258.7,1420.7L258.2,1422.7L257.6,1424.8L257.1,1426.8L256.5,1428.7L255.9,1430.7L255.3,1432.7L254.7,1434.6L254.1,1436.5L252.8,1440.3L251.5,1444L250.1,1447.5L248.7,1451L247.2,1454.3L245.7,1457.5L244.2,1460.5L242.6,1463.4L241,1466.2L239.4,1468.8L237.8,1471.2L236.2,1473.5L234.6,1475.7L233,1477.6L231.4,1479.5L229.9,1481.1L228.4,1482.7L226.9,1484.1L224.7,1485.9L222.6,1487.5L220.6,1488.8L218.7,1489.8L216.5,1491L214.4,1491.8L212.2,1492.5L210,1493.1L207.8,1493.4L205.7,1493.6L204.5,1493.6M318.6,1223L319.6,1224.8L320.7,1226.5L321.7,1228.2L322.8,1230L323.8,1231.7L324.9,1233.6L326,1235.4L327.2,1237.3L328.4,1239.2L329.5,1241.1L330.6,1242.9L331.8,1244.9L332.9,1246.7L334.1,1248.6L335.4,1250.7L336.5,1252.5L337.6,1254.4L338.9,1256.4L340.2,1258.5L341.6,1260.8L342.7,1262.6L343.8,1264.4L345,1266.4L346.3,1268.4L347.6,1270.5L348.9,1272.7L350.4,1275L351.8,1277.3L353.4,1279.8L354.4,1281.5L355.5,1283.3L356.6,1285L357.8,1286.9L358.9,1288.7L360.1,1290.7L361.3,1292.6L362.6,1294.6L363.9,1296.7L365.2,1298.8L366.5,1300.9L367.9,1303.1L369.3,1305.4L370.7,1307.7L372.1,1310L373.6,1312.3L375,1314.8L376.5,1317.2L378.1,1319.7L379.6,1322.2L381.2,1324.8L382.7,1327.4L384.3,1330.1L385.9,1332.8L387.5,1335.5L389.1,1338.2L390.7,1341L392.3,1343.8L393.9,1346.6L395.5,1349.5L397,1352.4L398.6,1355.3L400.1,1358.2L401.6,1361.1L403,1364L404.4,1367L405.7,1369.9L407,1372.9L408.2,1375.9L409.3,1378.8L410.3,1381.8L411.3,1384.8L412.1,1387.7L412.8,1390.7L413.4,1393.7L413.8,1396.7L414,1399.6L414.1,1402.6L414,1405.6L413.7,1408.6L413.1,1411.6L412.3,1414.6L411.3,1417.6L409.9,1420.7L408.3,1423.8L406.3,1426.9L403.9,1430L402.6,1431.6L401.2,1433.2L399.7,1434.8L398.1,1436.4L396.3,1438L394.5,1439.6L392.5,1441.3L390.5,1442.9L388.3,1444.6L386,1446.3L383.5,1448L381,1449.6L378.3,1451.3L375.5,1453L372.6,1454.7L369.6,1456.4L366.4,1458.1L363.1,1459.8L359.7,1461.5L356.2,1463.1L352.6,1464.8L348.9,1466.4L345.1,1468L341.3,1469.6L337.3,1471.1L333.3,1472.6L329.2,1474L325.1,1475.4L320.9,1476.8L316.7,1478.1L312.5,1479.3L308.3,1480.5L304.1,1481.6L299.9,1482.7L295.8,1483.7L291.7,1484.6L287.7,1485.5L283.7,1486.3L279.8,1487L275.9,1487.7L272.2,1488.3L268.6,1488.9L265,1489.5L261.6,1489.9L258.3,1490.4L255,1490.8L252,1491.1L249,1491.4L246.1,1491.7L243.4,1492L240.8,1492.2L238.3,1492.4L235.9,1492.5L233.7,1492.7L231.5,1492.8L229.5,1492.9L225.8,1493.1L222.6,1493.3L219.7,1493.4L217.2,1493.4L215,1493.5L212.4,1493.5L210.3,1493.6L208.2,1493.6L206.1,1493.6L204.5,1493.6" fill="none" stroke="#ff0000" stroke-width="4.0" stroke-linejoin="round" stroke-linecap="butt"/>
<g stroke="#000" stroke-width="2" fill="none"><path d="M77,905.5L77,1570L1353,1570"/><path d="M204,1570L204,1557"/><path d="M714,1570L714,1557"/><path d="M1225,1570L1225,1557"/><path d="M77,1494L90,1494"/><path d="M77,983L90,983"/></g>
<rect x="1402" y="1559.63" width="64" height="10.97" fill="#00008f"/><rect x="1402" y="1549.27" width="64" height="10.97" fill="#00009f"/><rect x="1402" y="1538.90" width="64" height="10.97" fill="#0000af"/><rect x="1402" y="1528.53" width="64" height="10.97" fill="#0000bf"/><rect x="1402" y="1518.16" width="64" height="10.97" fill="#0000cf"/><rect x="1402" y="1507.80" width="64" height="10.97" fill="#0000df"/><rect x="1402" y="1497.43" width="64" height="10.97" fill="#0000ef"/><rect x="1402" y="1487.06" width="64" height="10.97" fill="#0000ff"/><rect x="1402" y="1476.70" width="64" height="10.97" fill="#0010ff"/><rect x="1402" y="1466.33" width="64" height="10.97" fill="#0020ff"/><rect x="1402" y="1455.96" width="64" height="10.97" fill="#0030ff"/><rect x="1402" y="1445.59" width="64" height="10.97" fill="#0040ff"/><rect x="1402" y="1435.23" width="64" height="10.97" fill="#0050ff"/><rect x="1402" y="1424.86" width="64" height="10.97" fill="#0060ff"/><rect x="1402" y="1414.49" width="64" height="10.97" fill="#0070ff"/><rect x="1402" y="1404.12" width="64" height="10.97" fill="#0080ff"/><rect x="1402" y="1393.76" width="64" height="10.97" fill="#008fff"/><rect x="1402" y="1383.39" width="64" height="10.97" fill="#009fff"/><rect x="1402" y="1373.02" width="64" height="10.97" fill="#00afff"/><rect x="1402" y="1362.66" width="64" height="10.97" fill="#00bfff"/><rect x="1402" y="1352.29" width="64" height="10.97" fill="#00cfff"/><rect x="1402" y="1341.92" width="64" height="10.97" fill="#00dfff"/><rect x="1402" y="1331.55" width="64" height="10.97" fill="#00efff"/><rect x="1402" y="1321.19" width="64" height="10.97" fill="#00ffff"/><rect x="1402" y="1310.82" width="64" height="10.97" fill="#10ffef"/><rect x="1402" y="1300.45" width="64" height="10.97" fill="#20ffdf"/><rect x="1402" y="1290.09" width="64" height="10.97" fill="#30ffcf"/><rect x="1402" y="1279.72" width="64" height="10.97" fill="#40ffbf"/><rect x="1402" y="1269.35" width="64" height="10.97" fill="#50ffaf"/><rect x="1402" y="1258.98" width="64" height="10.97" fill="#60ff9f"/><rect x="1402" y="1248.62" width="64" height="10.97" fill="#70ff8f"/><rect x="1402" y="1238.25" width="64" height="10.97" fill="#80ff80"/><rect x="1402" y="1227.88" width="64" height="10.97" fill="#8fff70"/><rect x="1402" y="1217.52" width="64" height="10.97" fill="#9fff60"/><rect x="1402" y="1207.15" width="64" height="10.97" fill="#afff50"/><rect x="1402" y="1196.78" width="64" height="10.97" fill="#bfff40"/><rect x="1402" y="1186.41" width="64" height="10.97" fill="#cfff30"/><rect x="1402" y="1176.05" width="64" height="10.97" fill="#dfff20"/><rect x="1402" y="1165.68" width="64" height="10.97" fill="#efff10"/><rect x="1402" y="1155.31" width="64" height="10.97" fill="#ffff00"/><rect x="1402" y="1144.95" width="64" height="10.97" fill="#ffef00"/><rect x="1402" y="1134.58" width="64" height="10.97" fill="#ffdf00"/><rect x="1402" y="1124.21" width="64" height="10.97" fill="#ffcf00"/><rect x="1402" y="1113.84" width="64" height="10.97" fill="#ffbf00"/><rect x="1402" y="1103.48" width="64" height="10.97" fill="#ffaf00"/><rect x="1402" y="1093.11" width="64" height="10.97" fill="#ff9f00"/><rect x="1402" y="1082.74" width="64" height="10.97" fill="#ff8f00"/><rect x="1402" y="1072.38" width="64" height="10.97" fill="#ff8000"/><rect x="1402" y="1062.01" width="64" height="10.97" fill="#ff7000"/><rect x="1402" y="1051.64" width="64" height="10.97" fill="#ff6000"/><rect x="1402" y="1041.27" width="64" height="10.97" fill="#ff5000"/><rect x="1402" y="1030.91" width="64" height="10.97" fill="#ff4000"/><rect x="1402" y="1020.54" width="64" height="10.97" fill="#ff3000"/><rect x="1402" y="1010.17" width="64" height="10.97" fill="#ff2000"/><rect x="1402" y="999.80" width="64" height="10.97" fill="#ff1000"/><rect x="1402" y="989.44" width="64" height="10.97" fill="#ff0000"/><rect x="1402" y="979.07" width="64" height="10.97" fill="#ef0000"/><rect x="1402" y="968.70" width="64" height="10.97" fill="#df0000"/><rect x="1402" y="958.34" width="64" height="10.97" fill="#cf0000"/><rect x="1402" y="947.97" width="64" height="10.97" fill="#bf0000"/><rect x="1402" y="937.60" width="64" height="10.97" fill="#af0000"/><rect x="1402" y="927.23" width="64" height="10.97" fill="#9f0000"/><rect x="1402" y="916.87" width="64" height="10.97" fill="#8f0000"/><rect x="1402" y="906.50" width="64" height="10.97" fill="#800000"/><rect x="1402" y="906.5" width="64" height="663.5" fill="none" stroke="#000" stroke-width="2"/><g stroke="#000" stroke-width="2"><path d="M1402,1466.9L1408.5,1466.9M1466,1466.9L1459.5,1466.9"/><path d="M1402,1352.6L1408.5,1352.6M1466,1352.6L1459.5,1352.6"/><path d="M1402,1238.2L1408.5,1238.2M1466,1238.2L1459.5,1238.2"/><path d="M1402,1123.9L1408.5,1123.9M1466,1123.9L1459.5,1123.9"/><path d="M1402,1009.6L1408.5,1009.6M1466,1009.6L1459.5,1009.6"/></g>
</g>
<g font-family="'Liberation Sans', sans-serif" font-size="30" fill="#000" stroke="#000" stroke-width="0.5"><text x="204" y="699.8" text-anchor="middle">0</text><text x="714.5" y="699.8" text-anchor="middle">1</text><text x="1225" y="699.8" text-anchor="middle">2</text><text x="66.5" y="597.8" text-anchor="end">0</text><text x="66.5" y="87.3" text-anchor="end">1</text></g>
<g font-family="'Liberation Sans', sans-serif" font-size="30" fill="#000" stroke="#000" stroke-width="0.5"><text x="1475" y="571.8">−0.5</text><text x="1475" y="457.5">0</text><text x="1475" y="343.2">0.5</text><text x="1475" y="228.8">1</text><text x="1475" y="114.5">1.5</text></g>
<g font-family="'Liberation Serif', serif" fill="#000"><text transform="translate(695.5,732) scale(1.1,1)" font-size="38" font-style="italic">η<tspan font-size="27" dx="2" dy="6.5" font-style="normal">1</tspan></text><text transform="translate(-1,336.9) scale(1.1,1)" font-size="38" font-style="italic">η<tspan font-size="27" dx="2" dy="6.5" font-style="normal">2</tspan></text><text x="760.5" y="818.2" font-size="43" text-anchor="middle">(a)</text></g>
<g font-family="'Liberation Sans', sans-serif" font-size="30" fill="#000" stroke="#000" stroke-width="0.5"><text x="204" y="1605.8" text-anchor="middle">0</text><text x="714.5" y="1605.8" text-anchor="middle">1</text><text x="1225" y="1605.8" text-anchor="middle">2</text><text x="66.5" y="1503.8" text-anchor="end">0</text><text x="66.5" y="993.3" text-anchor="end">1</text></g>
<g font-family="'Liberation Sans', sans-serif" font-size="30" fill="#000" stroke="#000" stroke-width="0.5"><text x="1475" y="1477.8">−0.5</text><text x="1475" y="1363.5">0</text><text x="1475" y="1249.2">0.5</text><text x="1475" y="1134.8">1</text><text x="1475" y="1020.5">1.5</text></g>
<g font-family="'Liberation Serif', serif" fill="#000"><text transform="translate(695.5,1638) scale(1.1,1)" font-size="38" font-style="italic">η<tspan font-size="27" dx="2" dy="6.5" font-style="normal">1</tspan></text><text transform="translate(-1,1242.8) scale(1.1,1)" font-size="38" font-style="italic">η<tspan font-size="27" dx="2" dy="6.5" font-style="normal">2</tspan></text><text x="760.5" y="1725.7" font-size="43" text-anchor="middle">(b)</text></g>
</svg></body></html>
